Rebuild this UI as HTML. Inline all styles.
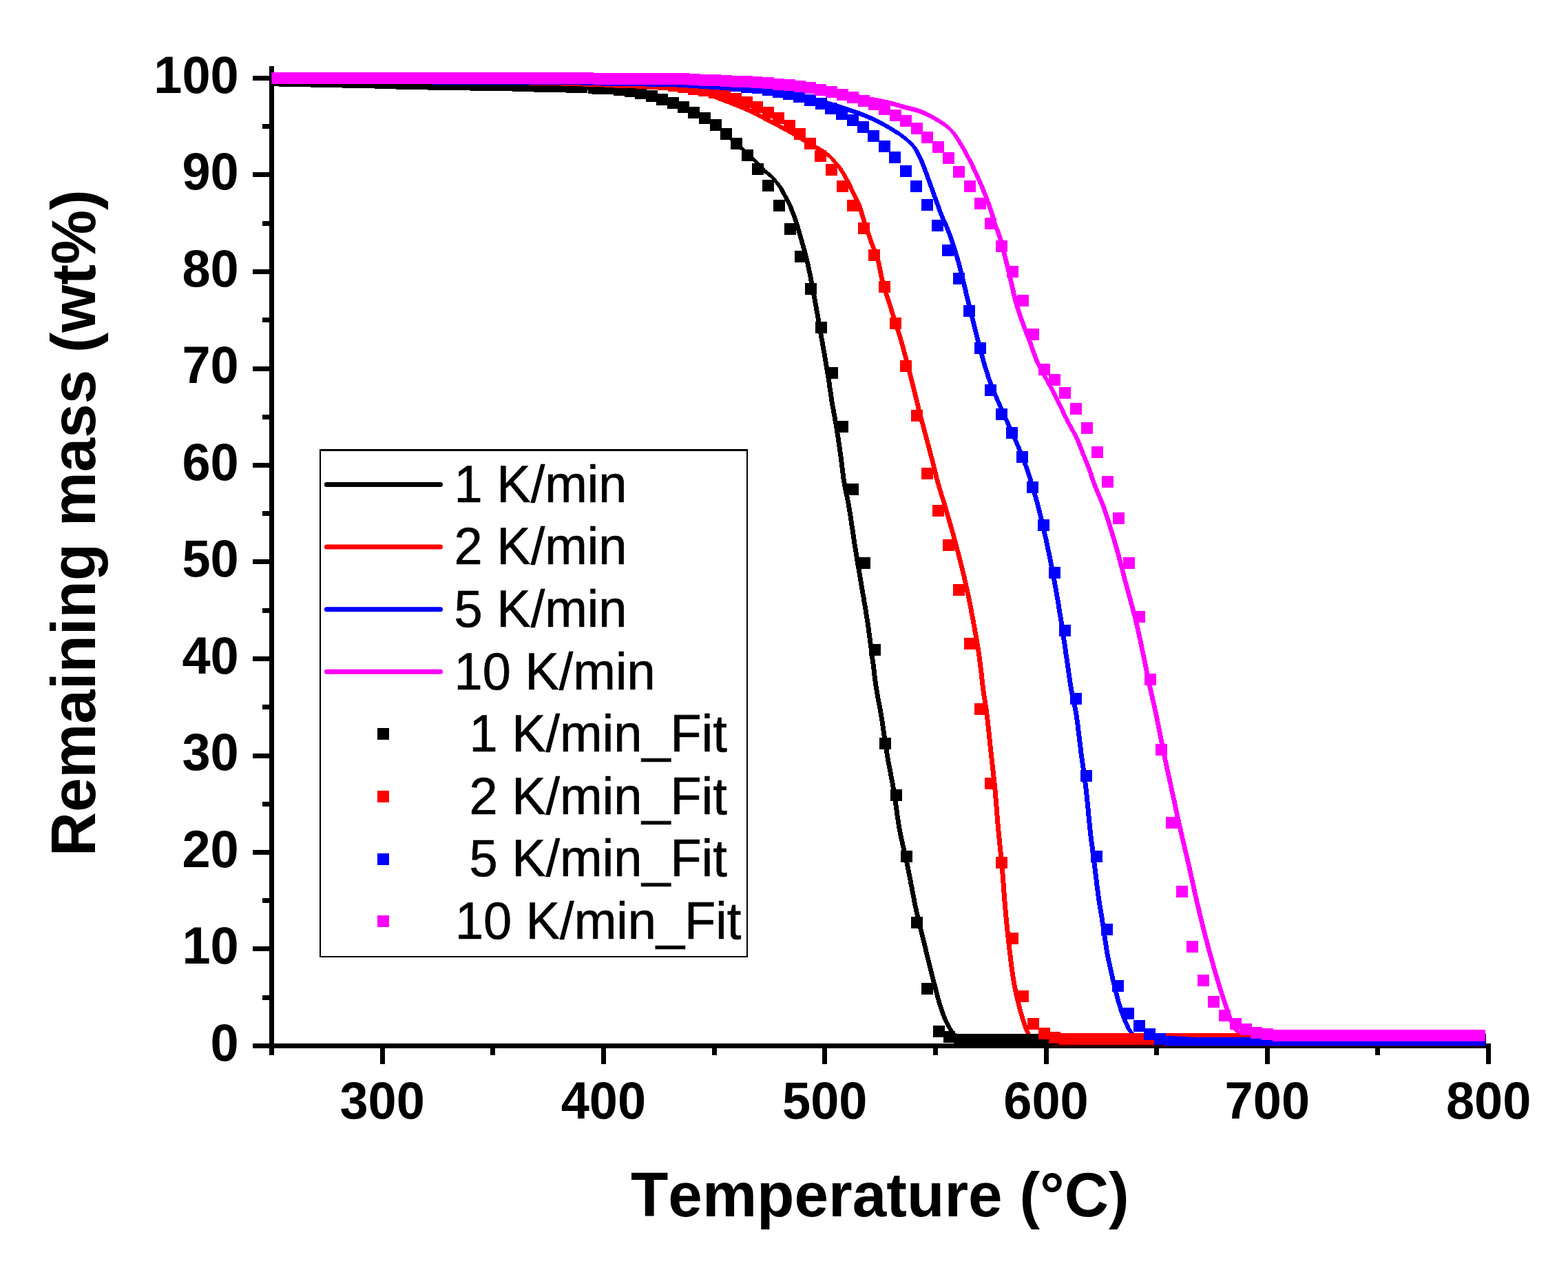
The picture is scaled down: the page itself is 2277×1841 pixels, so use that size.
<!DOCTYPE html>
<html lang="en"><head><meta charset="utf-8"><title>Remaining mass vs. temperature</title>
<style>html,body{margin:0;padding:0;background:#fff}body{width:2277px;height:1841px;overflow:hidden}svg{display:block}text{font-family:"Liberation Sans",sans-serif;fill:#000;font-kerning:none;stroke:#000;stroke-width:.7px;stroke-linejoin:round}.b{font-weight:bold;stroke-width:0}</style></head><body>
<svg width="2277" height="1841" viewBox="0 0 2277 1841" role="img" aria-label="Remaining mass versus temperature for heating rates of 1, 2, 5 and 10 K/min with model fits">
<rect width="2277" height="1841" fill="#fff"/>
<g fill="#000" shape-rendering="crispEdges">
<rect x="391" y="96" width="7" height="1426"/>
<rect x="391" y="1515" width="1774" height="7"/>
<rect x="367" y="1515" width="25" height="7"/>
<rect x="381" y="1445" width="11" height="7"/>
<rect x="367" y="1374" width="25" height="7"/>
<rect x="381" y="1304" width="11" height="7"/>
<rect x="367" y="1234" width="25" height="7"/>
<rect x="381" y="1164" width="11" height="7"/>
<rect x="367" y="1094" width="25" height="7"/>
<rect x="381" y="1023" width="11" height="7"/>
<rect x="367" y="953" width="25" height="7"/>
<rect x="381" y="883" width="11" height="7"/>
<rect x="367" y="812" width="25" height="7"/>
<rect x="381" y="742" width="11" height="7"/>
<rect x="367" y="672" width="25" height="7"/>
<rect x="381" y="602" width="11" height="7"/>
<rect x="367" y="532" width="25" height="7"/>
<rect x="381" y="461" width="11" height="7"/>
<rect x="367" y="391" width="25" height="7"/>
<rect x="381" y="321" width="11" height="7"/>
<rect x="367" y="250" width="25" height="7"/>
<rect x="381" y="180" width="11" height="7"/>
<rect x="367" y="110" width="25" height="7"/>
<rect x="391" y="1521" width="7" height="11"/>
<rect x="552" y="1521" width="7" height="24"/>
<rect x="712" y="1521" width="7" height="11"/>
<rect x="873" y="1521" width="7" height="24"/>
<rect x="1034" y="1521" width="7" height="11"/>
<rect x="1194" y="1521" width="7" height="24"/>
<rect x="1355" y="1521" width="7" height="11"/>
<rect x="1516" y="1521" width="7" height="24"/>
<rect x="1676" y="1521" width="7" height="11"/>
<rect x="1837" y="1521" width="7" height="24"/>
<rect x="1997" y="1521" width="7" height="11"/>
<rect x="2158" y="1521" width="7" height="24"/>
</g>
<text transform="translate(346.7 1539.5) scale(1 1.027)" font-size="74" text-anchor="end" class="b">0</text>
<text transform="translate(346.7 1399.0) scale(1 1.027)" font-size="74" text-anchor="end" class="b">10</text>
<text transform="translate(346.7 1258.5) scale(1 1.027)" font-size="74" text-anchor="end" class="b">20</text>
<text transform="translate(346.7 1118.0) scale(1 1.027)" font-size="74" text-anchor="end" class="b">30</text>
<text transform="translate(346.7 977.5) scale(1 1.027)" font-size="74" text-anchor="end" class="b">40</text>
<text transform="translate(346.7 837.0) scale(1 1.027)" font-size="74" text-anchor="end" class="b">50</text>
<text transform="translate(346.7 696.5) scale(1 1.027)" font-size="74" text-anchor="end" class="b">60</text>
<text transform="translate(346.7 556.0) scale(1 1.027)" font-size="74" text-anchor="end" class="b">70</text>
<text transform="translate(346.7 415.5) scale(1 1.027)" font-size="74" text-anchor="end" class="b">80</text>
<text transform="translate(346.7 275.0) scale(1 1.027)" font-size="74" text-anchor="end" class="b">90</text>
<text transform="translate(346.7 134.5) scale(1 1.027)" font-size="74" text-anchor="end" class="b">100</text>
<text transform="translate(555.1 1624.0) scale(1 1.027)" font-size="74" text-anchor="middle" class="b">300</text>
<text transform="translate(876.4 1624.0) scale(1 1.027)" font-size="74" text-anchor="middle" class="b">400</text>
<text transform="translate(1197.7 1624.0) scale(1 1.027)" font-size="74" text-anchor="middle" class="b">500</text>
<text transform="translate(1519.0 1624.0) scale(1 1.027)" font-size="74" text-anchor="middle" class="b">600</text>
<text transform="translate(1840.3 1624.0) scale(1 1.027)" font-size="74" text-anchor="middle" class="b">700</text>
<text transform="translate(2161.6 1624.0) scale(1 1.027)" font-size="74" text-anchor="middle" class="b">800</text>
<text transform="translate(1277.8 1765.9) scale(1 1.025)" font-size="89.1" text-anchor="middle" class="b">Temperature (°C)</text>
<text class="b" font-size="88.9" text-anchor="middle" transform="translate(137.6 759.3) rotate(-90) scale(1 1.025)">Remaining mass (wt%)</text>
<defs><clipPath id="plot"><rect x="394.5" y="90" width="1780" height="1428.5"/></clipPath></defs>
<g clip-path="url(#plot)">
<g shape-rendering="crispEdges">
<path fill="#000000" d="M394.5,113.5 397.0,113.6 399.5,113.6 402.0,113.7 404.5,113.7 407.0,113.8 409.5,113.8 412.0,113.9 414.5,113.9 417.0,114.0 419.5,114.1 422.0,114.1 424.5,114.2 427.0,114.2 429.5,114.3 432.0,114.3 434.5,114.4 437.0,114.4 439.5,114.5 442.0,114.5 444.5,114.6 447.0,114.7 449.5,114.7 452.0,114.8 454.5,114.8 457.0,114.9 459.5,114.9 462.0,115.0 464.5,115.0 467.0,115.1 469.5,115.1 472.0,115.2 474.5,115.2 477.0,115.3 479.5,115.3 482.0,115.4 484.5,115.4 487.0,115.5 489.5,115.6 492.0,115.6 494.5,115.7 497.0,115.7 499.5,115.8 502.0,115.8 504.5,115.9 507.0,115.9 509.5,116.0 512.0,116.0 514.5,116.1 517.0,116.1 519.5,116.2 522.0,116.2 524.5,116.3 527.0,116.3 529.5,116.4 532.0,116.4 534.5,116.5 537.0,116.5 539.5,116.6 542.0,116.6 544.5,116.7 547.0,116.7 549.5,116.8 552.0,116.8 554.5,116.9 557.0,116.9 559.5,117.0 562.0,117.0 564.5,117.1 567.0,117.1 569.5,117.2 572.0,117.2 574.5,117.3 577.0,117.3 579.5,117.4 582.0,117.4 584.5,117.5 587.0,117.5 589.5,117.6 592.0,117.6 594.5,117.7 597.0,117.7 599.5,117.7 602.0,117.8 604.5,117.8 607.0,117.9 609.5,117.9 612.0,118.0 614.5,118.0 617.0,118.1 619.5,118.1 622.0,118.1 624.5,118.2 627.0,118.2 629.5,118.3 632.0,118.3 634.5,118.4 637.0,118.4 639.5,118.5 641.9,118.5 644.4,118.5 646.9,118.6 649.4,118.6 651.9,118.7 654.4,118.7 656.9,118.8 659.4,118.8 661.9,118.9 664.4,118.9 666.9,119.0 669.4,119.0 671.9,119.1 674.4,119.1 676.9,119.2 679.4,119.2 681.9,119.2 684.4,119.3 686.9,119.3 689.4,119.4 691.9,119.4 694.4,119.5 696.9,119.5 699.4,119.6 701.9,119.7 704.4,119.7 706.9,119.8 709.4,119.8 711.9,119.9 714.4,119.9 716.9,120.0 719.4,120.0 721.9,120.1 724.4,120.1 726.9,120.2 729.4,120.3 731.9,120.3 734.4,120.4 736.9,120.4 739.4,120.5 741.9,120.5 744.4,120.6 746.9,120.6 749.4,120.7 751.9,120.8 754.4,120.8 756.9,120.9 759.4,120.9 761.9,121.0 764.4,121.1 766.9,121.1 769.4,121.2 771.9,121.2 774.4,121.3 776.9,121.4 779.4,121.4 781.9,121.5 784.4,121.6 786.9,121.6 789.4,121.7 791.9,121.8 794.4,121.8 796.9,121.9 799.4,122.0 801.9,122.1 804.4,122.1 806.9,122.2 809.4,122.3 811.9,122.4 814.4,122.5 816.9,122.5 819.4,122.6 821.9,122.7 824.4,122.8 826.9,122.9 829.4,123.0 831.9,123.1 834.4,123.2 836.9,123.3 839.4,123.4 841.9,123.5 844.4,123.6 846.9,123.7 849.4,123.8 851.9,123.9 854.4,124.0 856.9,124.1 859.4,124.2 861.9,124.4 864.4,124.5 866.9,124.6 869.4,124.8 871.9,124.9 874.4,125.1 876.9,125.2 879.4,125.4 881.9,125.6 884.4,125.7 886.9,125.9 889.4,126.1 891.9,126.3 894.3,126.5 896.8,126.7 899.3,126.9 901.8,127.2 904.2,127.4 906.7,127.8 909.2,128.1 911.7,128.5 914.1,128.9 916.6,129.3 919.1,129.8 921.5,130.3 924.0,130.8 926.4,131.3 928.9,131.8 931.3,132.4 933.8,132.9 936.2,133.5 938.7,134.1 941.1,134.7 943.5,135.3 945.9,135.9 948.3,136.5 950.8,137.1 953.2,137.8 955.6,138.5 958.0,139.2 960.4,139.9 962.8,140.6 965.2,141.4 967.6,142.2 969.9,143.0 972.3,143.8 974.7,144.7 977.1,145.5 979.4,146.4 981.7,147.3 984.1,148.2 986.4,149.2 988.7,150.1 991.0,151.1 993.2,152.0 995.5,153.0 997.8,154.0 1000.0,155.1 1002.3,156.2 1004.6,157.3 1006.8,158.4 1009.1,159.5 1011.3,160.7 1013.5,161.9 1015.7,163.1 1017.9,164.4 1020.1,165.6 1022.3,166.9 1024.4,168.2 1026.6,169.5 1028.7,170.9 1030.8,172.2 1032.9,173.6 1034.9,175.0 1037.0,176.4 1039.0,177.8 1041.0,179.3 1042.9,180.8 1044.8,182.4 1046.7,184.0 1048.6,185.7 1050.4,187.4 1052.2,189.1 1054.0,190.9 1055.8,192.6 1057.7,194.4 1059.5,196.1 1061.3,197.9 1063.2,199.5 1065.0,201.2 1066.9,202.9 1068.7,204.5 1070.6,206.2 1072.5,207.9 1074.3,209.5 1076.2,211.2 1078.0,212.9 1079.9,214.6 1081.7,216.3 1083.5,218.0 1085.3,219.8 1087.1,221.5 1088.9,223.2 1090.8,224.9 1092.6,226.6 1094.4,228.4 1096.2,230.1 1098.1,231.8 1099.9,233.5 1101.7,235.2 1106.9,240.5 1108.6,242.3 1110.3,244.2 1111.9,246.1 1110.2,244.4 1112.0,246.0 1114.0,247.6 1116.0,249.2 1117.9,250.8 1119.7,252.5 1124.9,257.8 1126.7,259.6 1128.4,261.4 1130.0,263.3 1131.6,265.2 1133.2,267.2 1134.7,269.2 1136.2,271.2 1137.6,273.3 1138.8,275.4 1140.0,277.6 1141.1,279.9 1142.2,282.1 1143.4,284.3 1144.6,286.5 1145.7,288.7 1146.9,291.0 1148.1,293.2 1149.2,295.4 1150.3,297.6 1151.3,299.9 1152.3,302.2 1153.1,304.6 1154.0,306.9 1154.9,309.3 1155.8,311.6 1156.7,313.9 1157.6,316.2 1158.5,318.6 1159.3,321.0 1160.0,323.3 1160.7,325.7 1161.4,328.1 1162.1,330.6 1162.8,333.0 1163.5,335.4 1164.2,337.8 1164.9,340.2 1165.6,342.6 1166.3,345.0 1167.0,347.4 1167.7,349.8 1168.4,352.2 1169.1,354.6 1169.7,357.0 1170.4,359.4 1171.1,361.8 1171.8,364.2 1172.4,366.6 1173.1,369.0 1173.7,371.5 1174.3,373.9 1174.9,376.3 1175.5,378.7 1176.1,381.2 1176.6,383.6 1177.2,386.0 1177.7,388.5 1178.2,390.9 1178.7,393.4 1179.2,395.8 1179.7,398.3 1180.2,400.7 1180.7,403.2 1181.2,405.6 1181.6,408.1 1182.1,410.5 1182.6,413.0 1183.0,415.5 1183.5,417.9 1183.9,420.4 1184.4,422.8 1184.8,425.3 1185.3,427.8 1185.7,430.2 1186.2,432.7 1186.7,435.1 1187.1,437.6 1187.6,440.0 1188.0,442.5 1188.5,445.0 1188.9,447.4 1189.4,449.9 1189.8,452.3 1190.2,454.8 1190.7,457.3 1191.1,459.7 1191.5,462.2 1192.0,464.7 1192.4,467.1 1192.8,469.6 1193.3,472.0 1193.7,474.5 1194.1,477.0 1194.6,479.4 1195.0,481.9 1195.4,484.4 1195.8,486.8 1196.3,489.3 1196.7,491.8 1197.1,494.2 1197.6,496.7 1198.0,499.1 1198.4,501.6 1198.9,504.1 1199.3,506.5 1199.7,509.0 1200.2,511.5 1200.6,513.9 1201.0,516.4 1201.4,518.8 1201.9,521.3 1202.3,523.8 1202.7,526.2 1203.1,528.7 1203.6,531.2 1204.0,533.6 1204.4,536.1 1204.8,538.6 1205.2,541.0 1205.6,543.5 1206.0,546.0 1206.4,548.4 1206.8,550.9 1207.2,553.4 1207.6,555.8 1207.9,558.3 1208.3,560.8 1208.6,563.3 1209.0,565.7 1209.4,568.2 1209.7,570.7 1210.1,573.2 1210.4,575.6 1210.8,578.1 1211.2,580.6 1211.6,583.0 1212.0,585.5 1212.4,588.0 1212.8,590.4 1213.3,592.9 1213.7,595.4 1214.1,597.8 1214.6,600.3 1215.0,602.7 1215.5,605.2 1216.0,607.7 1216.4,610.1 1216.9,612.6 1217.3,615.0 1217.7,617.5 1218.1,620.0 1218.5,622.4 1218.9,624.9 1219.3,627.4 1219.7,629.8 1220.1,632.3 1220.5,634.8 1220.8,637.3 1221.2,639.7 1221.6,642.2 1221.9,644.7 1222.3,647.2 1222.6,649.6 1223.0,652.1 1223.3,654.6 1223.7,657.1 1224.0,659.5 1224.3,662.0 1224.7,664.5 1225.0,667.0 1225.3,669.4 1225.6,671.9 1225.9,674.4 1226.2,676.9 1226.5,679.4 1226.8,681.9 1227.1,684.3 1227.4,686.8 1227.8,689.3 1228.1,691.8 1228.4,694.3 1228.8,696.7 1229.2,699.2 1229.6,701.7 1230.0,704.1 1230.5,706.6 1230.9,709.0 1231.4,711.5 1231.9,713.9 1232.4,716.4 1233.0,718.8 1233.5,721.3 1234.0,723.7 1234.5,726.2 1235.0,728.6 1235.5,731.1 1236.0,733.5 1236.4,736.0 1236.8,738.5 1237.2,740.9 1237.6,743.4 1238.0,745.8 1238.4,748.3 1238.8,750.8 1239.2,753.3 1239.5,755.7 1239.9,758.2 1240.2,760.7 1240.6,763.2 1241.0,765.6 1241.3,768.1 1241.7,770.6 1242.0,773.1 1242.4,775.5 1242.7,778.0 1243.1,780.5 1243.5,783.0 1243.8,785.4 1244.2,787.9 1244.6,790.4 1245.0,792.8 1245.4,795.3 1245.8,797.8 1246.2,800.3 1246.6,802.7 1247.0,805.2 1247.4,807.7 1247.8,810.1 1248.2,812.6 1248.6,815.1 1249.0,817.5 1249.4,820.0 1249.8,822.4 1250.3,824.9 1250.7,827.4 1251.1,829.8 1251.5,832.3 1251.9,834.8 1252.3,837.2 1252.8,839.7 1253.2,842.2 1253.6,844.6 1254.0,847.1 1254.4,849.6 1254.8,852.0 1255.2,854.5 1255.7,857.0 1256.1,859.4 1256.5,861.9 1256.9,864.4 1257.4,866.8 1257.8,869.3 1258.2,871.7 1258.6,874.2 1259.1,876.7 1259.5,879.1 1259.9,881.6 1260.3,884.1 1260.7,886.5 1261.1,889.0 1261.5,891.5 1261.9,893.9 1262.3,896.4 1262.7,898.9 1263.1,901.4 1263.4,903.8 1263.8,906.3 1264.2,908.8 1264.5,911.2 1264.9,913.7 1265.2,916.2 1265.5,918.7 1265.9,921.1 1266.2,923.6 1266.6,926.1 1266.9,928.6 1267.2,931.1 1267.5,933.5 1267.9,936.0 1268.2,938.5 1268.5,941.0 1268.8,943.5 1269.1,945.9 1269.5,948.4 1269.8,950.9 1270.1,953.4 1270.4,955.9 1270.7,958.3 1271.1,960.8 1271.4,963.3 1271.7,965.8 1272.0,968.3 1272.3,970.7 1272.6,973.2 1272.9,975.7 1273.2,978.2 1273.5,980.7 1273.8,983.2 1274.1,985.6 1274.4,988.1 1274.8,990.6 1275.1,993.1 1275.4,995.5 1275.8,998.0 1276.2,1000.5 1276.6,1003.0 1277.0,1005.4 1277.4,1007.9 1277.9,1010.3 1278.3,1012.8 1278.8,1015.2 1279.3,1017.7 1279.8,1020.2 1280.2,1022.6 1280.7,1025.1 1281.2,1027.5 1281.7,1030.0 1282.1,1032.4 1282.5,1034.9 1282.9,1037.4 1283.3,1039.8 1283.7,1042.3 1284.1,1044.8 1284.5,1047.2 1284.9,1049.7 1285.2,1052.2 1285.6,1054.7 1286.0,1057.1 1286.3,1059.6 1286.7,1062.1 1287.0,1064.6 1287.4,1067.0 1287.7,1069.5 1288.1,1072.0 1288.4,1074.5 1288.8,1076.9 1289.2,1079.4 1289.5,1081.9 1289.9,1084.4 1290.3,1086.8 1290.7,1089.3 1291.1,1091.8 1291.5,1094.2 1291.9,1096.7 1292.4,1099.2 1292.8,1101.6 1293.2,1104.1 1293.7,1106.5 1294.2,1109.0 1294.6,1111.4 1295.1,1113.9 1295.6,1116.4 1296.0,1118.8 1296.5,1121.3 1297.0,1123.7 1297.4,1126.2 1297.9,1128.6 1298.4,1131.1 1298.8,1133.6 1299.3,1136.0 1299.7,1138.5 1300.1,1140.9 1300.6,1143.4 1301.0,1145.9 1301.4,1148.3 1301.8,1150.8 1302.2,1153.3 1302.6,1155.7 1302.9,1158.2 1303.3,1160.7 1303.7,1163.2 1304.0,1165.6 1304.4,1168.1 1304.7,1170.6 1305.1,1173.1 1305.4,1175.5 1305.7,1178.0 1306.1,1180.5 1306.4,1183.0 1306.8,1185.5 1307.2,1187.9 1307.5,1190.4 1307.9,1192.9 1308.3,1195.3 1308.7,1197.8 1309.1,1200.3 1309.5,1202.7 1310.0,1205.2 1310.4,1207.6 1310.9,1210.1 1311.4,1212.5 1311.9,1215.0 1312.4,1217.4 1312.9,1219.9 1313.5,1222.3 1314.0,1224.8 1314.6,1227.2 1315.1,1229.6 1315.7,1232.1 1316.2,1234.5 1316.8,1237.0 1317.4,1239.4 1317.9,1241.8 1318.5,1244.3 1319.0,1246.7 1319.6,1249.2 1320.1,1251.6 1320.7,1254.0 1321.2,1256.5 1321.7,1258.9 1322.2,1261.4 1322.7,1263.8 1323.2,1266.3 1323.7,1268.7 1324.1,1271.2 1324.6,1273.6 1325.1,1276.1 1325.6,1278.5 1326.0,1281.0 1326.5,1283.5 1327.0,1285.9 1327.5,1288.4 1327.9,1290.8 1328.4,1293.3 1328.9,1295.7 1329.3,1298.2 1329.8,1300.6 1330.3,1303.1 1330.8,1305.6 1331.2,1308.0 1331.7,1310.5 1332.2,1312.9 1332.7,1315.4 1333.2,1317.8 1333.7,1320.3 1334.3,1322.7 1334.8,1325.1 1335.4,1327.6 1335.9,1330.0 1336.5,1332.4 1337.1,1334.9 1337.6,1337.3 1338.2,1339.7 1338.8,1342.2 1339.4,1344.6 1340.0,1347.0 1340.6,1349.5 1341.2,1351.9 1341.8,1354.3 1342.4,1356.7 1343.0,1359.2 1343.6,1361.6 1344.2,1364.0 1344.8,1366.5 1345.4,1368.9 1346.0,1371.3 1346.6,1373.7 1347.2,1376.2 1347.8,1378.6 1348.4,1381.0 1348.9,1383.5 1349.5,1385.9 1350.1,1388.3 1350.7,1390.7 1351.3,1393.2 1351.9,1395.6 1352.5,1398.0 1353.1,1400.4 1353.7,1402.9 1354.4,1405.3 1355.0,1407.7 1355.6,1410.1 1356.2,1412.6 1356.8,1415.0 1357.4,1417.4 1358.1,1419.8 1358.7,1422.3 1359.3,1424.7 1359.9,1427.1 1360.6,1429.5 1361.2,1431.9 1361.8,1434.4 1362.4,1436.8 1363.1,1439.2 1363.7,1441.6 1364.3,1444.1 1364.9,1446.5 1365.6,1448.9 1366.2,1451.3 1366.9,1453.7 1367.6,1456.1 1368.3,1458.5 1369.0,1460.9 1369.8,1463.3 1370.6,1465.6 1371.4,1468.0 1372.2,1470.4 1373.1,1472.7 1374.0,1475.1 1375.0,1477.4 1376.0,1479.7 1377.0,1481.9 1378.1,1484.2 1379.2,1486.5 1380.3,1488.8 1381.5,1491.1 1382.8,1493.3 1384.2,1495.5 1385.6,1497.5 1387.1,1499.4 1385.2,1497.5 1387.1,1499.2 1389.1,1500.8 1391.3,1502.4 1393.6,1503.7 1395.9,1504.8 1398.2,1505.4 1400.6,1505.6 1403.0,1505.8 1405.4,1506.0 1407.9,1506.2 1410.5,1506.3 1413.0,1506.4 1415.6,1506.5 1418.1,1506.5 1420.6,1506.5 1423.1,1506.5 1425.6,1506.5 1428.1,1506.5 1430.6,1506.5 1433.1,1506.5 1435.6,1506.5 1438.1,1506.5 1440.6,1506.5 1443.1,1506.5 1445.6,1506.5 1448.1,1506.5 1450.6,1506.5 1453.1,1506.5 1455.6,1506.5 1458.1,1506.5 1460.6,1506.5 1463.1,1506.5 1465.6,1506.5 1468.1,1506.5 1470.6,1506.5 1473.1,1506.5 1475.6,1506.5 1478.1,1506.5 1480.6,1506.5 1483.1,1506.5 1485.6,1506.5 1488.1,1506.5 1490.6,1506.5 1493.1,1506.5 1495.6,1506.5 1498.1,1506.5 1500.6,1506.5 1503.1,1506.5 1505.6,1506.5 1508.1,1506.5 1510.6,1506.5 1513.1,1506.5 1515.6,1506.5 1518.1,1506.5 1520.6,1506.5 1523.1,1506.5 1525.6,1506.5 1528.1,1506.5 1530.6,1506.5 1533.1,1506.5 1535.6,1506.5 1538.1,1506.5 1540.6,1506.5 1543.1,1506.5 1545.6,1506.5 1548.1,1506.5 1550.6,1506.5 1553.1,1506.5 1555.6,1506.5 1558.1,1506.5 1560.6,1506.5 1563.1,1506.5 1565.5,1506.5 1568.0,1506.5 1570.5,1506.5 1573.0,1506.5 1575.5,1506.5 1578.0,1506.5 1580.5,1506.5 1583.0,1506.5 1585.5,1506.5 1588.0,1506.5 1590.5,1506.5 1593.0,1506.5 1595.5,1506.5 1598.0,1506.5 1600.5,1506.5 1603.0,1506.5 1605.5,1506.5 1608.0,1506.5 1610.5,1506.5 1613.0,1506.5 1615.5,1506.5 1618.0,1506.5 1620.5,1506.5 1623.0,1506.5 1625.5,1506.5 1628.0,1506.5 1630.5,1506.5 1633.0,1506.5 1635.5,1506.5 1638.0,1506.5 1640.5,1506.5 1643.0,1506.5 1645.5,1506.5 1648.0,1506.5 1650.5,1506.5 1653.0,1506.5 1655.5,1506.5 1658.0,1506.5 1660.5,1506.5 1663.0,1506.5 1665.5,1506.5 1668.0,1506.5 1670.5,1506.5 1673.0,1506.5 1675.5,1506.5 1678.0,1506.5 1680.5,1506.5 1683.0,1506.5 1685.5,1506.5 1688.0,1506.5 1690.5,1506.5 1693.0,1506.5 1695.5,1506.5 1698.0,1506.5 1700.5,1506.5 1703.0,1506.5 1705.5,1506.5 1708.0,1506.5 1710.5,1506.5 1713.0,1506.5 1715.5,1506.5 1718.0,1506.5 1720.5,1506.5 1723.0,1506.5 1725.5,1506.5 1728.0,1506.5 1730.5,1506.5 1733.0,1506.5 1735.5,1506.5 1738.0,1506.5 1740.5,1506.5 1743.0,1506.5 1745.5,1506.5 1748.0,1506.5 1750.5,1506.5 1753.0,1506.5 1755.5,1506.5 1758.0,1506.5 1760.5,1506.5 1763.0,1506.5 1765.5,1506.5 1768.0,1506.5 1770.5,1506.5 1773.0,1506.5 1775.5,1506.5 1778.0,1506.5 1780.5,1506.5 1783.0,1506.5 1785.5,1506.5 1788.0,1506.5 1790.5,1506.5 1793.0,1506.5 1795.5,1506.5 1798.0,1506.5 1800.5,1506.5 1803.0,1506.5 1805.5,1506.5 1808.0,1506.5 1810.5,1506.5 1813.0,1506.5 1815.5,1506.5 1818.0,1506.5 1820.5,1506.5 1823.0,1506.5 1825.5,1506.5 1828.0,1506.5 1830.5,1506.5 1833.0,1506.5 1835.5,1506.5 1838.0,1506.5 1840.5,1506.5 1843.0,1506.5 1845.5,1506.5 1848.0,1506.5 1850.5,1506.5 1853.0,1506.5 1855.5,1506.5 1858.0,1506.5 1860.5,1506.5 1863.0,1506.5 1865.5,1506.5 1868.0,1506.5 1870.5,1506.5 1873.0,1506.5 1875.5,1506.5 1878.0,1506.5 1880.5,1506.5 1883.0,1506.5 1885.5,1506.5 1888.0,1506.5 1890.5,1506.5 1893.0,1506.5 1895.5,1506.5 1898.0,1506.5 1900.5,1506.5 1903.0,1506.5 1905.5,1506.5 1908.0,1506.5 1910.5,1506.5 1913.0,1506.5 1915.5,1506.5 1918.0,1506.5 1920.5,1506.5 1923.0,1506.5 1925.5,1506.5 1928.0,1506.5 1930.5,1506.5 1933.0,1506.5 1935.5,1506.5 1938.0,1506.5 1940.5,1506.5 1943.0,1506.5 1945.5,1506.5 1948.0,1506.5 1950.5,1506.5 1953.0,1506.5 1955.5,1506.5 1958.0,1506.5 1960.5,1506.5 1963.0,1506.5 1965.5,1506.5 1968.0,1506.5 1970.5,1506.5 1973.0,1506.5 1975.5,1506.5 1978.0,1506.5 1980.5,1506.5 1983.0,1506.5 1985.5,1506.5 1988.0,1506.5 1990.5,1506.5 1993.0,1506.5 1995.5,1506.5 1998.0,1506.5 2000.5,1506.5 2003.0,1506.5 2005.5,1506.5 2008.0,1506.5 2010.5,1506.5 2013.0,1506.5 2015.5,1506.5 2018.0,1506.5 2020.5,1506.5 2023.0,1506.5 2025.5,1506.5 2028.0,1506.5 2030.5,1506.5 2033.0,1506.5 2035.5,1506.5 2038.0,1506.5 2040.5,1506.5 2043.0,1506.5 2045.6,1506.5 2048.1,1506.5 2050.6,1506.5 2053.1,1506.5 2055.6,1506.5 2058.1,1506.5 2060.6,1506.5 2063.1,1506.5 2065.6,1506.5 2068.1,1506.5 2070.6,1506.5 2073.1,1506.5 2075.6,1506.5 2078.1,1506.5 2080.6,1506.5 2083.1,1506.5 2085.6,1506.5 2088.1,1506.5 2090.6,1506.5 2093.1,1506.5 2095.6,1506.5 2098.1,1506.5 2100.6,1506.5 2103.1,1506.5 2105.6,1506.5 2108.1,1506.5 2110.6,1506.5 2113.1,1506.5 2115.6,1506.5 2118.1,1506.5 2120.6,1506.5 2123.1,1506.5 2125.6,1506.5 2128.1,1506.5 2130.6,1506.5 2133.1,1506.5 2135.6,1506.5 2138.1,1506.5 2140.6,1506.5 2143.1,1506.5 2145.6,1506.5 2148.1,1506.5 2150.0,1506.5 2150.0,1513.5 2148.1,1513.5 2145.6,1513.5 2143.1,1513.5 2140.6,1513.5 2138.1,1513.5 2135.6,1513.5 2133.1,1513.5 2130.6,1513.5 2128.1,1513.5 2125.6,1513.5 2123.1,1513.5 2120.6,1513.5 2118.1,1513.5 2115.6,1513.5 2113.1,1513.5 2110.6,1513.5 2108.1,1513.5 2105.6,1513.5 2103.1,1513.5 2100.6,1513.5 2098.1,1513.5 2095.6,1513.5 2093.1,1513.5 2090.6,1513.5 2088.1,1513.5 2085.6,1513.5 2083.1,1513.5 2080.6,1513.5 2078.1,1513.5 2075.6,1513.5 2073.1,1513.5 2070.6,1513.5 2068.1,1513.5 2065.6,1513.5 2063.1,1513.5 2060.6,1513.5 2058.1,1513.5 2055.6,1513.5 2053.1,1513.5 2050.6,1513.5 2048.1,1513.5 2045.6,1513.5 2043.0,1513.5 2040.5,1513.5 2038.0,1513.5 2035.5,1513.5 2033.0,1513.5 2030.5,1513.5 2028.0,1513.5 2025.5,1513.5 2023.0,1513.5 2020.5,1513.5 2018.0,1513.5 2015.5,1513.5 2013.0,1513.5 2010.5,1513.5 2008.0,1513.5 2005.5,1513.5 2003.0,1513.5 2000.5,1513.5 1998.0,1513.5 1995.5,1513.5 1993.0,1513.5 1990.5,1513.5 1988.0,1513.5 1985.5,1513.5 1983.0,1513.5 1980.5,1513.5 1978.0,1513.5 1975.5,1513.5 1973.0,1513.5 1970.5,1513.5 1968.0,1513.5 1965.5,1513.5 1963.0,1513.5 1960.5,1513.5 1958.0,1513.5 1955.5,1513.5 1953.0,1513.5 1950.5,1513.5 1948.0,1513.5 1945.5,1513.5 1943.0,1513.5 1940.5,1513.5 1938.0,1513.5 1935.5,1513.5 1933.0,1513.5 1930.5,1513.5 1928.0,1513.5 1925.5,1513.5 1923.0,1513.5 1920.5,1513.5 1918.0,1513.5 1915.5,1513.5 1913.0,1513.5 1910.5,1513.5 1908.0,1513.5 1905.5,1513.5 1903.0,1513.5 1900.5,1513.5 1898.0,1513.5 1895.5,1513.5 1893.0,1513.5 1890.5,1513.5 1888.0,1513.5 1885.5,1513.5 1883.0,1513.5 1880.5,1513.5 1878.0,1513.5 1875.5,1513.5 1873.0,1513.5 1870.5,1513.5 1868.0,1513.5 1865.5,1513.5 1863.0,1513.5 1860.5,1513.5 1858.0,1513.5 1855.5,1513.5 1853.0,1513.5 1850.5,1513.5 1848.0,1513.5 1845.5,1513.5 1843.0,1513.5 1840.5,1513.5 1838.0,1513.5 1835.5,1513.5 1833.0,1513.5 1830.5,1513.5 1828.0,1513.5 1825.5,1513.5 1823.0,1513.5 1820.5,1513.5 1818.0,1513.5 1815.5,1513.5 1813.0,1513.5 1810.5,1513.5 1808.0,1513.5 1805.5,1513.5 1803.0,1513.5 1800.5,1513.5 1798.0,1513.5 1795.5,1513.5 1793.0,1513.5 1790.5,1513.5 1788.0,1513.5 1785.5,1513.5 1783.0,1513.5 1780.5,1513.5 1778.0,1513.5 1775.5,1513.5 1773.0,1513.5 1770.5,1513.5 1768.0,1513.5 1765.5,1513.5 1763.0,1513.5 1760.5,1513.5 1758.0,1513.5 1755.5,1513.5 1753.0,1513.5 1750.5,1513.5 1748.0,1513.5 1745.5,1513.5 1743.0,1513.5 1740.5,1513.5 1738.0,1513.5 1735.5,1513.5 1733.0,1513.5 1730.5,1513.5 1728.0,1513.5 1725.5,1513.5 1723.0,1513.5 1720.5,1513.5 1718.0,1513.5 1715.5,1513.5 1713.0,1513.5 1710.5,1513.5 1708.0,1513.5 1705.5,1513.5 1703.0,1513.5 1700.5,1513.5 1698.0,1513.5 1695.5,1513.5 1693.0,1513.5 1690.5,1513.5 1688.0,1513.5 1685.5,1513.5 1683.0,1513.5 1680.5,1513.5 1678.0,1513.5 1675.5,1513.5 1673.0,1513.5 1670.5,1513.5 1668.0,1513.5 1665.5,1513.5 1663.0,1513.5 1660.5,1513.5 1658.0,1513.5 1655.5,1513.5 1653.0,1513.5 1650.5,1513.5 1648.0,1513.5 1645.5,1513.5 1643.0,1513.5 1640.5,1513.5 1638.0,1513.5 1635.5,1513.5 1633.0,1513.5 1630.5,1513.5 1628.0,1513.5 1625.5,1513.5 1623.0,1513.5 1620.5,1513.5 1618.0,1513.5 1615.5,1513.5 1613.0,1513.5 1610.5,1513.5 1608.0,1513.5 1605.5,1513.5 1603.0,1513.5 1600.5,1513.5 1598.0,1513.5 1595.5,1513.5 1593.0,1513.5 1590.5,1513.5 1588.0,1513.5 1585.5,1513.5 1583.0,1513.5 1580.5,1513.5 1578.0,1513.5 1575.5,1513.5 1573.0,1513.5 1570.5,1513.5 1568.0,1513.5 1565.5,1513.5 1563.1,1513.5 1560.6,1513.5 1558.1,1513.5 1555.6,1513.5 1553.1,1513.5 1550.6,1513.5 1548.1,1513.5 1545.6,1513.5 1543.1,1513.5 1540.6,1513.5 1538.1,1513.5 1535.6,1513.5 1533.1,1513.5 1530.6,1513.5 1528.1,1513.5 1525.6,1513.5 1523.1,1513.5 1520.6,1513.5 1518.1,1513.5 1515.6,1513.5 1513.1,1513.5 1510.6,1513.5 1508.1,1513.5 1505.6,1513.5 1503.1,1513.5 1500.6,1513.5 1498.1,1513.5 1495.6,1513.5 1493.1,1513.5 1490.6,1513.5 1488.1,1513.5 1485.6,1513.5 1483.1,1513.5 1480.6,1513.5 1478.1,1513.5 1475.6,1513.5 1473.1,1513.5 1470.6,1513.5 1468.1,1513.5 1465.6,1513.5 1463.1,1513.5 1460.6,1513.5 1458.1,1513.5 1455.6,1513.5 1453.1,1513.5 1450.6,1513.5 1448.1,1513.5 1445.6,1513.5 1443.1,1513.5 1440.6,1513.5 1438.1,1513.5 1435.6,1513.5 1433.1,1513.5 1430.6,1513.5 1428.1,1513.5 1425.6,1513.5 1423.1,1513.5 1420.6,1513.5 1418.1,1513.5 1415.6,1513.5 1413.0,1513.4 1410.5,1513.3 1407.9,1513.2 1405.4,1513.0 1403.0,1512.8 1400.6,1512.6 1398.2,1512.4 1395.9,1511.8 1393.6,1510.7 1391.3,1509.4 1389.1,1507.8 1387.1,1506.2 1385.2,1504.5 1380.1,1499.4 1378.6,1497.5 1377.2,1495.5 1375.8,1493.3 1374.5,1491.1 1373.3,1488.8 1372.2,1486.5 1371.1,1484.2 1370.0,1481.9 1369.0,1479.7 1368.0,1477.4 1367.0,1475.1 1366.1,1472.7 1365.2,1470.4 1364.4,1468.0 1363.6,1465.6 1362.8,1463.3 1362.0,1460.9 1361.3,1458.5 1360.6,1456.1 1359.9,1453.7 1359.2,1451.3 1358.6,1448.9 1357.9,1446.5 1357.3,1444.1 1356.7,1441.6 1356.1,1439.2 1355.4,1436.8 1354.8,1434.4 1354.2,1431.9 1353.6,1429.5 1352.9,1427.1 1352.3,1424.7 1351.7,1422.3 1351.1,1419.8 1350.4,1417.4 1349.8,1415.0 1349.2,1412.6 1348.6,1410.1 1348.0,1407.7 1347.4,1405.3 1346.7,1402.9 1346.1,1400.4 1345.5,1398.0 1344.9,1395.6 1344.3,1393.2 1343.7,1390.7 1343.1,1388.3 1342.5,1385.9 1341.9,1383.5 1341.4,1381.0 1340.8,1378.6 1340.2,1376.2 1339.6,1373.7 1339.0,1371.3 1338.4,1368.9 1337.8,1366.5 1337.2,1364.0 1336.6,1361.6 1336.0,1359.2 1335.4,1356.7 1334.8,1354.3 1334.2,1351.9 1333.6,1349.5 1333.0,1347.0 1332.4,1344.6 1331.8,1342.2 1331.2,1339.7 1330.6,1337.3 1330.1,1334.9 1329.5,1332.4 1328.9,1330.0 1328.4,1327.6 1327.8,1325.1 1327.3,1322.7 1326.7,1320.3 1326.2,1317.8 1325.7,1315.4 1325.2,1312.9 1324.7,1310.5 1324.2,1308.0 1323.8,1305.6 1323.3,1303.1 1322.8,1300.6 1322.3,1298.2 1321.9,1295.7 1321.4,1293.3 1320.9,1290.8 1320.5,1288.4 1320.0,1285.9 1319.5,1283.5 1319.0,1281.0 1318.6,1278.5 1318.1,1276.1 1317.6,1273.6 1317.1,1271.2 1316.7,1268.7 1316.2,1266.3 1315.7,1263.8 1315.2,1261.4 1314.7,1258.9 1314.2,1256.5 1313.7,1254.0 1313.1,1251.6 1312.6,1249.2 1312.0,1246.7 1311.5,1244.3 1310.9,1241.8 1310.4,1239.4 1309.8,1237.0 1309.2,1234.5 1308.7,1232.1 1308.1,1229.6 1307.6,1227.2 1307.0,1224.8 1306.5,1222.3 1305.9,1219.9 1305.4,1217.4 1304.9,1215.0 1304.4,1212.5 1303.9,1210.1 1303.4,1207.6 1303.0,1205.2 1302.5,1202.7 1302.1,1200.3 1301.7,1197.8 1301.3,1195.3 1300.9,1192.9 1300.5,1190.4 1300.2,1187.9 1299.8,1185.5 1299.4,1183.0 1299.1,1180.5 1298.7,1178.0 1298.4,1175.5 1298.1,1173.1 1297.7,1170.6 1297.4,1168.1 1297.0,1165.6 1296.7,1163.2 1296.3,1160.7 1295.9,1158.2 1295.6,1155.7 1295.2,1153.3 1294.8,1150.8 1294.4,1148.3 1294.0,1145.9 1293.6,1143.4 1293.1,1140.9 1292.7,1138.5 1292.3,1136.0 1291.8,1133.6 1291.4,1131.1 1290.9,1128.6 1290.4,1126.2 1290.0,1123.7 1289.5,1121.3 1289.0,1118.8 1288.6,1116.4 1288.1,1113.9 1287.6,1111.4 1287.2,1109.0 1286.7,1106.5 1286.2,1104.1 1285.8,1101.6 1285.4,1099.2 1284.9,1096.7 1284.5,1094.2 1284.1,1091.8 1283.7,1089.3 1283.3,1086.8 1282.9,1084.4 1282.5,1081.9 1282.2,1079.4 1281.8,1076.9 1281.4,1074.5 1281.1,1072.0 1280.7,1069.5 1280.4,1067.0 1280.0,1064.6 1279.7,1062.1 1279.3,1059.6 1279.0,1057.1 1278.6,1054.7 1278.2,1052.2 1277.9,1049.7 1277.5,1047.2 1277.1,1044.8 1276.7,1042.3 1276.3,1039.8 1275.9,1037.4 1275.5,1034.9 1275.1,1032.4 1274.7,1030.0 1274.2,1027.5 1273.7,1025.1 1273.2,1022.6 1272.8,1020.2 1272.3,1017.7 1271.8,1015.2 1271.3,1012.8 1270.9,1010.3 1270.4,1007.9 1270.0,1005.4 1269.6,1003.0 1269.2,1000.5 1268.8,998.0 1268.4,995.5 1268.1,993.1 1267.8,990.6 1267.4,988.1 1267.1,985.6 1266.8,983.2 1266.5,980.7 1266.2,978.2 1265.9,975.7 1265.6,973.2 1265.3,970.7 1265.0,968.3 1264.7,965.8 1264.4,963.3 1264.1,960.8 1263.7,958.3 1263.4,955.9 1263.1,953.4 1262.8,950.9 1262.5,948.4 1262.1,945.9 1261.8,943.5 1261.5,941.0 1261.2,938.5 1260.9,936.0 1260.5,933.5 1260.2,931.1 1259.9,928.6 1259.6,926.1 1259.2,923.6 1258.9,921.1 1258.5,918.7 1258.2,916.2 1257.9,913.7 1257.5,911.2 1257.2,908.8 1256.8,906.3 1256.4,903.8 1256.1,901.4 1255.7,898.9 1255.3,896.4 1254.9,893.9 1254.5,891.5 1254.1,889.0 1253.7,886.5 1253.3,884.1 1252.9,881.6 1252.5,879.1 1252.1,876.7 1251.6,874.2 1251.2,871.7 1250.8,869.3 1250.4,866.8 1249.9,864.4 1249.5,861.9 1249.1,859.4 1248.7,857.0 1248.2,854.5 1247.8,852.0 1247.4,849.6 1247.0,847.1 1246.6,844.6 1246.2,842.2 1245.8,839.7 1245.3,837.2 1244.9,834.8 1244.5,832.3 1244.1,829.8 1243.7,827.4 1243.3,824.9 1242.8,822.4 1242.4,820.0 1242.0,817.5 1241.6,815.1 1241.2,812.6 1240.8,810.1 1240.4,807.7 1240.0,805.2 1239.6,802.7 1239.2,800.3 1238.8,797.8 1238.4,795.3 1238.0,792.8 1237.6,790.4 1237.2,787.9 1236.8,785.4 1236.5,783.0 1236.1,780.5 1235.7,778.0 1235.4,775.5 1235.0,773.1 1234.7,770.6 1234.3,768.1 1234.0,765.6 1233.6,763.2 1233.2,760.7 1232.9,758.2 1232.5,755.7 1232.2,753.3 1231.8,750.8 1231.4,748.3 1231.0,745.8 1230.6,743.4 1230.2,740.9 1229.8,738.5 1229.4,736.0 1229.0,733.5 1228.5,731.1 1228.0,728.6 1227.5,726.2 1227.0,723.7 1226.5,721.3 1226.0,718.8 1225.4,716.4 1224.9,713.9 1224.4,711.5 1223.9,709.0 1223.5,706.6 1223.0,704.1 1222.6,701.7 1222.2,699.2 1221.8,696.7 1221.4,694.3 1221.1,691.8 1220.8,689.3 1220.4,686.8 1220.1,684.3 1219.8,681.9 1219.5,679.4 1219.2,676.9 1218.9,674.4 1218.6,671.9 1218.3,669.4 1218.0,667.0 1217.7,664.5 1217.3,662.0 1217.0,659.5 1216.7,657.1 1216.3,654.6 1216.0,652.1 1215.6,649.6 1215.3,647.2 1214.9,644.7 1214.6,642.2 1214.2,639.7 1213.8,637.3 1213.5,634.8 1213.1,632.3 1212.7,629.8 1212.3,627.4 1211.9,624.9 1211.5,622.4 1211.1,620.0 1210.7,617.5 1210.3,615.0 1209.9,612.6 1209.4,610.1 1209.0,607.7 1208.5,605.2 1208.0,602.7 1207.6,600.3 1207.1,597.8 1206.7,595.4 1206.3,592.9 1205.8,590.4 1205.4,588.0 1205.0,585.5 1204.6,583.0 1204.2,580.6 1203.8,578.1 1203.4,575.6 1203.1,573.2 1202.7,570.7 1202.4,568.2 1202.0,565.7 1201.6,563.3 1201.3,560.8 1200.9,558.3 1200.6,555.8 1200.2,553.4 1199.8,550.9 1199.4,548.4 1199.0,546.0 1198.6,543.5 1198.2,541.0 1197.8,538.6 1197.4,536.1 1197.0,533.6 1196.6,531.2 1196.1,528.7 1195.7,526.2 1195.3,523.8 1194.9,521.3 1194.4,518.8 1194.0,516.4 1193.6,513.9 1193.2,511.5 1192.7,509.0 1192.3,506.5 1191.9,504.1 1191.4,501.6 1191.0,499.1 1190.6,496.7 1190.1,494.2 1189.7,491.8 1189.3,489.3 1188.8,486.8 1188.4,484.4 1188.0,481.9 1187.6,479.4 1187.1,477.0 1186.7,474.5 1186.3,472.0 1185.8,469.6 1185.4,467.1 1185.0,464.7 1184.5,462.2 1184.1,459.7 1183.7,457.3 1183.2,454.8 1182.8,452.3 1182.4,449.9 1181.9,447.4 1181.5,445.0 1181.0,442.5 1180.6,440.0 1180.1,437.6 1179.7,435.1 1179.2,432.7 1178.7,430.2 1178.3,427.8 1177.8,425.3 1177.4,422.8 1176.9,420.4 1176.5,417.9 1176.0,415.5 1175.6,413.0 1175.1,410.5 1174.6,408.1 1174.2,405.6 1173.7,403.2 1173.2,400.7 1172.7,398.3 1172.2,395.8 1171.7,393.4 1171.2,390.9 1170.7,388.5 1170.2,386.0 1169.6,383.6 1169.1,381.2 1168.5,378.7 1167.9,376.3 1167.3,373.9 1166.7,371.5 1166.1,369.0 1165.4,366.6 1164.8,364.2 1164.1,361.8 1163.4,359.4 1162.7,357.0 1162.1,354.6 1161.4,352.2 1160.7,349.8 1160.0,347.4 1159.3,345.0 1158.6,342.6 1157.9,340.2 1157.2,337.8 1156.5,335.4 1155.8,333.0 1155.1,330.6 1154.4,328.1 1153.7,325.7 1153.0,323.3 1152.3,321.0 1151.5,318.6 1150.6,316.2 1149.7,313.9 1148.8,311.6 1147.9,309.3 1147.0,306.9 1146.1,304.6 1145.3,302.2 1144.3,299.9 1143.3,297.6 1142.2,295.4 1141.1,293.2 1139.9,291.0 1138.7,288.7 1137.6,286.5 1136.4,284.3 1135.2,282.1 1134.1,279.9 1133.0,277.6 1131.8,275.4 1130.6,273.3 1129.2,271.2 1127.7,269.2 1126.2,267.2 1124.6,265.2 1123.0,263.3 1121.4,261.4 1119.7,259.6 1117.9,257.8 1119.7,259.5 1117.9,257.8 1116.0,256.2 1114.0,254.6 1112.0,253.0 1110.2,251.4 1104.9,246.1 1103.3,244.2 1101.6,242.3 1099.9,240.5 1101.7,242.2 1099.9,240.5 1098.1,238.8 1096.2,237.1 1094.4,235.4 1092.6,233.6 1090.8,231.9 1088.9,230.2 1087.1,228.5 1085.3,226.8 1083.5,225.0 1081.7,223.3 1079.9,221.6 1078.0,219.9 1076.2,218.2 1074.3,216.5 1072.5,214.9 1070.6,213.2 1068.7,211.5 1066.9,209.9 1065.0,208.2 1063.2,206.5 1061.3,204.9 1059.5,203.1 1057.7,201.4 1055.8,199.6 1054.0,197.9 1052.2,196.1 1050.4,194.4 1048.6,192.7 1046.7,191.0 1044.8,189.4 1042.9,187.8 1041.0,186.3 1039.0,184.8 1037.0,183.4 1034.9,182.0 1032.9,180.6 1030.8,179.2 1028.7,177.9 1026.6,176.5 1024.4,175.2 1022.3,173.9 1020.1,172.6 1017.9,171.4 1015.7,170.1 1013.5,168.9 1011.3,167.7 1009.1,166.5 1006.8,165.4 1004.6,164.3 1002.3,163.2 1000.0,162.1 997.8,161.0 995.5,160.0 993.2,159.0 991.0,158.1 988.7,157.1 986.4,156.2 984.1,155.2 981.7,154.3 979.4,153.4 977.1,152.5 974.7,151.7 972.3,150.8 969.9,150.0 967.6,149.2 965.2,148.4 962.8,147.6 960.4,146.9 958.0,146.2 955.6,145.5 953.2,144.8 950.8,144.1 948.3,143.5 945.9,142.9 943.5,142.3 941.1,141.7 938.7,141.1 936.2,140.5 933.8,139.9 931.3,139.4 928.9,138.8 926.4,138.3 924.0,137.8 921.5,137.3 919.1,136.8 916.6,136.3 914.1,135.9 911.7,135.5 909.2,135.1 906.7,134.8 904.2,134.4 901.8,134.2 899.3,133.9 896.8,133.7 894.3,133.5 891.9,133.3 889.4,133.1 886.9,132.9 884.4,132.7 881.9,132.6 879.4,132.4 876.9,132.2 874.4,132.1 871.9,131.9 869.4,131.8 866.9,131.6 864.4,131.5 861.9,131.4 859.4,131.2 856.9,131.1 854.4,131.0 851.9,130.9 849.4,130.8 846.9,130.7 844.4,130.6 841.9,130.5 839.4,130.4 836.9,130.3 834.4,130.2 831.9,130.1 829.4,130.0 826.9,129.9 824.4,129.8 821.9,129.7 819.4,129.6 816.9,129.5 814.4,129.5 811.9,129.4 809.4,129.3 806.9,129.2 804.4,129.1 801.9,129.1 799.4,129.0 796.9,128.9 794.4,128.8 791.9,128.8 789.4,128.7 786.9,128.6 784.4,128.6 781.9,128.5 779.4,128.4 776.9,128.4 774.4,128.3 771.9,128.2 769.4,128.2 766.9,128.1 764.4,128.1 761.9,128.0 759.4,127.9 756.9,127.9 754.4,127.8 751.9,127.8 749.4,127.7 746.9,127.6 744.4,127.6 741.9,127.5 739.4,127.5 736.9,127.4 734.4,127.4 731.9,127.3 729.4,127.3 726.9,127.2 724.4,127.1 721.9,127.1 719.4,127.0 716.9,127.0 714.4,126.9 711.9,126.9 709.4,126.8 706.9,126.8 704.4,126.7 701.9,126.7 699.4,126.6 696.9,126.5 694.4,126.5 691.9,126.4 689.4,126.4 686.9,126.3 684.4,126.3 681.9,126.2 679.4,126.2 676.9,126.2 674.4,126.1 671.9,126.1 669.4,126.0 666.9,126.0 664.4,125.9 661.9,125.9 659.4,125.8 656.9,125.8 654.4,125.7 651.9,125.7 649.4,125.6 646.9,125.6 644.4,125.5 641.9,125.5 639.5,125.5 637.0,125.4 634.5,125.4 632.0,125.3 629.5,125.3 627.0,125.2 624.5,125.2 622.0,125.1 619.5,125.1 617.0,125.1 614.5,125.0 612.0,125.0 609.5,124.9 607.0,124.9 604.5,124.8 602.0,124.8 599.5,124.7 597.0,124.7 594.5,124.7 592.0,124.6 589.5,124.6 587.0,124.5 584.5,124.5 582.0,124.4 579.5,124.4 577.0,124.3 574.5,124.3 572.0,124.2 569.5,124.2 567.0,124.1 564.5,124.1 562.0,124.0 559.5,124.0 557.0,123.9 554.5,123.9 552.0,123.8 549.5,123.8 547.0,123.7 544.5,123.7 542.0,123.6 539.5,123.6 537.0,123.5 534.5,123.5 532.0,123.4 529.5,123.4 527.0,123.3 524.5,123.3 522.0,123.2 519.5,123.2 517.0,123.1 514.5,123.1 512.0,123.0 509.5,123.0 507.0,122.9 504.5,122.9 502.0,122.8 499.5,122.8 497.0,122.7 494.5,122.7 492.0,122.6 489.5,122.6 487.0,122.5 484.5,122.4 482.0,122.4 479.5,122.3 477.0,122.3 474.5,122.2 472.0,122.2 469.5,122.1 467.0,122.1 464.5,122.0 462.0,122.0 459.5,121.9 457.0,121.9 454.5,121.8 452.0,121.8 449.5,121.7 447.0,121.7 444.5,121.6 442.0,121.5 439.5,121.5 437.0,121.4 434.5,121.4 432.0,121.3 429.5,121.3 427.0,121.2 424.5,121.2 422.0,121.1 419.5,121.1 417.0,121.0 414.5,120.9 412.0,120.9 409.5,120.8 407.0,120.8 404.5,120.7 402.0,120.7 399.5,120.6 397.0,120.6 394.5,120.5z"/>
<path fill="#ff0000" d="M394.5,110.0 397.0,110.0 399.5,110.0 402.0,110.0 404.5,110.0 407.0,110.0 409.5,110.0 412.0,110.0 414.5,110.0 417.0,110.0 419.5,110.0 422.0,110.0 424.5,110.0 427.0,110.0 429.5,110.0 432.0,110.0 434.5,110.0 437.0,110.0 439.5,110.0 442.0,110.0 444.5,110.0 447.0,110.0 449.5,110.0 452.0,110.0 454.5,110.0 457.0,110.0 459.5,110.0 462.0,110.0 464.5,110.0 467.0,110.0 469.5,110.0 472.0,110.0 474.5,110.0 477.0,110.0 479.5,110.0 482.0,110.0 484.5,110.0 487.0,110.0 489.5,110.0 492.0,110.0 494.5,110.0 497.0,110.0 499.5,110.0 502.0,110.0 504.5,110.0 507.0,110.0 509.5,110.0 512.0,110.0 514.5,110.0 517.0,110.0 519.5,110.0 522.0,110.0 524.5,110.0 527.0,110.0 529.5,110.0 532.0,110.0 534.5,110.0 537.0,110.0 539.5,110.0 542.0,110.0 544.5,110.0 547.0,110.0 549.5,110.0 552.0,110.0 554.5,110.0 557.0,110.0 559.5,110.0 562.0,110.0 564.5,110.0 567.0,110.0 569.5,110.0 572.0,110.0 574.5,110.0 577.0,110.0 579.5,110.0 582.0,110.0 584.5,110.0 587.0,110.0 589.5,110.0 592.0,110.0 594.5,110.0 597.0,110.0 599.5,110.0 602.0,110.0 604.5,110.0 607.0,110.0 609.5,110.0 612.0,110.0 614.5,110.0 617.0,110.0 619.5,110.0 622.0,110.0 624.5,110.0 627.0,110.0 629.5,110.0 632.0,110.0 634.5,110.0 637.0,110.0 639.5,110.0 642.0,110.0 644.5,110.0 647.0,110.0 649.5,110.0 652.0,110.0 654.5,110.0 657.0,110.0 659.5,110.0 662.0,110.0 664.5,110.0 667.0,110.0 669.5,110.0 672.0,110.0 674.5,110.0 677.0,110.0 679.5,110.0 682.0,110.0 684.5,110.0 687.0,110.0 689.5,110.0 692.0,110.0 694.5,110.0 697.0,110.0 699.5,110.0 702.0,110.0 704.5,110.0 707.0,110.0 709.5,110.0 712.0,110.0 714.5,110.0 717.0,110.0 719.5,110.0 722.0,110.0 724.5,110.0 727.0,110.0 729.5,110.0 732.0,110.0 734.5,110.0 737.0,110.0 739.5,110.0 742.0,110.0 744.5,110.0 747.0,110.0 749.5,110.0 752.0,110.0 754.5,110.0 757.0,110.0 759.5,110.0 762.0,110.0 764.5,110.0 767.0,110.0 769.5,110.0 772.0,110.1 774.5,110.1 777.0,110.1 779.5,110.2 782.0,110.2 784.5,110.3 787.0,110.3 789.5,110.4 792.0,110.5 794.5,110.5 797.0,110.6 799.5,110.7 802.0,110.8 804.5,110.9 807.0,110.9 809.5,111.0 812.0,111.1 814.5,111.2 817.0,111.3 819.5,111.4 822.0,111.5 824.5,111.7 827.0,111.8 829.5,111.9 832.0,112.0 834.5,112.1 837.0,112.2 839.5,112.4 842.0,112.5 844.4,112.6 846.9,112.8 849.4,112.9 851.9,113.0 854.4,113.1 856.9,113.3 859.4,113.4 861.9,113.5 864.4,113.7 866.9,113.8 869.4,113.9 871.9,114.1 874.4,114.2 876.9,114.3 879.4,114.5 881.9,114.6 884.4,114.7 886.9,114.9 889.4,115.0 891.9,115.1 894.4,115.2 896.9,115.4 899.4,115.5 901.9,115.6 904.4,115.7 906.9,115.8 909.4,115.9 911.9,116.1 914.4,116.2 916.9,116.3 919.4,116.4 921.9,116.5 924.4,116.7 926.9,116.8 929.4,116.9 931.9,117.0 934.4,117.2 936.9,117.3 939.4,117.4 941.9,117.6 944.4,117.7 946.9,117.9 949.4,118.1 951.8,118.2 954.3,118.4 956.8,118.6 959.3,118.8 961.8,119.0 964.3,119.2 966.8,119.4 969.3,119.7 971.8,119.9 974.3,120.2 976.8,120.5 979.3,120.8 981.7,121.1 984.2,121.5 986.7,121.8 989.2,122.2 991.7,122.6 994.2,123.0 996.6,123.4 999.1,123.9 1001.5,124.3 1004.0,124.8 1006.4,125.3 1008.8,125.8 1011.2,126.4 1013.5,127.1 1015.9,127.8 1018.3,128.6 1020.6,129.5 1023.0,130.4 1025.3,131.3 1027.6,132.3 1029.9,133.3 1032.3,134.3 1034.6,135.3 1036.9,136.3 1039.2,137.2 1041.5,138.2 1043.9,139.2 1046.2,140.1 1048.5,141.0 1050.9,141.9 1053.2,142.8 1055.5,143.6 1057.9,144.5 1060.2,145.4 1062.5,146.4 1064.9,147.3 1067.2,148.2 1069.5,149.1 1071.8,150.1 1074.1,151.0 1076.4,152.0 1078.7,153.0 1081.0,154.0 1083.3,155.0 1085.6,156.0 1087.8,157.1 1090.1,158.2 1092.3,159.3 1094.6,160.4 1096.8,161.5 1099.0,162.6 1101.2,163.8 1103.5,164.9 1105.7,166.1 1107.9,167.2 1110.1,168.4 1112.4,169.5 1114.6,170.7 1116.8,171.9 1119.0,173.0 1121.2,174.2 1123.4,175.3 1125.7,176.5 1127.9,177.6 1130.1,178.8 1132.3,180.0 1134.5,181.1 1136.7,182.3 1138.9,183.5 1141.1,184.7 1143.3,185.9 1145.5,187.1 1147.7,188.4 1149.8,189.6 1152.0,190.9 1154.1,192.2 1156.3,193.5 1158.4,194.8 1160.5,196.1 1162.6,197.4 1164.8,198.7 1166.9,200.0 1169.0,201.3 1171.2,202.6 1173.3,203.9 1175.5,205.2 1177.7,206.4 1179.9,207.6 1182.1,208.8 1184.3,210.0 1186.5,211.2 1188.7,212.4 1190.9,213.6 1193.1,214.9 1195.2,216.2 1197.3,217.5 1199.3,219.0 1201.2,220.5 1203.1,222.1 1205.0,223.8 1210.3,229.1 1212.0,230.9 1213.7,232.7 1215.4,234.5 1217.1,236.4 1218.7,238.3 1220.3,240.2 1221.8,242.2 1223.3,244.2 1224.7,246.3 1226.1,248.4 1227.4,250.5 1228.7,252.6 1229.9,254.8 1231.1,257.0 1232.3,259.2 1233.5,261.4 1234.7,263.6 1235.8,265.9 1236.9,268.1 1238.0,270.4 1239.1,272.6 1240.1,274.9 1241.2,277.2 1242.2,279.4 1243.3,281.7 1244.5,283.9 1245.6,286.1 1246.8,288.4 1248.0,290.6 1249.1,292.8 1250.1,295.1 1251.1,297.4 1251.9,299.7 1252.7,302.1 1253.4,304.5 1254.1,306.9 1254.8,309.3 1255.5,311.7 1256.2,314.1 1256.9,316.5 1257.7,318.9 1258.4,321.3 1259.2,323.6 1260.0,326.0 1260.8,328.4 1261.6,330.7 1262.4,333.1 1263.2,335.5 1264.0,337.9 1264.8,340.2 1265.6,342.6 1266.4,345.0 1267.2,347.3 1268.1,349.7 1268.9,352.0 1269.8,354.4 1270.7,356.7 1271.7,359.0 1272.8,361.3 1273.8,363.6 1274.8,365.8 1275.7,368.2 1276.5,370.5 1277.2,372.9 1277.9,375.3 1278.5,377.7 1279.0,380.1 1279.6,382.6 1280.1,385.0 1280.6,387.5 1281.1,389.9 1281.6,392.4 1282.1,394.9 1282.6,397.3 1283.1,399.8 1283.6,402.2 1284.2,404.7 1284.7,407.1 1285.4,409.5 1286.0,411.9 1286.7,414.3 1287.4,416.7 1288.1,419.1 1288.9,421.5 1289.6,423.9 1290.4,426.3 1291.2,428.7 1292.0,431.0 1292.7,433.4 1293.5,435.8 1294.2,438.2 1295.0,440.6 1295.7,443.0 1296.5,445.3 1297.3,447.7 1298.0,450.1 1298.8,452.5 1299.6,454.9 1300.4,457.2 1301.1,459.6 1301.9,462.0 1302.7,464.4 1303.5,466.7 1304.2,469.1 1305.0,471.5 1305.7,473.9 1306.5,476.3 1307.2,478.7 1308.0,481.0 1308.7,483.4 1309.4,485.8 1310.2,488.2 1310.9,490.6 1311.6,493.0 1312.2,495.4 1312.9,497.8 1313.6,500.2 1314.3,502.6 1314.9,505.0 1315.6,507.5 1316.2,509.9 1316.9,512.3 1317.5,514.7 1318.2,517.1 1318.8,519.5 1319.4,522.0 1320.1,524.4 1320.7,526.8 1321.3,529.2 1322.0,531.6 1322.6,534.1 1323.2,536.5 1323.8,538.9 1324.5,541.3 1325.1,543.7 1325.7,546.2 1326.3,548.6 1327.0,551.0 1327.6,553.4 1328.2,555.9 1328.8,558.3 1329.4,560.7 1330.0,563.1 1330.6,565.6 1331.2,568.0 1331.8,570.4 1332.4,572.8 1333.0,575.3 1333.6,577.7 1334.2,580.1 1334.8,582.5 1335.4,585.0 1336.0,587.4 1336.6,589.8 1337.2,592.3 1337.8,594.7 1338.4,597.1 1339.1,599.5 1339.7,601.9 1340.3,604.4 1340.9,606.8 1341.6,609.2 1342.2,611.6 1342.8,614.0 1343.5,616.5 1344.1,618.9 1344.8,621.3 1345.4,623.7 1346.1,626.1 1346.7,628.5 1347.4,630.9 1348.0,633.4 1348.7,635.8 1349.3,638.2 1350.0,640.6 1350.6,643.0 1351.3,645.4 1351.9,647.8 1352.6,650.3 1353.2,652.7 1353.8,655.1 1354.5,657.5 1355.1,659.9 1355.7,662.3 1356.3,664.8 1357.0,667.2 1357.6,669.6 1358.2,672.0 1358.8,674.5 1359.4,676.9 1360.0,679.3 1360.6,681.8 1361.2,684.2 1361.8,686.6 1362.4,689.0 1363.0,691.5 1363.6,693.9 1364.3,696.3 1364.9,698.7 1365.6,701.1 1366.3,703.5 1367.0,705.9 1367.7,708.3 1368.4,710.7 1369.1,713.1 1369.9,715.5 1370.6,717.9 1371.3,720.3 1372.1,722.7 1372.8,725.0 1373.6,727.4 1374.3,729.8 1375.0,732.2 1375.7,734.6 1376.4,737.0 1377.1,739.4 1377.8,741.8 1378.5,744.2 1379.2,746.6 1379.9,749.0 1380.6,751.4 1381.3,753.8 1382.0,756.2 1382.7,758.6 1383.4,761.0 1384.1,763.4 1384.8,765.8 1385.5,768.2 1386.2,770.6 1386.9,773.0 1387.5,775.4 1388.2,777.9 1388.9,780.3 1389.5,782.7 1390.2,785.1 1390.8,787.5 1391.5,789.9 1392.1,792.3 1392.8,794.7 1393.4,797.2 1394.1,799.6 1394.7,802.0 1395.3,804.4 1396.0,806.8 1396.6,809.3 1397.2,811.7 1397.8,814.1 1398.4,816.5 1399.1,818.9 1399.7,821.4 1400.3,823.8 1400.9,826.2 1401.5,828.7 1402.0,831.1 1402.6,833.5 1403.2,836.0 1403.8,838.4 1404.3,840.8 1404.9,843.3 1405.5,845.7 1406.0,848.1 1406.5,850.6 1407.1,853.0 1407.6,855.5 1408.1,857.9 1408.6,860.3 1409.2,862.8 1409.7,865.2 1410.2,867.7 1410.7,870.1 1411.2,872.6 1411.7,875.0 1412.1,877.5 1412.6,879.9 1413.1,882.4 1413.6,884.9 1414.1,887.3 1414.5,889.8 1415.0,892.2 1415.5,894.7 1415.9,897.1 1416.4,899.6 1416.8,902.1 1417.3,904.5 1417.7,907.0 1418.2,909.4 1418.6,911.9 1419.0,914.4 1419.5,916.8 1419.9,919.3 1420.4,921.7 1420.8,924.2 1421.2,926.7 1421.7,929.1 1422.1,931.6 1422.5,934.1 1422.9,936.5 1423.3,939.0 1423.7,941.5 1424.1,943.9 1424.5,946.4 1424.9,948.9 1425.2,951.3 1425.6,953.8 1426.0,956.3 1426.3,958.8 1426.6,961.2 1427.0,963.7 1427.3,966.2 1427.5,968.7 1427.8,971.2 1428.1,973.7 1428.4,976.1 1428.7,978.6 1428.9,981.1 1429.2,983.6 1429.5,986.1 1429.7,988.6 1430.0,991.1 1430.3,993.5 1430.6,996.0 1430.9,998.5 1431.2,1001.0 1431.6,1003.5 1431.9,1005.9 1432.3,1008.4 1432.7,1010.9 1433.0,1013.3 1433.4,1015.8 1433.8,1018.3 1434.2,1020.8 1434.6,1023.2 1435.0,1025.7 1435.3,1028.2 1435.7,1030.7 1436.0,1033.1 1436.4,1035.6 1436.7,1038.1 1437.0,1040.6 1437.3,1043.0 1437.6,1045.5 1437.9,1048.0 1438.1,1050.5 1438.4,1053.0 1438.7,1055.5 1439.0,1057.9 1439.2,1060.4 1439.5,1062.9 1439.7,1065.4 1440.0,1067.9 1440.3,1070.4 1440.5,1072.9 1440.8,1075.4 1441.0,1077.8 1441.3,1080.3 1441.5,1082.8 1441.8,1085.3 1442.1,1087.8 1442.3,1090.3 1442.6,1092.8 1442.9,1095.2 1443.1,1097.7 1443.4,1100.2 1443.7,1102.7 1444.0,1105.2 1444.3,1107.7 1444.5,1110.2 1444.8,1112.6 1445.1,1115.1 1445.4,1117.6 1445.6,1120.1 1445.9,1122.6 1446.2,1125.1 1446.4,1127.6 1446.7,1130.0 1447.0,1132.5 1447.2,1135.0 1447.5,1137.5 1447.7,1140.0 1448.0,1142.5 1448.2,1145.0 1448.5,1147.4 1448.7,1149.9 1448.9,1152.4 1449.2,1154.9 1449.4,1157.4 1449.6,1159.9 1449.8,1162.4 1450.0,1164.9 1450.2,1167.4 1450.4,1169.9 1450.6,1172.4 1450.8,1174.8 1451.0,1177.3 1451.2,1179.8 1451.4,1182.3 1451.6,1184.8 1451.8,1187.3 1452.0,1189.8 1452.2,1192.3 1452.4,1194.8 1452.6,1197.3 1452.9,1199.8 1453.1,1202.3 1453.3,1204.7 1453.5,1207.2 1453.8,1209.7 1454.0,1212.2 1454.3,1214.7 1454.5,1217.2 1454.8,1219.7 1455.0,1222.2 1455.3,1224.7 1455.5,1227.1 1455.8,1229.6 1456.0,1232.1 1456.3,1234.6 1456.5,1237.1 1456.8,1239.6 1457.0,1242.1 1457.3,1244.5 1457.5,1247.0 1457.8,1249.5 1458.0,1252.0 1458.3,1254.5 1458.5,1257.0 1458.7,1259.5 1458.9,1262.0 1459.1,1264.5 1459.3,1267.0 1459.5,1269.4 1459.7,1271.9 1459.9,1274.4 1460.1,1276.9 1460.3,1279.4 1460.5,1281.9 1460.7,1284.4 1460.8,1286.9 1461.0,1289.4 1461.2,1291.9 1461.4,1294.4 1461.6,1296.9 1461.8,1299.4 1462.0,1301.9 1462.1,1304.4 1462.3,1306.8 1462.5,1309.3 1462.8,1311.8 1463.0,1314.3 1463.2,1316.8 1463.4,1319.3 1463.6,1321.8 1463.8,1324.3 1464.1,1326.8 1464.3,1329.3 1464.5,1331.7 1464.8,1334.2 1465.0,1336.7 1465.3,1339.2 1465.5,1341.7 1465.7,1344.2 1466.0,1346.7 1466.3,1349.2 1466.5,1351.7 1466.8,1354.1 1467.0,1356.6 1467.3,1359.1 1467.6,1361.6 1467.8,1364.1 1468.1,1366.6 1468.4,1369.0 1468.7,1371.5 1469.0,1374.0 1469.2,1376.5 1469.5,1379.0 1469.8,1381.5 1470.1,1384.0 1470.4,1386.4 1470.7,1388.9 1471.0,1391.4 1471.3,1393.9 1471.6,1396.4 1471.9,1398.9 1472.2,1401.3 1472.5,1403.8 1472.9,1406.3 1473.2,1408.8 1473.6,1411.3 1473.9,1413.7 1474.3,1416.2 1474.6,1418.7 1475.0,1421.1 1475.4,1423.6 1475.8,1426.1 1476.2,1428.5 1476.7,1431.0 1477.1,1433.4 1477.6,1435.9 1478.1,1438.3 1478.6,1440.8 1479.2,1443.2 1479.7,1445.7 1480.3,1448.1 1480.9,1450.5 1481.5,1453.0 1482.1,1455.4 1482.7,1457.8 1483.3,1460.3 1483.9,1462.7 1484.6,1465.1 1485.2,1467.5 1485.9,1469.9 1486.6,1472.3 1487.3,1474.7 1488.0,1477.1 1488.7,1479.5 1489.5,1481.9 1490.3,1484.3 1491.1,1486.7 1491.9,1489.1 1492.7,1491.5 1493.6,1493.9 1494.5,1496.2 1495.6,1498.4 1496.7,1500.5 1498.1,1502.6 1499.7,1504.8 1501.4,1506.9 1499.8,1505.3 1501.8,1506.9 1503.8,1508.1 1505.9,1508.7 1508.1,1509.2 1510.4,1509.7 1512.9,1510.1 1515.4,1510.5 1518.0,1510.8 1520.6,1511.1 1523.2,1511.3 1525.8,1511.4 1528.4,1511.5 1530.9,1511.5 1533.4,1511.5 1535.9,1511.5 1538.4,1511.5 1540.8,1511.5 1543.3,1511.5 1545.8,1511.5 1548.3,1511.5 1550.8,1511.5 1553.3,1511.5 1555.8,1511.5 1558.3,1511.5 1560.8,1511.5 1563.2,1511.5 1565.7,1511.5 1568.2,1511.5 1570.7,1511.5 1573.2,1511.5 1575.7,1511.5 1578.2,1511.5 1580.7,1511.5 1583.2,1511.5 1585.6,1511.5 1588.1,1511.5 1590.6,1511.5 1593.1,1511.5 1595.6,1511.5 1598.1,1511.5 1600.6,1511.5 1603.1,1511.5 1605.6,1511.5 1608.1,1511.5 1610.5,1511.5 1613.0,1511.5 1615.5,1511.5 1618.0,1511.5 1620.5,1511.5 1623.0,1511.5 1625.5,1511.5 1628.0,1511.5 1630.5,1511.5 1633.0,1511.5 1635.5,1511.5 1637.9,1511.5 1640.4,1511.5 1642.9,1511.5 1645.4,1511.5 1647.9,1511.5 1650.4,1511.5 1652.9,1511.5 1655.4,1511.5 1657.9,1511.5 1660.4,1511.5 1662.9,1511.5 1665.4,1511.5 1667.8,1511.5 1670.3,1511.5 1672.8,1511.5 1675.3,1511.5 1677.8,1511.5 1680.3,1511.5 1682.8,1511.5 1685.3,1511.5 1687.8,1511.5 1690.3,1511.5 1692.8,1511.5 1695.3,1511.5 1697.8,1511.5 1700.2,1511.5 1702.7,1511.5 1705.2,1511.5 1707.7,1511.5 1710.2,1511.5 1712.7,1511.5 1715.2,1511.5 1717.7,1511.5 1720.2,1511.5 1722.7,1511.5 1725.2,1511.5 1727.7,1511.5 1730.2,1511.5 1732.7,1511.5 1735.2,1511.5 1737.7,1511.5 1740.1,1511.5 1742.6,1511.5 1745.1,1511.5 1747.6,1511.5 1750.1,1511.5 1752.6,1511.5 1755.1,1511.5 1757.6,1511.5 1760.1,1511.5 1762.6,1511.5 1765.1,1511.5 1767.6,1511.5 1770.1,1511.5 1772.6,1511.5 1775.1,1511.5 1777.6,1511.5 1780.1,1511.5 1782.6,1511.5 1785.1,1511.5 1787.6,1511.5 1790.1,1511.5 1792.6,1511.5 1795.0,1511.5 1797.5,1511.5 1800.0,1511.5 1802.5,1511.5 1805.0,1511.5 1807.5,1511.5 1810.0,1511.5 1812.5,1511.5 1815.0,1511.5 1817.5,1511.5 1820.0,1511.5 1822.5,1511.5 1825.0,1511.5 1827.5,1511.5 1830.0,1511.5 1832.5,1511.5 1835.0,1511.5 1837.5,1511.5 1840.0,1511.5 1842.5,1511.5 1845.0,1511.5 1847.5,1511.5 1850.0,1511.5 1852.5,1511.5 1855.0,1511.5 1857.5,1511.5 1860.0,1511.5 1862.5,1511.5 1865.0,1511.5 1867.5,1511.5 1870.0,1511.5 1872.5,1511.5 1875.0,1511.5 1877.5,1511.5 1880.0,1511.5 1882.5,1511.5 1885.0,1511.5 1887.5,1511.5 1890.0,1511.5 1892.5,1511.5 1895.0,1511.5 1897.5,1511.5 1900.0,1511.5 1902.5,1511.5 1905.0,1511.5 1907.5,1511.5 1910.0,1511.5 1912.5,1511.5 1915.0,1511.5 1917.5,1511.5 1920.0,1511.5 1922.5,1511.5 1925.0,1511.5 1927.5,1511.5 1930.0,1511.5 1932.5,1511.5 1935.0,1511.5 1937.5,1511.5 1940.1,1511.5 1942.6,1511.5 1945.1,1511.5 1947.6,1511.5 1950.1,1511.5 1952.6,1511.5 1955.1,1511.5 1957.6,1511.5 1960.1,1511.5 1962.6,1511.5 1965.1,1511.5 1967.6,1511.5 1970.1,1511.5 1972.6,1511.5 1975.1,1511.5 1977.6,1511.5 1980.1,1511.5 1982.6,1511.5 1985.1,1511.5 1987.6,1511.5 1990.2,1511.5 1992.7,1511.5 1995.2,1511.5 1997.7,1511.5 2000.2,1511.5 2002.7,1511.5 2005.2,1511.5 2007.7,1511.5 2010.2,1511.5 2012.7,1511.5 2015.2,1511.5 2017.7,1511.5 2020.2,1511.5 2022.8,1511.5 2025.3,1511.5 2027.8,1511.5 2030.3,1511.5 2032.8,1511.5 2035.3,1511.5 2037.8,1511.5 2040.3,1511.5 2042.8,1511.5 2045.3,1511.5 2047.8,1511.5 2050.4,1511.5 2052.9,1511.5 2055.4,1511.5 2057.9,1511.5 2060.4,1511.5 2062.9,1511.5 2065.4,1511.5 2067.9,1511.5 2070.4,1511.5 2073.0,1511.5 2075.5,1511.5 2078.0,1511.5 2080.5,1511.5 2083.0,1511.5 2085.5,1511.5 2088.0,1511.5 2090.5,1511.5 2093.1,1511.5 2095.6,1511.5 2098.1,1511.5 2100.6,1511.5 2103.1,1511.5 2105.6,1511.5 2108.1,1511.5 2110.7,1511.5 2113.2,1511.5 2115.7,1511.5 2118.2,1511.5 2120.7,1511.5 2123.2,1511.5 2125.7,1511.5 2128.3,1511.5 2130.8,1511.5 2133.3,1511.5 2135.8,1511.5 2138.3,1511.5 2140.8,1511.5 2143.4,1511.5 2145.9,1511.5 2148.4,1511.5 2150.0,1511.5 2150.0,1518.5 2148.4,1518.5 2145.9,1518.5 2143.4,1518.5 2140.8,1518.5 2138.3,1518.5 2135.8,1518.5 2133.3,1518.5 2130.8,1518.5 2128.3,1518.5 2125.7,1518.5 2123.2,1518.5 2120.7,1518.5 2118.2,1518.5 2115.7,1518.5 2113.2,1518.5 2110.7,1518.5 2108.1,1518.5 2105.6,1518.5 2103.1,1518.5 2100.6,1518.5 2098.1,1518.5 2095.6,1518.5 2093.1,1518.5 2090.5,1518.5 2088.0,1518.5 2085.5,1518.5 2083.0,1518.5 2080.5,1518.5 2078.0,1518.5 2075.5,1518.5 2073.0,1518.5 2070.4,1518.5 2067.9,1518.5 2065.4,1518.5 2062.9,1518.5 2060.4,1518.5 2057.9,1518.5 2055.4,1518.5 2052.9,1518.5 2050.4,1518.5 2047.8,1518.5 2045.3,1518.5 2042.8,1518.5 2040.3,1518.5 2037.8,1518.5 2035.3,1518.5 2032.8,1518.5 2030.3,1518.5 2027.8,1518.5 2025.3,1518.5 2022.8,1518.5 2020.2,1518.5 2017.7,1518.5 2015.2,1518.5 2012.7,1518.5 2010.2,1518.5 2007.7,1518.5 2005.2,1518.5 2002.7,1518.5 2000.2,1518.5 1997.7,1518.5 1995.2,1518.5 1992.7,1518.5 1990.2,1518.5 1987.6,1518.5 1985.1,1518.5 1982.6,1518.5 1980.1,1518.5 1977.6,1518.5 1975.1,1518.5 1972.6,1518.5 1970.1,1518.5 1967.6,1518.5 1965.1,1518.5 1962.6,1518.5 1960.1,1518.5 1957.6,1518.5 1955.1,1518.5 1952.6,1518.5 1950.1,1518.5 1947.6,1518.5 1945.1,1518.5 1942.6,1518.5 1940.1,1518.5 1937.5,1518.5 1935.0,1518.5 1932.5,1518.5 1930.0,1518.5 1927.5,1518.5 1925.0,1518.5 1922.5,1518.5 1920.0,1518.5 1917.5,1518.5 1915.0,1518.5 1912.5,1518.5 1910.0,1518.5 1907.5,1518.5 1905.0,1518.5 1902.5,1518.5 1900.0,1518.5 1897.5,1518.5 1895.0,1518.5 1892.5,1518.5 1890.0,1518.5 1887.5,1518.5 1885.0,1518.5 1882.5,1518.5 1880.0,1518.5 1877.5,1518.5 1875.0,1518.5 1872.5,1518.5 1870.0,1518.5 1867.5,1518.5 1865.0,1518.5 1862.5,1518.5 1860.0,1518.5 1857.5,1518.5 1855.0,1518.5 1852.5,1518.5 1850.0,1518.5 1847.5,1518.5 1845.0,1518.5 1842.5,1518.5 1840.0,1518.5 1837.5,1518.5 1835.0,1518.5 1832.5,1518.5 1830.0,1518.5 1827.5,1518.5 1825.0,1518.5 1822.5,1518.5 1820.0,1518.5 1817.5,1518.5 1815.0,1518.5 1812.5,1518.5 1810.0,1518.5 1807.5,1518.5 1805.0,1518.5 1802.5,1518.5 1800.0,1518.5 1797.5,1518.5 1795.0,1518.5 1792.6,1518.5 1790.1,1518.5 1787.6,1518.5 1785.1,1518.5 1782.6,1518.5 1780.1,1518.5 1777.6,1518.5 1775.1,1518.5 1772.6,1518.5 1770.1,1518.5 1767.6,1518.5 1765.1,1518.5 1762.6,1518.5 1760.1,1518.5 1757.6,1518.5 1755.1,1518.5 1752.6,1518.5 1750.1,1518.5 1747.6,1518.5 1745.1,1518.5 1742.6,1518.5 1740.1,1518.5 1737.7,1518.5 1735.2,1518.5 1732.7,1518.5 1730.2,1518.5 1727.7,1518.5 1725.2,1518.5 1722.7,1518.5 1720.2,1518.5 1717.7,1518.5 1715.2,1518.5 1712.7,1518.5 1710.2,1518.5 1707.7,1518.5 1705.2,1518.5 1702.7,1518.5 1700.2,1518.5 1697.8,1518.5 1695.3,1518.5 1692.8,1518.5 1690.3,1518.5 1687.8,1518.5 1685.3,1518.5 1682.8,1518.5 1680.3,1518.5 1677.8,1518.5 1675.3,1518.5 1672.8,1518.5 1670.3,1518.5 1667.8,1518.5 1665.4,1518.5 1662.9,1518.5 1660.4,1518.5 1657.9,1518.5 1655.4,1518.5 1652.9,1518.5 1650.4,1518.5 1647.9,1518.5 1645.4,1518.5 1642.9,1518.5 1640.4,1518.5 1637.9,1518.5 1635.5,1518.5 1633.0,1518.5 1630.5,1518.5 1628.0,1518.5 1625.5,1518.5 1623.0,1518.5 1620.5,1518.5 1618.0,1518.5 1615.5,1518.5 1613.0,1518.5 1610.5,1518.5 1608.1,1518.5 1605.6,1518.5 1603.1,1518.5 1600.6,1518.5 1598.1,1518.5 1595.6,1518.5 1593.1,1518.5 1590.6,1518.5 1588.1,1518.5 1585.6,1518.5 1583.2,1518.5 1580.7,1518.5 1578.2,1518.5 1575.7,1518.5 1573.2,1518.5 1570.7,1518.5 1568.2,1518.5 1565.7,1518.5 1563.2,1518.5 1560.8,1518.5 1558.3,1518.5 1555.8,1518.5 1553.3,1518.5 1550.8,1518.5 1548.3,1518.5 1545.8,1518.5 1543.3,1518.5 1540.8,1518.5 1538.4,1518.5 1535.9,1518.5 1533.4,1518.5 1530.9,1518.5 1528.4,1518.5 1525.8,1518.4 1523.2,1518.3 1520.6,1518.1 1518.0,1517.8 1515.4,1517.5 1512.9,1517.1 1510.4,1516.7 1508.1,1516.2 1505.9,1515.7 1503.8,1515.1 1501.8,1513.9 1499.8,1512.3 1494.4,1506.9 1492.7,1504.8 1491.1,1502.6 1489.7,1500.5 1488.6,1498.4 1487.5,1496.2 1486.6,1493.9 1485.7,1491.5 1484.9,1489.1 1484.1,1486.7 1483.3,1484.3 1482.5,1481.9 1481.7,1479.5 1481.0,1477.1 1480.3,1474.7 1479.6,1472.3 1478.9,1469.9 1478.2,1467.5 1477.6,1465.1 1476.9,1462.7 1476.3,1460.3 1475.7,1457.8 1475.1,1455.4 1474.5,1453.0 1473.9,1450.5 1473.3,1448.1 1472.7,1445.7 1472.2,1443.2 1471.6,1440.8 1471.1,1438.3 1470.6,1435.9 1470.1,1433.4 1469.7,1431.0 1469.2,1428.5 1468.8,1426.1 1468.4,1423.6 1468.0,1421.1 1467.6,1418.7 1467.3,1416.2 1466.9,1413.7 1466.6,1411.3 1466.2,1408.8 1465.9,1406.3 1465.5,1403.8 1465.2,1401.3 1464.9,1398.9 1464.6,1396.4 1464.3,1393.9 1464.0,1391.4 1463.7,1388.9 1463.4,1386.4 1463.1,1384.0 1462.8,1381.5 1462.5,1379.0 1462.2,1376.5 1462.0,1374.0 1461.7,1371.5 1461.4,1369.0 1461.1,1366.6 1460.8,1364.1 1460.6,1361.6 1460.3,1359.1 1460.0,1356.6 1459.8,1354.1 1459.5,1351.7 1459.3,1349.2 1459.0,1346.7 1458.7,1344.2 1458.5,1341.7 1458.3,1339.2 1458.0,1336.7 1457.8,1334.2 1457.5,1331.7 1457.3,1329.3 1457.1,1326.8 1456.8,1324.3 1456.6,1321.8 1456.4,1319.3 1456.2,1316.8 1456.0,1314.3 1455.8,1311.8 1455.5,1309.3 1455.3,1306.8 1455.1,1304.4 1455.0,1301.9 1454.8,1299.4 1454.6,1296.9 1454.4,1294.4 1454.2,1291.9 1454.0,1289.4 1453.8,1286.9 1453.7,1284.4 1453.5,1281.9 1453.3,1279.4 1453.1,1276.9 1452.9,1274.4 1452.7,1271.9 1452.5,1269.4 1452.3,1267.0 1452.1,1264.5 1451.9,1262.0 1451.7,1259.5 1451.5,1257.0 1451.3,1254.5 1451.0,1252.0 1450.8,1249.5 1450.5,1247.0 1450.3,1244.5 1450.0,1242.1 1449.8,1239.6 1449.5,1237.1 1449.3,1234.6 1449.0,1232.1 1448.8,1229.6 1448.5,1227.1 1448.3,1224.7 1448.0,1222.2 1447.8,1219.7 1447.5,1217.2 1447.3,1214.7 1447.0,1212.2 1446.8,1209.7 1446.5,1207.2 1446.3,1204.7 1446.1,1202.3 1445.9,1199.8 1445.6,1197.3 1445.4,1194.8 1445.2,1192.3 1445.0,1189.8 1444.8,1187.3 1444.6,1184.8 1444.4,1182.3 1444.2,1179.8 1444.0,1177.3 1443.8,1174.8 1443.6,1172.4 1443.4,1169.9 1443.2,1167.4 1443.0,1164.9 1442.8,1162.4 1442.6,1159.9 1442.4,1157.4 1442.2,1154.9 1441.9,1152.4 1441.7,1149.9 1441.5,1147.4 1441.2,1145.0 1441.0,1142.5 1440.7,1140.0 1440.5,1137.5 1440.2,1135.0 1440.0,1132.5 1439.7,1130.0 1439.4,1127.6 1439.2,1125.1 1438.9,1122.6 1438.6,1120.1 1438.4,1117.6 1438.1,1115.1 1437.8,1112.6 1437.5,1110.2 1437.3,1107.7 1437.0,1105.2 1436.7,1102.7 1436.4,1100.2 1436.1,1097.7 1435.9,1095.2 1435.6,1092.8 1435.3,1090.3 1435.1,1087.8 1434.8,1085.3 1434.5,1082.8 1434.3,1080.3 1434.0,1077.8 1433.8,1075.4 1433.5,1072.9 1433.3,1070.4 1433.0,1067.9 1432.7,1065.4 1432.5,1062.9 1432.2,1060.4 1432.0,1057.9 1431.7,1055.5 1431.4,1053.0 1431.1,1050.5 1430.9,1048.0 1430.6,1045.5 1430.3,1043.0 1430.0,1040.6 1429.7,1038.1 1429.4,1035.6 1429.0,1033.1 1428.7,1030.7 1428.3,1028.2 1428.0,1025.7 1427.6,1023.2 1427.2,1020.8 1426.8,1018.3 1426.4,1015.8 1426.0,1013.3 1425.7,1010.9 1425.3,1008.4 1424.9,1005.9 1424.6,1003.5 1424.2,1001.0 1423.9,998.5 1423.6,996.0 1423.3,993.5 1423.0,991.1 1422.7,988.6 1422.5,986.1 1422.2,983.6 1421.9,981.1 1421.7,978.6 1421.4,976.1 1421.1,973.7 1420.8,971.2 1420.5,968.7 1420.3,966.2 1420.0,963.7 1419.6,961.2 1419.3,958.8 1419.0,956.3 1418.6,953.8 1418.2,951.3 1417.9,948.9 1417.5,946.4 1417.1,943.9 1416.7,941.5 1416.3,939.0 1415.9,936.5 1415.5,934.1 1415.1,931.6 1414.7,929.1 1414.2,926.7 1413.8,924.2 1413.4,921.7 1412.9,919.3 1412.5,916.8 1412.0,914.4 1411.6,911.9 1411.2,909.4 1410.7,907.0 1410.3,904.5 1409.8,902.1 1409.4,899.6 1408.9,897.1 1408.5,894.7 1408.0,892.2 1407.5,889.8 1407.1,887.3 1406.6,884.9 1406.1,882.4 1405.6,879.9 1405.1,877.5 1404.7,875.0 1404.2,872.6 1403.7,870.1 1403.2,867.7 1402.7,865.2 1402.2,862.8 1401.6,860.3 1401.1,857.9 1400.6,855.5 1400.1,853.0 1399.5,850.6 1399.0,848.1 1398.5,845.7 1397.9,843.3 1397.3,840.8 1396.8,838.4 1396.2,836.0 1395.6,833.5 1395.0,831.1 1394.5,828.7 1393.9,826.2 1393.3,823.8 1392.7,821.4 1392.1,818.9 1391.4,816.5 1390.8,814.1 1390.2,811.7 1389.6,809.3 1389.0,806.8 1388.3,804.4 1387.7,802.0 1387.1,799.6 1386.4,797.2 1385.8,794.7 1385.1,792.3 1384.5,789.9 1383.8,787.5 1383.2,785.1 1382.5,782.7 1381.9,780.3 1381.2,777.9 1380.5,775.4 1379.9,773.0 1379.2,770.6 1378.5,768.2 1377.8,765.8 1377.1,763.4 1376.4,761.0 1375.7,758.6 1375.0,756.2 1374.3,753.8 1373.6,751.4 1372.9,749.0 1372.2,746.6 1371.5,744.2 1370.8,741.8 1370.1,739.4 1369.4,737.0 1368.7,734.6 1368.0,732.2 1367.3,729.8 1366.6,727.4 1365.8,725.0 1365.1,722.7 1364.3,720.3 1363.6,717.9 1362.9,715.5 1362.1,713.1 1361.4,710.7 1360.7,708.3 1360.0,705.9 1359.3,703.5 1358.6,701.1 1357.9,698.7 1357.3,696.3 1356.6,693.9 1356.0,691.5 1355.4,689.0 1354.8,686.6 1354.2,684.2 1353.6,681.8 1353.0,679.3 1352.4,676.9 1351.8,674.5 1351.2,672.0 1350.6,669.6 1350.0,667.2 1349.3,664.8 1348.7,662.3 1348.1,659.9 1347.5,657.5 1346.8,655.1 1346.2,652.7 1345.6,650.3 1344.9,647.8 1344.3,645.4 1343.6,643.0 1343.0,640.6 1342.3,638.2 1341.7,635.8 1341.0,633.4 1340.4,630.9 1339.7,628.5 1339.1,626.1 1338.4,623.7 1337.8,621.3 1337.1,618.9 1336.5,616.5 1335.8,614.0 1335.2,611.6 1334.6,609.2 1333.9,606.8 1333.3,604.4 1332.7,601.9 1332.1,599.5 1331.4,597.1 1330.8,594.7 1330.2,592.3 1329.6,589.8 1329.0,587.4 1328.4,585.0 1327.8,582.5 1327.2,580.1 1326.6,577.7 1326.0,575.3 1325.4,572.8 1324.8,570.4 1324.2,568.0 1323.6,565.6 1323.0,563.1 1322.4,560.7 1321.8,558.3 1321.2,555.9 1320.6,553.4 1320.0,551.0 1319.3,548.6 1318.7,546.2 1318.1,543.7 1317.5,541.3 1316.8,538.9 1316.2,536.5 1315.6,534.1 1315.0,531.6 1314.3,529.2 1313.7,526.8 1313.1,524.4 1312.4,522.0 1311.8,519.5 1311.2,517.1 1310.5,514.7 1309.9,512.3 1309.2,509.9 1308.6,507.5 1307.9,505.0 1307.3,502.6 1306.6,500.2 1305.9,497.8 1305.2,495.4 1304.6,493.0 1303.9,490.6 1303.2,488.2 1302.4,485.8 1301.7,483.4 1301.0,481.0 1300.2,478.7 1299.5,476.3 1298.7,473.9 1298.0,471.5 1297.2,469.1 1296.5,466.7 1295.7,464.4 1294.9,462.0 1294.1,459.6 1293.4,457.2 1292.6,454.9 1291.8,452.5 1291.0,450.1 1290.3,447.7 1289.5,445.3 1288.7,443.0 1288.0,440.6 1287.2,438.2 1286.5,435.8 1285.7,433.4 1285.0,431.0 1284.2,428.7 1283.4,426.3 1282.6,423.9 1281.9,421.5 1281.1,419.1 1280.4,416.7 1279.7,414.3 1279.0,411.9 1278.4,409.5 1277.7,407.1 1277.2,404.7 1276.6,402.2 1276.1,399.8 1275.6,397.3 1275.1,394.9 1274.6,392.4 1274.1,389.9 1273.6,387.5 1273.1,385.0 1272.6,382.6 1272.0,380.1 1271.5,377.7 1270.9,375.3 1270.2,372.9 1269.5,370.5 1268.7,368.2 1267.8,365.8 1266.8,363.6 1265.8,361.3 1264.7,359.0 1263.7,356.7 1262.8,354.4 1261.9,352.0 1261.1,349.7 1260.2,347.3 1259.4,345.0 1258.6,342.6 1257.8,340.2 1257.0,337.9 1256.2,335.5 1255.4,333.1 1254.6,330.7 1253.8,328.4 1253.0,326.0 1252.2,323.6 1251.4,321.3 1250.7,318.9 1249.9,316.5 1249.2,314.1 1248.5,311.7 1247.8,309.3 1247.1,306.9 1246.4,304.5 1245.7,302.1 1244.9,299.7 1244.1,297.4 1243.1,295.1 1242.1,292.8 1241.0,290.6 1239.8,288.4 1238.6,286.1 1237.5,283.9 1236.3,281.7 1235.2,279.4 1234.2,277.2 1233.1,274.9 1232.1,272.6 1231.0,270.4 1229.9,268.1 1228.8,265.9 1227.7,263.6 1226.5,261.4 1225.3,259.2 1224.1,257.0 1222.9,254.8 1221.7,252.6 1220.4,250.5 1219.1,248.4 1217.7,246.3 1216.3,244.2 1214.8,242.2 1213.3,240.2 1211.7,238.3 1210.1,236.4 1208.4,234.5 1206.7,232.7 1205.0,230.9 1203.3,229.1 1205.0,230.8 1203.1,229.1 1201.2,227.5 1199.3,226.0 1197.3,224.5 1195.2,223.2 1193.1,221.9 1190.9,220.6 1188.7,219.4 1186.5,218.2 1184.3,217.0 1182.1,215.8 1179.9,214.6 1177.7,213.4 1175.5,212.2 1173.3,210.9 1171.2,209.6 1169.0,208.3 1166.9,207.0 1164.8,205.7 1162.6,204.4 1160.5,203.1 1158.4,201.8 1156.3,200.5 1154.1,199.2 1152.0,197.9 1149.8,196.6 1147.7,195.4 1145.5,194.1 1143.3,192.9 1141.1,191.7 1138.9,190.5 1136.7,189.3 1134.5,188.1 1132.3,187.0 1130.1,185.8 1127.9,184.6 1125.7,183.5 1123.4,182.3 1121.2,181.2 1119.0,180.0 1116.8,178.9 1114.6,177.7 1112.4,176.5 1110.1,175.4 1107.9,174.2 1105.7,173.1 1103.5,171.9 1101.2,170.8 1099.0,169.6 1096.8,168.5 1094.6,167.4 1092.3,166.3 1090.1,165.2 1087.8,164.1 1085.6,163.0 1083.3,162.0 1081.0,161.0 1078.7,160.0 1076.4,159.0 1074.1,158.0 1071.8,157.1 1069.5,156.1 1067.2,155.2 1064.9,154.3 1062.5,153.4 1060.2,152.4 1057.9,151.5 1055.5,150.6 1053.2,149.8 1050.9,148.9 1048.5,148.0 1046.2,147.1 1043.9,146.2 1041.5,145.2 1039.2,144.2 1036.9,143.3 1034.6,142.3 1032.3,141.3 1029.9,140.3 1027.6,139.3 1025.3,138.3 1023.0,137.4 1020.6,136.5 1018.3,135.6 1015.9,134.8 1013.5,134.1 1011.2,133.4 1008.8,132.8 1006.4,132.3 1004.0,131.8 1001.5,131.3 999.1,130.9 996.6,130.4 994.2,130.0 991.7,129.6 989.2,129.2 986.7,128.8 984.2,128.5 981.7,128.1 979.3,127.8 976.8,127.5 974.3,127.2 971.8,126.9 969.3,126.7 966.8,126.4 964.3,126.2 961.8,126.0 959.3,125.8 956.8,125.6 954.3,125.4 951.8,125.2 949.4,125.1 946.9,124.9 944.4,124.7 941.9,124.6 939.4,124.4 936.9,124.3 934.4,124.2 931.9,124.0 929.4,123.9 926.9,123.8 924.4,123.7 921.9,123.5 919.4,123.4 916.9,123.3 914.4,123.2 911.9,123.1 909.4,122.9 906.9,122.8 904.4,122.7 901.9,122.6 899.4,122.5 896.9,122.4 894.4,122.2 891.9,122.1 889.4,122.0 886.9,121.9 884.4,121.7 881.9,121.6 879.4,121.5 876.9,121.3 874.4,121.2 871.9,121.1 869.4,120.9 866.9,120.8 864.4,120.7 861.9,120.5 859.4,120.4 856.9,120.3 854.4,120.1 851.9,120.0 849.4,119.9 846.9,119.8 844.4,119.6 842.0,119.5 839.5,119.4 837.0,119.2 834.5,119.1 832.0,119.0 829.5,118.9 827.0,118.8 824.5,118.7 822.0,118.5 819.5,118.4 817.0,118.3 814.5,118.2 812.0,118.1 809.5,118.0 807.0,117.9 804.5,117.9 802.0,117.8 799.5,117.7 797.0,117.6 794.5,117.5 792.0,117.5 789.5,117.4 787.0,117.3 784.5,117.3 782.0,117.2 779.5,117.2 777.0,117.1 774.5,117.1 772.0,117.1 769.5,117.0 767.0,117.0 764.5,117.0 762.0,117.0 759.5,117.0 757.0,117.0 754.5,117.0 752.0,117.0 749.5,117.0 747.0,117.0 744.5,117.0 742.0,117.0 739.5,117.0 737.0,117.0 734.5,117.0 732.0,117.0 729.5,117.0 727.0,117.0 724.5,117.0 722.0,117.0 719.5,117.0 717.0,117.0 714.5,117.0 712.0,117.0 709.5,117.0 707.0,117.0 704.5,117.0 702.0,117.0 699.5,117.0 697.0,117.0 694.5,117.0 692.0,117.0 689.5,117.0 687.0,117.0 684.5,117.0 682.0,117.0 679.5,117.0 677.0,117.0 674.5,117.0 672.0,117.0 669.5,117.0 667.0,117.0 664.5,117.0 662.0,117.0 659.5,117.0 657.0,117.0 654.5,117.0 652.0,117.0 649.5,117.0 647.0,117.0 644.5,117.0 642.0,117.0 639.5,117.0 637.0,117.0 634.5,117.0 632.0,117.0 629.5,117.0 627.0,117.0 624.5,117.0 622.0,117.0 619.5,117.0 617.0,117.0 614.5,117.0 612.0,117.0 609.5,117.0 607.0,117.0 604.5,117.0 602.0,117.0 599.5,117.0 597.0,117.0 594.5,117.0 592.0,117.0 589.5,117.0 587.0,117.0 584.5,117.0 582.0,117.0 579.5,117.0 577.0,117.0 574.5,117.0 572.0,117.0 569.5,117.0 567.0,117.0 564.5,117.0 562.0,117.0 559.5,117.0 557.0,117.0 554.5,117.0 552.0,117.0 549.5,117.0 547.0,117.0 544.5,117.0 542.0,117.0 539.5,117.0 537.0,117.0 534.5,117.0 532.0,117.0 529.5,117.0 527.0,117.0 524.5,117.0 522.0,117.0 519.5,117.0 517.0,117.0 514.5,117.0 512.0,117.0 509.5,117.0 507.0,117.0 504.5,117.0 502.0,117.0 499.5,117.0 497.0,117.0 494.5,117.0 492.0,117.0 489.5,117.0 487.0,117.0 484.5,117.0 482.0,117.0 479.5,117.0 477.0,117.0 474.5,117.0 472.0,117.0 469.5,117.0 467.0,117.0 464.5,117.0 462.0,117.0 459.5,117.0 457.0,117.0 454.5,117.0 452.0,117.0 449.5,117.0 447.0,117.0 444.5,117.0 442.0,117.0 439.5,117.0 437.0,117.0 434.5,117.0 432.0,117.0 429.5,117.0 427.0,117.0 424.5,117.0 422.0,117.0 419.5,117.0 417.0,117.0 414.5,117.0 412.0,117.0 409.5,117.0 407.0,117.0 404.5,117.0 402.0,117.0 399.5,117.0 397.0,117.0 394.5,117.0z"/>
<path fill="#0000ff" d="M394.5,110.0 397.0,110.0 399.5,110.0 402.0,110.0 404.5,110.0 407.0,110.0 409.5,110.0 412.0,110.0 414.5,110.0 417.0,110.0 419.5,110.0 422.0,110.0 424.5,110.0 427.0,110.0 429.5,110.0 432.0,110.0 434.5,110.0 437.0,110.0 439.5,110.0 442.0,110.0 444.5,110.0 447.0,110.0 449.5,110.0 452.0,110.0 454.5,110.0 457.0,110.0 459.5,110.0 462.0,110.0 464.5,110.0 467.0,110.0 469.5,110.0 472.0,110.0 474.5,110.0 477.0,110.0 479.5,110.0 482.0,110.0 484.5,110.0 487.0,110.0 489.5,110.0 492.0,110.0 494.5,110.0 497.0,110.0 499.5,110.0 502.0,110.0 504.5,110.0 507.0,110.0 509.5,110.0 512.0,110.0 514.5,110.0 517.0,110.0 519.5,110.0 522.0,110.0 524.5,110.0 527.0,110.0 529.5,110.0 532.0,110.0 534.5,110.0 537.0,110.0 539.5,110.0 542.0,110.0 544.5,110.0 547.0,110.0 549.5,110.0 552.0,110.0 554.5,110.0 557.0,110.0 559.5,110.0 562.0,110.0 564.5,110.0 567.0,110.0 569.5,110.0 572.0,110.0 574.5,110.0 577.0,110.0 579.5,110.0 582.0,110.0 584.5,110.0 587.0,110.0 589.5,110.0 592.0,110.0 594.5,110.0 597.0,110.0 599.5,110.0 602.0,110.0 604.5,110.0 607.0,110.0 609.5,110.0 612.0,110.0 614.5,110.0 617.0,110.0 619.5,110.0 622.0,110.0 624.5,110.0 627.0,110.0 629.5,110.0 632.0,110.0 634.5,110.0 637.0,110.0 639.5,110.0 642.0,110.0 644.5,110.0 647.0,110.0 649.5,110.0 652.0,110.0 654.5,110.0 657.0,110.0 659.5,110.0 662.0,110.0 664.5,110.0 667.0,110.1 669.5,110.1 672.0,110.1 674.5,110.1 677.0,110.1 679.5,110.1 682.0,110.1 684.5,110.1 687.0,110.1 689.5,110.1 692.0,110.1 694.5,110.1 697.0,110.1 699.5,110.1 702.0,110.2 704.5,110.2 707.0,110.2 709.5,110.2 712.0,110.2 714.5,110.2 717.0,110.2 719.5,110.2 722.0,110.2 724.5,110.3 727.0,110.3 729.6,110.3 732.1,110.3 734.6,110.3 737.1,110.3 739.6,110.3 742.1,110.3 744.6,110.4 747.1,110.4 749.6,110.4 752.1,110.4 754.6,110.4 757.1,110.4 759.6,110.5 762.1,110.5 764.6,110.5 767.1,110.5 769.6,110.5 772.1,110.5 774.6,110.6 777.1,110.6 779.6,110.6 782.1,110.6 784.6,110.6 787.1,110.7 789.6,110.7 792.1,110.7 794.6,110.7 797.1,110.7 799.6,110.8 802.1,110.8 804.6,110.8 807.1,110.8 809.6,110.9 812.1,110.9 814.6,110.9 817.1,110.9 819.6,111.0 822.1,111.0 824.6,111.0 827.1,111.0 829.6,111.1 832.1,111.1 834.6,111.1 837.1,111.1 839.6,111.2 842.1,111.2 844.6,111.2 847.1,111.3 849.6,111.3 852.1,111.3 854.6,111.3 857.1,111.4 859.6,111.4 862.1,111.4 864.6,111.5 867.1,111.5 869.6,111.5 872.1,111.6 874.6,111.6 877.1,111.6 879.6,111.7 882.1,111.7 884.6,111.7 887.1,111.8 889.6,111.8 892.1,111.8 894.6,111.9 897.1,111.9 899.6,111.9 902.1,112.0 904.6,112.0 907.1,112.0 909.6,112.1 912.1,112.1 914.6,112.2 917.1,112.2 919.6,112.2 922.1,112.3 924.6,112.3 927.1,112.3 929.6,112.4 932.1,112.4 934.6,112.5 937.1,112.5 939.6,112.6 942.1,112.6 944.6,112.6 947.1,112.7 949.6,112.7 952.1,112.8 954.5,112.8 957.0,112.9 959.5,112.9 962.0,112.9 964.5,113.0 967.0,113.0 969.5,113.1 972.0,113.1 974.5,113.2 977.0,113.2 979.5,113.3 982.0,113.3 984.5,113.4 987.0,113.4 989.5,113.5 992.0,113.5 994.5,113.6 997.0,113.7 999.5,113.8 1002.0,113.9 1004.5,114.0 1007.0,114.2 1009.5,114.3 1012.0,114.5 1014.5,114.6 1016.9,114.8 1019.4,115.0 1021.9,115.1 1024.4,115.3 1026.9,115.5 1029.4,115.7 1031.9,115.9 1034.4,116.2 1036.9,116.4 1039.4,116.6 1041.9,116.9 1044.4,117.1 1046.9,117.4 1049.4,117.6 1051.9,117.9 1054.4,118.1 1056.9,118.4 1059.4,118.7 1061.9,119.0 1064.4,119.3 1066.8,119.6 1069.3,119.9 1071.8,120.2 1074.3,120.5 1076.8,120.8 1079.3,121.1 1081.7,121.4 1084.2,121.7 1086.7,122.0 1089.2,122.4 1091.6,122.7 1094.1,123.0 1096.6,123.3 1099.0,123.7 1101.5,124.0 1103.9,124.4 1106.4,124.8 1108.9,125.2 1111.3,125.6 1113.8,126.1 1116.2,126.6 1118.6,127.1 1121.1,127.7 1123.5,128.2 1126.0,128.8 1128.4,129.4 1130.8,129.9 1133.3,130.5 1135.7,131.1 1138.1,131.7 1140.6,132.3 1143.0,132.9 1145.5,133.5 1147.9,134.1 1150.3,134.7 1152.8,135.3 1155.2,135.9 1157.6,136.5 1160.1,137.0 1162.5,137.6 1165.0,138.1 1167.4,138.6 1169.9,139.1 1172.3,139.7 1174.7,140.2 1177.2,140.7 1179.6,141.2 1182.1,141.8 1184.5,142.3 1187.0,142.9 1189.4,143.4 1191.8,144.0 1194.3,144.6 1196.7,145.2 1199.1,145.8 1201.5,146.4 1203.9,147.1 1206.3,147.7 1208.7,148.4 1211.1,149.1 1213.5,149.8 1215.9,150.5 1218.3,151.3 1220.7,152.0 1223.1,152.8 1225.5,153.6 1227.9,154.3 1230.2,155.1 1232.6,155.9 1235.0,156.7 1237.3,157.5 1239.7,158.3 1242.1,159.1 1244.4,160.0 1246.8,160.8 1249.1,161.7 1251.5,162.6 1253.8,163.5 1256.1,164.4 1258.4,165.4 1260.7,166.4 1263.0,167.4 1265.3,168.4 1267.6,169.4 1269.8,170.5 1272.1,171.6 1274.3,172.7 1276.6,173.8 1278.8,175.0 1281.0,176.1 1283.2,177.3 1285.4,178.5 1287.6,179.7 1289.7,181.0 1291.9,182.2 1294.1,183.5 1296.2,184.8 1298.3,186.1 1300.4,187.5 1302.5,188.8 1304.6,190.2 1306.7,191.6 1308.7,193.0 1310.8,194.5 1312.8,196.0 1314.7,197.6 1316.6,199.2 1318.6,200.8 1320.5,202.5 1322.3,204.2 1327.6,209.5 1329.2,211.3 1330.7,213.2 1332.2,215.3 1333.5,217.4 1334.8,219.6 1336.0,221.8 1337.2,224.0 1338.3,226.2 1339.4,228.5 1340.4,230.8 1341.4,233.0 1342.4,235.3 1343.3,237.6 1344.3,240.0 1345.2,242.3 1346.1,244.6 1346.9,247.0 1347.8,249.3 1348.6,251.7 1349.5,254.0 1350.3,256.4 1351.2,258.7 1352.0,261.1 1352.9,263.5 1353.7,265.8 1354.6,268.2 1355.5,270.5 1356.3,272.9 1357.2,275.2 1358.0,277.6 1358.9,279.9 1359.7,282.3 1360.5,284.6 1361.4,287.0 1362.2,289.3 1363.1,291.7 1363.9,294.0 1364.8,296.4 1365.6,298.7 1366.5,301.1 1367.4,303.4 1368.2,305.8 1369.1,308.1 1370.0,310.4 1371.0,312.7 1371.9,315.1 1372.9,317.4 1373.9,319.6 1375.0,321.9 1376.0,324.2 1377.0,326.5 1378.0,328.8 1378.9,331.1 1379.8,333.4 1380.7,335.7 1381.6,338.1 1382.5,340.4 1383.3,342.8 1384.2,345.1 1385.0,347.5 1385.8,349.9 1386.6,352.2 1387.4,354.6 1388.1,357.0 1388.9,359.4 1389.7,361.8 1390.4,364.1 1391.2,366.5 1391.9,368.9 1392.6,371.3 1393.3,373.7 1394.0,376.1 1394.7,378.5 1395.4,380.9 1396.0,383.3 1396.7,385.8 1397.3,388.2 1397.9,390.6 1398.6,393.0 1399.2,395.4 1399.8,397.9 1400.4,400.3 1401.0,402.7 1401.6,405.1 1402.2,407.6 1402.7,410.0 1403.3,412.4 1403.9,414.9 1404.5,417.3 1405.1,419.7 1405.7,422.2 1406.2,424.6 1406.8,427.0 1407.4,429.5 1408.0,431.9 1408.6,434.3 1409.2,436.7 1409.8,439.2 1410.4,441.6 1411.0,444.0 1411.6,446.4 1412.2,448.9 1412.8,451.3 1413.4,453.7 1414.0,456.2 1414.6,458.6 1415.2,461.0 1415.8,463.4 1416.4,465.9 1417.0,468.3 1417.6,470.7 1418.2,473.2 1418.8,475.6 1419.4,478.0 1420.0,480.4 1420.7,482.8 1421.3,485.3 1421.9,487.7 1422.5,490.1 1423.2,492.5 1423.8,494.9 1424.5,497.4 1425.1,499.8 1425.7,502.2 1426.4,504.6 1427.0,507.0 1427.7,509.5 1428.3,511.9 1429.0,514.3 1429.6,516.7 1430.3,519.1 1431.0,521.5 1431.6,524.0 1432.3,526.4 1433.0,528.8 1433.7,531.2 1434.4,533.6 1435.1,536.0 1435.9,538.3 1436.6,540.7 1437.4,543.1 1438.1,545.5 1438.9,547.8 1439.7,550.2 1440.6,552.5 1441.4,554.9 1442.3,557.2 1443.2,559.5 1444.1,561.8 1445.0,564.2 1446.0,566.5 1446.9,568.8 1447.9,571.1 1448.9,573.4 1449.8,575.7 1450.8,578.0 1451.8,580.3 1452.8,582.6 1453.9,584.9 1454.9,587.2 1455.9,589.5 1456.9,591.8 1457.9,594.1 1458.9,596.4 1459.9,598.7 1460.9,600.9 1461.9,603.2 1462.9,605.5 1464.0,607.8 1465.0,610.1 1466.0,612.4 1467.1,614.6 1468.1,616.9 1469.2,619.2 1470.2,621.4 1471.3,623.7 1472.3,626.0 1473.4,628.3 1474.4,630.5 1475.4,632.8 1476.4,635.1 1477.4,637.4 1478.4,639.7 1479.4,642.0 1480.4,644.3 1481.3,646.6 1482.3,648.9 1483.3,651.2 1484.2,653.5 1485.2,655.8 1486.1,658.2 1487.1,660.5 1488.0,662.8 1488.9,665.1 1489.8,667.5 1490.7,669.8 1491.6,672.1 1492.4,674.5 1493.3,676.8 1494.1,679.2 1494.9,681.5 1495.7,683.9 1496.5,686.3 1497.3,688.6 1498.1,691.0 1498.9,693.4 1499.6,695.8 1500.4,698.2 1501.1,700.5 1501.8,702.9 1502.6,705.3 1503.3,707.7 1504.0,710.1 1504.7,712.5 1505.4,714.9 1506.1,717.3 1506.8,719.7 1507.5,722.2 1508.1,724.6 1508.8,727.0 1509.5,729.4 1510.1,731.8 1510.8,734.2 1511.4,736.6 1512.0,739.0 1512.6,741.5 1513.3,743.9 1513.9,746.3 1514.5,748.7 1515.1,751.2 1515.7,753.6 1516.2,756.0 1516.8,758.5 1517.4,760.9 1518.0,763.3 1518.5,765.8 1519.1,768.2 1519.6,770.6 1520.2,773.1 1520.7,775.5 1521.3,778.0 1521.8,780.4 1522.4,782.9 1522.9,785.3 1523.4,787.7 1524.0,790.2 1524.5,792.6 1525.0,795.1 1525.5,797.5 1526.0,800.0 1526.5,802.4 1527.1,804.9 1527.6,807.3 1528.1,809.8 1528.6,812.2 1529.1,814.7 1529.6,817.1 1530.0,819.6 1530.5,822.0 1531.0,824.5 1531.5,826.9 1532.0,829.4 1532.4,831.8 1532.9,834.3 1533.4,836.7 1533.8,839.2 1534.3,841.7 1534.7,844.1 1535.2,846.6 1535.6,849.0 1536.1,851.5 1536.5,854.0 1537.0,856.4 1537.4,858.9 1537.8,861.3 1538.2,863.8 1538.6,866.3 1539.1,868.7 1539.5,871.2 1539.9,873.7 1540.3,876.1 1540.7,878.6 1541.1,881.1 1541.5,883.5 1541.9,886.0 1542.3,888.5 1542.7,890.9 1543.1,893.4 1543.5,895.9 1543.9,898.4 1544.3,900.8 1544.7,903.3 1545.0,905.8 1545.4,908.2 1545.8,910.7 1546.2,913.2 1546.6,915.6 1546.9,918.1 1547.3,920.6 1547.7,923.1 1548.0,925.5 1548.4,928.0 1548.8,930.5 1549.1,933.0 1549.5,935.4 1549.8,937.9 1550.2,940.4 1550.6,942.8 1550.9,945.3 1551.3,947.8 1551.6,950.3 1552.0,952.7 1552.4,955.2 1552.7,957.7 1553.1,960.2 1553.5,962.6 1553.8,965.1 1554.2,967.6 1554.5,970.1 1554.9,972.5 1555.2,975.0 1555.6,977.5 1555.9,980.0 1556.3,982.4 1556.6,984.9 1557.0,987.4 1557.4,989.9 1557.8,992.3 1558.1,994.8 1558.5,997.3 1559.0,999.7 1559.4,1002.2 1559.9,1004.7 1560.3,1007.1 1560.8,1009.6 1561.4,1012.0 1561.9,1014.4 1562.4,1016.9 1563.0,1019.3 1563.5,1021.8 1564.0,1024.2 1564.5,1026.7 1565.0,1029.1 1565.5,1031.6 1565.9,1034.0 1566.3,1036.5 1566.7,1039.0 1567.0,1041.4 1567.4,1043.9 1567.7,1046.4 1568.1,1048.9 1568.4,1051.3 1568.7,1053.8 1569.0,1056.3 1569.3,1058.8 1569.6,1061.3 1569.9,1063.8 1570.2,1066.2 1570.5,1068.7 1570.8,1071.2 1571.1,1073.7 1571.4,1076.2 1571.7,1078.7 1572.0,1081.1 1572.3,1083.6 1572.6,1086.1 1572.9,1088.6 1573.2,1091.1 1573.5,1093.6 1573.9,1096.0 1574.2,1098.5 1574.5,1101.0 1574.9,1103.5 1575.2,1105.9 1575.6,1108.4 1575.9,1110.9 1576.3,1113.4 1576.6,1115.8 1577.0,1118.3 1577.3,1120.8 1577.7,1123.3 1578.0,1125.7 1578.3,1128.2 1578.7,1130.7 1579.0,1133.2 1579.3,1135.7 1579.6,1138.1 1580.0,1140.6 1580.3,1143.1 1580.6,1145.6 1580.8,1148.1 1581.1,1150.5 1581.4,1153.0 1581.7,1155.5 1581.9,1158.0 1582.2,1160.5 1582.4,1163.0 1582.7,1165.5 1582.9,1168.0 1583.1,1170.4 1583.4,1172.9 1583.6,1175.4 1583.8,1177.9 1584.1,1180.4 1584.3,1182.9 1584.5,1185.4 1584.8,1187.9 1585.0,1190.4 1585.3,1192.8 1585.5,1195.3 1585.8,1197.8 1586.0,1200.3 1586.3,1202.8 1586.6,1205.3 1586.9,1207.8 1587.2,1210.2 1587.4,1212.7 1587.7,1215.2 1588.0,1217.7 1588.3,1220.2 1588.6,1222.7 1588.9,1225.1 1589.3,1227.6 1589.6,1230.1 1589.9,1232.6 1590.2,1235.1 1590.5,1237.5 1590.8,1240.0 1591.1,1242.5 1591.5,1245.0 1591.8,1247.5 1592.1,1249.9 1592.4,1252.4 1592.7,1254.9 1593.0,1257.4 1593.3,1259.9 1593.7,1262.3 1594.0,1264.8 1594.3,1267.3 1594.6,1269.8 1594.9,1272.3 1595.2,1274.8 1595.5,1277.2 1595.8,1279.7 1596.1,1282.2 1596.4,1284.7 1596.7,1287.2 1597.0,1289.6 1597.3,1292.1 1597.7,1294.6 1598.0,1297.1 1598.3,1299.5 1598.7,1302.0 1599.1,1304.5 1599.4,1307.0 1599.8,1309.4 1600.2,1311.9 1600.6,1314.4 1601.0,1316.8 1601.4,1319.3 1601.8,1321.8 1602.2,1324.2 1602.6,1326.7 1603.0,1329.2 1603.4,1331.6 1603.8,1334.1 1604.2,1336.6 1604.6,1339.0 1605.0,1341.5 1605.4,1344.0 1605.7,1346.5 1606.1,1348.9 1606.5,1351.4 1606.8,1353.9 1607.2,1356.4 1607.5,1358.8 1607.9,1361.3 1608.2,1363.8 1608.6,1366.3 1608.9,1368.8 1609.3,1371.2 1609.7,1373.7 1610.1,1376.2 1610.5,1378.6 1610.9,1381.1 1611.3,1383.6 1611.7,1386.0 1612.2,1388.5 1612.7,1390.9 1613.2,1393.4 1613.7,1395.8 1614.3,1398.3 1614.8,1400.7 1615.3,1403.1 1615.9,1405.6 1616.4,1408.0 1617.0,1410.5 1617.5,1412.9 1618.1,1415.3 1618.6,1417.8 1619.2,1420.2 1619.7,1422.7 1620.3,1425.1 1620.9,1427.5 1621.4,1430.0 1622.0,1432.4 1622.6,1434.8 1623.2,1437.2 1623.8,1439.7 1624.5,1442.1 1625.1,1444.5 1625.7,1446.9 1626.4,1449.3 1627.0,1451.8 1627.7,1454.2 1628.4,1456.6 1629.1,1459.0 1629.8,1461.4 1630.6,1463.7 1631.3,1466.1 1632.1,1468.5 1633.0,1470.8 1633.8,1473.2 1634.7,1475.6 1635.6,1477.9 1636.5,1480.2 1637.5,1482.5 1638.5,1484.8 1639.5,1487.1 1640.5,1489.4 1641.6,1491.8 1642.7,1494.0 1644.0,1496.2 1645.3,1498.1 1647.0,1500.0 1645.3,1498.3 1647.3,1500.1 1649.4,1501.8 1651.5,1503.1 1653.7,1504.1 1655.9,1504.7 1658.2,1505.2 1660.5,1505.7 1662.9,1506.1 1665.4,1506.5 1667.9,1506.9 1670.4,1507.2 1672.9,1507.5 1675.5,1507.8 1678.1,1508.0 1680.7,1508.2 1683.3,1508.3 1685.8,1508.4 1688.3,1508.5 1690.8,1508.5 1693.3,1508.5 1695.8,1508.5 1698.3,1508.5 1700.8,1508.6 1703.3,1508.6 1705.8,1508.6 1708.3,1508.6 1710.8,1508.6 1713.2,1508.6 1715.7,1508.6 1718.2,1508.7 1720.7,1508.7 1723.2,1508.7 1725.7,1508.7 1728.2,1508.7 1730.7,1508.7 1733.2,1508.7 1735.7,1508.7 1738.2,1508.8 1740.6,1508.8 1743.1,1508.8 1745.6,1508.8 1748.1,1508.8 1750.6,1508.8 1753.1,1508.8 1755.6,1508.8 1758.1,1508.9 1760.6,1508.9 1763.1,1508.9 1765.6,1508.9 1768.1,1508.9 1770.5,1508.9 1773.0,1508.9 1775.5,1508.9 1778.0,1508.9 1780.5,1508.9 1783.0,1509.0 1785.5,1509.0 1788.0,1509.0 1790.5,1509.0 1793.0,1509.0 1795.5,1509.0 1798.0,1509.0 1800.5,1509.0 1802.9,1509.0 1805.4,1509.0 1807.9,1509.0 1810.4,1509.1 1812.9,1509.1 1815.4,1509.1 1817.9,1509.1 1820.4,1509.1 1822.9,1509.1 1825.4,1509.1 1827.9,1509.1 1830.4,1509.1 1832.9,1509.1 1835.4,1509.1 1837.9,1509.1 1840.4,1509.2 1842.9,1509.2 1845.3,1509.2 1847.8,1509.2 1850.3,1509.2 1852.8,1509.2 1855.3,1509.2 1857.8,1509.2 1860.3,1509.2 1862.8,1509.2 1865.3,1509.2 1867.8,1509.2 1870.3,1509.2 1872.8,1509.2 1875.3,1509.2 1877.8,1509.3 1880.3,1509.3 1882.8,1509.3 1885.3,1509.3 1887.8,1509.3 1890.3,1509.3 1892.8,1509.3 1895.3,1509.3 1897.8,1509.3 1900.3,1509.3 1902.8,1509.3 1905.3,1509.3 1907.8,1509.3 1910.3,1509.3 1912.8,1509.3 1915.3,1509.3 1917.8,1509.3 1920.3,1509.3 1922.8,1509.3 1925.3,1509.3 1927.8,1509.4 1930.3,1509.4 1932.8,1509.4 1935.3,1509.4 1937.8,1509.4 1940.3,1509.4 1942.8,1509.4 1945.3,1509.4 1947.8,1509.4 1950.3,1509.4 1952.8,1509.4 1955.3,1509.4 1957.8,1509.4 1960.3,1509.4 1962.8,1509.4 1965.3,1509.4 1967.8,1509.4 1970.3,1509.4 1972.8,1509.4 1975.3,1509.4 1977.8,1509.4 1980.3,1509.4 1982.8,1509.4 1985.3,1509.4 1987.8,1509.4 1990.3,1509.4 1992.8,1509.4 1995.3,1509.4 1997.8,1509.4 2000.3,1509.4 2002.8,1509.4 2005.3,1509.4 2007.8,1509.5 2010.3,1509.5 2012.8,1509.5 2015.3,1509.5 2017.8,1509.5 2020.3,1509.5 2022.8,1509.5 2025.3,1509.5 2027.8,1509.5 2030.4,1509.5 2032.9,1509.5 2035.4,1509.5 2037.9,1509.5 2040.4,1509.5 2042.9,1509.5 2045.4,1509.5 2047.9,1509.5 2050.4,1509.5 2052.9,1509.5 2055.4,1509.5 2057.9,1509.5 2060.4,1509.5 2062.9,1509.5 2065.5,1509.5 2068.0,1509.5 2070.5,1509.5 2073.0,1509.5 2075.5,1509.5 2078.0,1509.5 2080.5,1509.5 2083.0,1509.5 2085.5,1509.5 2088.0,1509.5 2090.5,1509.5 2093.1,1509.5 2095.6,1509.5 2098.1,1509.5 2100.6,1509.5 2103.1,1509.5 2105.6,1509.5 2108.1,1509.5 2110.6,1509.5 2113.1,1509.5 2115.7,1509.5 2118.2,1509.5 2120.7,1509.5 2123.2,1509.5 2125.7,1509.5 2128.2,1509.5 2130.7,1509.5 2133.2,1509.5 2135.8,1509.5 2138.3,1509.5 2140.8,1509.5 2143.3,1509.5 2145.8,1509.5 2148.3,1509.5 2150.0,1509.5 2150.0,1516.5 2148.3,1516.5 2145.8,1516.5 2143.3,1516.5 2140.8,1516.5 2138.3,1516.5 2135.8,1516.5 2133.2,1516.5 2130.7,1516.5 2128.2,1516.5 2125.7,1516.5 2123.2,1516.5 2120.7,1516.5 2118.2,1516.5 2115.7,1516.5 2113.1,1516.5 2110.6,1516.5 2108.1,1516.5 2105.6,1516.5 2103.1,1516.5 2100.6,1516.5 2098.1,1516.5 2095.6,1516.5 2093.1,1516.5 2090.5,1516.5 2088.0,1516.5 2085.5,1516.5 2083.0,1516.5 2080.5,1516.5 2078.0,1516.5 2075.5,1516.5 2073.0,1516.5 2070.5,1516.5 2068.0,1516.5 2065.5,1516.5 2062.9,1516.5 2060.4,1516.5 2057.9,1516.5 2055.4,1516.5 2052.9,1516.5 2050.4,1516.5 2047.9,1516.5 2045.4,1516.5 2042.9,1516.5 2040.4,1516.5 2037.9,1516.5 2035.4,1516.5 2032.9,1516.5 2030.4,1516.5 2027.8,1516.5 2025.3,1516.5 2022.8,1516.5 2020.3,1516.5 2017.8,1516.5 2015.3,1516.5 2012.8,1516.5 2010.3,1516.5 2007.8,1516.5 2005.3,1516.4 2002.8,1516.4 2000.3,1516.4 1997.8,1516.4 1995.3,1516.4 1992.8,1516.4 1990.3,1516.4 1987.8,1516.4 1985.3,1516.4 1982.8,1516.4 1980.3,1516.4 1977.8,1516.4 1975.3,1516.4 1972.8,1516.4 1970.3,1516.4 1967.8,1516.4 1965.3,1516.4 1962.8,1516.4 1960.3,1516.4 1957.8,1516.4 1955.3,1516.4 1952.8,1516.4 1950.3,1516.4 1947.8,1516.4 1945.3,1516.4 1942.8,1516.4 1940.3,1516.4 1937.8,1516.4 1935.3,1516.4 1932.8,1516.4 1930.3,1516.4 1927.8,1516.4 1925.3,1516.3 1922.8,1516.3 1920.3,1516.3 1917.8,1516.3 1915.3,1516.3 1912.8,1516.3 1910.3,1516.3 1907.8,1516.3 1905.3,1516.3 1902.8,1516.3 1900.3,1516.3 1897.8,1516.3 1895.3,1516.3 1892.8,1516.3 1890.3,1516.3 1887.8,1516.3 1885.3,1516.3 1882.8,1516.3 1880.3,1516.3 1877.8,1516.3 1875.3,1516.2 1872.8,1516.2 1870.3,1516.2 1867.8,1516.2 1865.3,1516.2 1862.8,1516.2 1860.3,1516.2 1857.8,1516.2 1855.3,1516.2 1852.8,1516.2 1850.3,1516.2 1847.8,1516.2 1845.3,1516.2 1842.9,1516.2 1840.4,1516.2 1837.9,1516.1 1835.4,1516.1 1832.9,1516.1 1830.4,1516.1 1827.9,1516.1 1825.4,1516.1 1822.9,1516.1 1820.4,1516.1 1817.9,1516.1 1815.4,1516.1 1812.9,1516.1 1810.4,1516.1 1807.9,1516.0 1805.4,1516.0 1802.9,1516.0 1800.5,1516.0 1798.0,1516.0 1795.5,1516.0 1793.0,1516.0 1790.5,1516.0 1788.0,1516.0 1785.5,1516.0 1783.0,1516.0 1780.5,1515.9 1778.0,1515.9 1775.5,1515.9 1773.0,1515.9 1770.5,1515.9 1768.1,1515.9 1765.6,1515.9 1763.1,1515.9 1760.6,1515.9 1758.1,1515.9 1755.6,1515.8 1753.1,1515.8 1750.6,1515.8 1748.1,1515.8 1745.6,1515.8 1743.1,1515.8 1740.6,1515.8 1738.2,1515.8 1735.7,1515.7 1733.2,1515.7 1730.7,1515.7 1728.2,1515.7 1725.7,1515.7 1723.2,1515.7 1720.7,1515.7 1718.2,1515.7 1715.7,1515.6 1713.2,1515.6 1710.8,1515.6 1708.3,1515.6 1705.8,1515.6 1703.3,1515.6 1700.8,1515.6 1698.3,1515.5 1695.8,1515.5 1693.3,1515.5 1690.8,1515.5 1688.3,1515.5 1685.8,1515.4 1683.3,1515.3 1680.7,1515.2 1678.1,1515.0 1675.5,1514.8 1672.9,1514.5 1670.4,1514.2 1667.9,1513.9 1665.4,1513.5 1662.9,1513.1 1660.5,1512.7 1658.2,1512.2 1655.9,1511.7 1653.7,1511.1 1651.5,1510.1 1649.4,1508.8 1647.3,1507.1 1645.3,1505.3 1640.0,1500.0 1638.3,1498.1 1637.0,1496.2 1635.7,1494.0 1634.6,1491.8 1633.5,1489.4 1632.5,1487.1 1631.5,1484.8 1630.5,1482.5 1629.5,1480.2 1628.6,1477.9 1627.7,1475.6 1626.8,1473.2 1626.0,1470.8 1625.1,1468.5 1624.3,1466.1 1623.6,1463.7 1622.8,1461.4 1622.1,1459.0 1621.4,1456.6 1620.7,1454.2 1620.0,1451.8 1619.4,1449.3 1618.7,1446.9 1618.1,1444.5 1617.5,1442.1 1616.8,1439.7 1616.2,1437.2 1615.6,1434.8 1615.0,1432.4 1614.4,1430.0 1613.9,1427.5 1613.3,1425.1 1612.7,1422.7 1612.2,1420.2 1611.6,1417.8 1611.1,1415.3 1610.5,1412.9 1610.0,1410.5 1609.4,1408.0 1608.9,1405.6 1608.3,1403.1 1607.8,1400.7 1607.3,1398.3 1606.7,1395.8 1606.2,1393.4 1605.7,1390.9 1605.2,1388.5 1604.7,1386.0 1604.3,1383.6 1603.9,1381.1 1603.5,1378.6 1603.1,1376.2 1602.7,1373.7 1602.3,1371.2 1601.9,1368.8 1601.6,1366.3 1601.2,1363.8 1600.9,1361.3 1600.5,1358.8 1600.2,1356.4 1599.8,1353.9 1599.5,1351.4 1599.1,1348.9 1598.7,1346.5 1598.4,1344.0 1598.0,1341.5 1597.6,1339.0 1597.2,1336.6 1596.8,1334.1 1596.4,1331.6 1596.0,1329.2 1595.6,1326.7 1595.2,1324.2 1594.8,1321.8 1594.4,1319.3 1594.0,1316.8 1593.6,1314.4 1593.2,1311.9 1592.8,1309.4 1592.4,1307.0 1592.1,1304.5 1591.7,1302.0 1591.3,1299.5 1591.0,1297.1 1590.7,1294.6 1590.3,1292.1 1590.0,1289.6 1589.7,1287.2 1589.4,1284.7 1589.1,1282.2 1588.8,1279.7 1588.5,1277.2 1588.2,1274.8 1587.9,1272.3 1587.6,1269.8 1587.3,1267.3 1587.0,1264.8 1586.7,1262.3 1586.3,1259.9 1586.0,1257.4 1585.7,1254.9 1585.4,1252.4 1585.1,1249.9 1584.8,1247.5 1584.5,1245.0 1584.1,1242.5 1583.8,1240.0 1583.5,1237.5 1583.2,1235.1 1582.9,1232.6 1582.6,1230.1 1582.3,1227.6 1581.9,1225.1 1581.6,1222.7 1581.3,1220.2 1581.0,1217.7 1580.7,1215.2 1580.4,1212.7 1580.2,1210.2 1579.9,1207.8 1579.6,1205.3 1579.3,1202.8 1579.0,1200.3 1578.8,1197.8 1578.5,1195.3 1578.3,1192.8 1578.0,1190.4 1577.8,1187.9 1577.5,1185.4 1577.3,1182.9 1577.1,1180.4 1576.8,1177.9 1576.6,1175.4 1576.4,1172.9 1576.1,1170.4 1575.9,1168.0 1575.7,1165.5 1575.4,1163.0 1575.2,1160.5 1574.9,1158.0 1574.7,1155.5 1574.4,1153.0 1574.1,1150.5 1573.8,1148.1 1573.6,1145.6 1573.3,1143.1 1573.0,1140.6 1572.6,1138.1 1572.3,1135.7 1572.0,1133.2 1571.7,1130.7 1571.3,1128.2 1571.0,1125.7 1570.7,1123.3 1570.3,1120.8 1570.0,1118.3 1569.6,1115.8 1569.3,1113.4 1568.9,1110.9 1568.6,1108.4 1568.2,1105.9 1567.9,1103.5 1567.5,1101.0 1567.2,1098.5 1566.9,1096.0 1566.5,1093.6 1566.2,1091.1 1565.9,1088.6 1565.6,1086.1 1565.3,1083.6 1565.0,1081.1 1564.7,1078.7 1564.4,1076.2 1564.1,1073.7 1563.8,1071.2 1563.5,1068.7 1563.2,1066.2 1562.9,1063.8 1562.6,1061.3 1562.3,1058.8 1562.0,1056.3 1561.7,1053.8 1561.4,1051.3 1561.1,1048.9 1560.7,1046.4 1560.4,1043.9 1560.0,1041.4 1559.7,1039.0 1559.3,1036.5 1558.9,1034.0 1558.5,1031.6 1558.0,1029.1 1557.5,1026.7 1557.0,1024.2 1556.5,1021.8 1556.0,1019.3 1555.4,1016.9 1554.9,1014.4 1554.4,1012.0 1553.8,1009.6 1553.3,1007.1 1552.9,1004.7 1552.4,1002.2 1552.0,999.7 1551.5,997.3 1551.1,994.8 1550.8,992.3 1550.4,989.9 1550.0,987.4 1549.6,984.9 1549.3,982.4 1548.9,980.0 1548.6,977.5 1548.2,975.0 1547.9,972.5 1547.5,970.1 1547.2,967.6 1546.8,965.1 1546.5,962.6 1546.1,960.2 1545.7,957.7 1545.4,955.2 1545.0,952.7 1544.6,950.3 1544.3,947.8 1543.9,945.3 1543.6,942.8 1543.2,940.4 1542.8,937.9 1542.5,935.4 1542.1,933.0 1541.8,930.5 1541.4,928.0 1541.0,925.5 1540.7,923.1 1540.3,920.6 1539.9,918.1 1539.6,915.6 1539.2,913.2 1538.8,910.7 1538.4,908.2 1538.0,905.8 1537.7,903.3 1537.3,900.8 1536.9,898.4 1536.5,895.9 1536.1,893.4 1535.7,890.9 1535.3,888.5 1534.9,886.0 1534.5,883.5 1534.1,881.1 1533.7,878.6 1533.3,876.1 1532.9,873.7 1532.5,871.2 1532.1,868.7 1531.6,866.3 1531.2,863.8 1530.8,861.3 1530.4,858.9 1530.0,856.4 1529.5,854.0 1529.1,851.5 1528.6,849.0 1528.2,846.6 1527.7,844.1 1527.3,841.7 1526.8,839.2 1526.4,836.7 1525.9,834.3 1525.4,831.8 1525.0,829.4 1524.5,826.9 1524.0,824.5 1523.5,822.0 1523.0,819.6 1522.6,817.1 1522.1,814.7 1521.6,812.2 1521.1,809.8 1520.6,807.3 1520.1,804.9 1519.5,802.4 1519.0,800.0 1518.5,797.5 1518.0,795.1 1517.5,792.6 1517.0,790.2 1516.4,787.7 1515.9,785.3 1515.4,782.9 1514.8,780.4 1514.3,778.0 1513.7,775.5 1513.2,773.1 1512.6,770.6 1512.1,768.2 1511.5,765.8 1511.0,763.3 1510.4,760.9 1509.8,758.5 1509.2,756.0 1508.7,753.6 1508.1,751.2 1507.5,748.7 1506.9,746.3 1506.3,743.9 1505.6,741.5 1505.0,739.0 1504.4,736.6 1503.8,734.2 1503.1,731.8 1502.5,729.4 1501.8,727.0 1501.1,724.6 1500.5,722.2 1499.8,719.7 1499.1,717.3 1498.4,714.9 1497.7,712.5 1497.0,710.1 1496.3,707.7 1495.6,705.3 1494.8,702.9 1494.1,700.5 1493.4,698.2 1492.6,695.8 1491.9,693.4 1491.1,691.0 1490.3,688.6 1489.5,686.3 1488.7,683.9 1487.9,681.5 1487.1,679.2 1486.3,676.8 1485.4,674.5 1484.6,672.1 1483.7,669.8 1482.8,667.5 1481.9,665.1 1481.0,662.8 1480.1,660.5 1479.1,658.2 1478.2,655.8 1477.2,653.5 1476.3,651.2 1475.3,648.9 1474.3,646.6 1473.4,644.3 1472.4,642.0 1471.4,639.7 1470.4,637.4 1469.4,635.1 1468.4,632.8 1467.4,630.5 1466.4,628.3 1465.3,626.0 1464.3,623.7 1463.2,621.4 1462.2,619.2 1461.1,616.9 1460.1,614.6 1459.0,612.4 1458.0,610.1 1457.0,607.8 1455.9,605.5 1454.9,603.2 1453.9,600.9 1452.9,598.7 1451.9,596.4 1450.9,594.1 1449.9,591.8 1448.9,589.5 1447.9,587.2 1446.9,584.9 1445.8,582.6 1444.8,580.3 1443.8,578.0 1442.8,575.7 1441.9,573.4 1440.9,571.1 1439.9,568.8 1439.0,566.5 1438.0,564.2 1437.1,561.8 1436.2,559.5 1435.3,557.2 1434.4,554.9 1433.6,552.5 1432.7,550.2 1431.9,547.8 1431.1,545.5 1430.4,543.1 1429.6,540.7 1428.9,538.3 1428.1,536.0 1427.4,533.6 1426.7,531.2 1426.0,528.8 1425.3,526.4 1424.6,524.0 1424.0,521.5 1423.3,519.1 1422.6,516.7 1422.0,514.3 1421.3,511.9 1420.7,509.5 1420.0,507.0 1419.4,504.6 1418.7,502.2 1418.1,499.8 1417.5,497.4 1416.8,494.9 1416.2,492.5 1415.5,490.1 1414.9,487.7 1414.3,485.3 1413.7,482.8 1413.0,480.4 1412.4,478.0 1411.8,475.6 1411.2,473.2 1410.6,470.7 1410.0,468.3 1409.4,465.9 1408.8,463.4 1408.2,461.0 1407.6,458.6 1407.0,456.2 1406.4,453.7 1405.8,451.3 1405.2,448.9 1404.6,446.4 1404.0,444.0 1403.4,441.6 1402.8,439.2 1402.2,436.7 1401.6,434.3 1401.0,431.9 1400.4,429.5 1399.8,427.0 1399.2,424.6 1398.7,422.2 1398.1,419.7 1397.5,417.3 1396.9,414.9 1396.3,412.4 1395.7,410.0 1395.2,407.6 1394.6,405.1 1394.0,402.7 1393.4,400.3 1392.8,397.9 1392.2,395.4 1391.6,393.0 1390.9,390.6 1390.3,388.2 1389.7,385.8 1389.0,383.3 1388.4,380.9 1387.7,378.5 1387.0,376.1 1386.3,373.7 1385.6,371.3 1384.9,368.9 1384.2,366.5 1383.4,364.1 1382.7,361.8 1381.9,359.4 1381.1,357.0 1380.4,354.6 1379.6,352.2 1378.8,349.9 1378.0,347.5 1377.2,345.1 1376.3,342.8 1375.5,340.4 1374.6,338.1 1373.7,335.7 1372.8,333.4 1371.9,331.1 1371.0,328.8 1370.0,326.5 1369.0,324.2 1368.0,321.9 1366.9,319.6 1365.9,317.4 1364.9,315.1 1364.0,312.7 1363.0,310.4 1362.1,308.1 1361.2,305.8 1360.4,303.4 1359.5,301.1 1358.6,298.7 1357.8,296.4 1356.9,294.0 1356.1,291.7 1355.2,289.3 1354.4,287.0 1353.5,284.6 1352.7,282.3 1351.9,279.9 1351.0,277.6 1350.2,275.2 1349.3,272.9 1348.5,270.5 1347.6,268.2 1346.7,265.8 1345.9,263.5 1345.0,261.1 1344.2,258.7 1343.3,256.4 1342.5,254.0 1341.6,251.7 1340.8,249.3 1339.9,247.0 1339.1,244.6 1338.2,242.3 1337.3,240.0 1336.3,237.6 1335.4,235.3 1334.4,233.0 1333.4,230.8 1332.4,228.5 1331.3,226.2 1330.2,224.0 1329.0,221.8 1327.8,219.6 1326.5,217.4 1325.2,215.3 1323.7,213.2 1322.2,211.3 1320.6,209.5 1322.3,211.2 1320.5,209.5 1318.6,207.8 1316.6,206.2 1314.7,204.6 1312.8,203.0 1310.8,201.5 1308.7,200.0 1306.7,198.6 1304.6,197.2 1302.5,195.8 1300.4,194.5 1298.3,193.1 1296.2,191.8 1294.1,190.5 1291.9,189.2 1289.7,188.0 1287.6,186.7 1285.4,185.5 1283.2,184.3 1281.0,183.1 1278.8,182.0 1276.6,180.8 1274.3,179.7 1272.1,178.6 1269.8,177.5 1267.6,176.4 1265.3,175.4 1263.0,174.4 1260.7,173.4 1258.4,172.4 1256.1,171.4 1253.8,170.5 1251.5,169.6 1249.1,168.7 1246.8,167.8 1244.4,167.0 1242.1,166.1 1239.7,165.3 1237.3,164.5 1235.0,163.7 1232.6,162.9 1230.2,162.1 1227.9,161.3 1225.5,160.6 1223.1,159.8 1220.7,159.0 1218.3,158.3 1215.9,157.5 1213.5,156.8 1211.1,156.1 1208.7,155.4 1206.3,154.7 1203.9,154.1 1201.5,153.4 1199.1,152.8 1196.7,152.2 1194.3,151.6 1191.8,151.0 1189.4,150.4 1187.0,149.9 1184.5,149.3 1182.1,148.8 1179.6,148.2 1177.2,147.7 1174.7,147.2 1172.3,146.7 1169.9,146.1 1167.4,145.6 1165.0,145.1 1162.5,144.6 1160.1,144.0 1157.6,143.5 1155.2,142.9 1152.8,142.3 1150.3,141.7 1147.9,141.1 1145.5,140.5 1143.0,139.9 1140.6,139.3 1138.1,138.7 1135.7,138.1 1133.3,137.5 1130.8,136.9 1128.4,136.4 1126.0,135.8 1123.5,135.2 1121.1,134.7 1118.6,134.1 1116.2,133.6 1113.8,133.1 1111.3,132.6 1108.9,132.2 1106.4,131.8 1103.9,131.4 1101.5,131.0 1099.0,130.7 1096.6,130.3 1094.1,130.0 1091.6,129.7 1089.2,129.4 1086.7,129.0 1084.2,128.7 1081.7,128.4 1079.3,128.1 1076.8,127.8 1074.3,127.5 1071.8,127.2 1069.3,126.9 1066.8,126.6 1064.4,126.3 1061.9,126.0 1059.4,125.7 1056.9,125.4 1054.4,125.1 1051.9,124.9 1049.4,124.6 1046.9,124.4 1044.4,124.1 1041.9,123.9 1039.4,123.6 1036.9,123.4 1034.4,123.2 1031.9,122.9 1029.4,122.7 1026.9,122.5 1024.4,122.3 1021.9,122.1 1019.4,122.0 1016.9,121.8 1014.5,121.6 1012.0,121.5 1009.5,121.3 1007.0,121.2 1004.5,121.0 1002.0,120.9 999.5,120.8 997.0,120.7 994.5,120.6 992.0,120.5 989.5,120.5 987.0,120.4 984.5,120.4 982.0,120.3 979.5,120.3 977.0,120.2 974.5,120.2 972.0,120.1 969.5,120.1 967.0,120.0 964.5,120.0 962.0,119.9 959.5,119.9 957.0,119.9 954.5,119.8 952.1,119.8 949.6,119.7 947.1,119.7 944.6,119.6 942.1,119.6 939.6,119.6 937.1,119.5 934.6,119.5 932.1,119.4 929.6,119.4 927.1,119.3 924.6,119.3 922.1,119.3 919.6,119.2 917.1,119.2 914.6,119.2 912.1,119.1 909.6,119.1 907.1,119.0 904.6,119.0 902.1,119.0 899.6,118.9 897.1,118.9 894.6,118.9 892.1,118.8 889.6,118.8 887.1,118.8 884.6,118.7 882.1,118.7 879.6,118.7 877.1,118.6 874.6,118.6 872.1,118.6 869.6,118.5 867.1,118.5 864.6,118.5 862.1,118.4 859.6,118.4 857.1,118.4 854.6,118.3 852.1,118.3 849.6,118.3 847.1,118.3 844.6,118.2 842.1,118.2 839.6,118.2 837.1,118.1 834.6,118.1 832.1,118.1 829.6,118.1 827.1,118.0 824.6,118.0 822.1,118.0 819.6,118.0 817.1,117.9 814.6,117.9 812.1,117.9 809.6,117.9 807.1,117.8 804.6,117.8 802.1,117.8 799.6,117.8 797.1,117.7 794.6,117.7 792.1,117.7 789.6,117.7 787.1,117.7 784.6,117.6 782.1,117.6 779.6,117.6 777.1,117.6 774.6,117.6 772.1,117.5 769.6,117.5 767.1,117.5 764.6,117.5 762.1,117.5 759.6,117.5 757.1,117.4 754.6,117.4 752.1,117.4 749.6,117.4 747.1,117.4 744.6,117.4 742.1,117.3 739.6,117.3 737.1,117.3 734.6,117.3 732.1,117.3 729.6,117.3 727.0,117.3 724.5,117.3 722.0,117.2 719.5,117.2 717.0,117.2 714.5,117.2 712.0,117.2 709.5,117.2 707.0,117.2 704.5,117.2 702.0,117.2 699.5,117.1 697.0,117.1 694.5,117.1 692.0,117.1 689.5,117.1 687.0,117.1 684.5,117.1 682.0,117.1 679.5,117.1 677.0,117.1 674.5,117.1 672.0,117.1 669.5,117.1 667.0,117.1 664.5,117.0 662.0,117.0 659.5,117.0 657.0,117.0 654.5,117.0 652.0,117.0 649.5,117.0 647.0,117.0 644.5,117.0 642.0,117.0 639.5,117.0 637.0,117.0 634.5,117.0 632.0,117.0 629.5,117.0 627.0,117.0 624.5,117.0 622.0,117.0 619.5,117.0 617.0,117.0 614.5,117.0 612.0,117.0 609.5,117.0 607.0,117.0 604.5,117.0 602.0,117.0 599.5,117.0 597.0,117.0 594.5,117.0 592.0,117.0 589.5,117.0 587.0,117.0 584.5,117.0 582.0,117.0 579.5,117.0 577.0,117.0 574.5,117.0 572.0,117.0 569.5,117.0 567.0,117.0 564.5,117.0 562.0,117.0 559.5,117.0 557.0,117.0 554.5,117.0 552.0,117.0 549.5,117.0 547.0,117.0 544.5,117.0 542.0,117.0 539.5,117.0 537.0,117.0 534.5,117.0 532.0,117.0 529.5,117.0 527.0,117.0 524.5,117.0 522.0,117.0 519.5,117.0 517.0,117.0 514.5,117.0 512.0,117.0 509.5,117.0 507.0,117.0 504.5,117.0 502.0,117.0 499.5,117.0 497.0,117.0 494.5,117.0 492.0,117.0 489.5,117.0 487.0,117.0 484.5,117.0 482.0,117.0 479.5,117.0 477.0,117.0 474.5,117.0 472.0,117.0 469.5,117.0 467.0,117.0 464.5,117.0 462.0,117.0 459.5,117.0 457.0,117.0 454.5,117.0 452.0,117.0 449.5,117.0 447.0,117.0 444.5,117.0 442.0,117.0 439.5,117.0 437.0,117.0 434.5,117.0 432.0,117.0 429.5,117.0 427.0,117.0 424.5,117.0 422.0,117.0 419.5,117.0 417.0,117.0 414.5,117.0 412.0,117.0 409.5,117.0 407.0,117.0 404.5,117.0 402.0,117.0 399.5,117.0 397.0,117.0 394.5,117.0z"/>
<path fill="#ff00ff" d="M394.5,110.0 397.0,110.0 399.5,110.0 402.0,110.0 404.5,110.0 407.0,110.0 409.5,110.0 412.0,110.0 414.5,110.0 417.0,110.0 419.5,110.0 422.0,110.0 424.5,110.0 427.0,110.0 429.5,110.0 432.0,110.0 434.5,110.0 437.0,110.0 439.5,110.0 442.0,110.0 444.5,110.0 447.0,110.0 449.5,110.0 452.0,110.0 454.5,110.0 457.0,110.0 459.5,110.0 462.0,110.0 464.5,110.0 467.0,110.0 469.5,110.0 472.0,110.0 474.5,110.0 477.0,110.0 479.5,110.0 482.0,110.0 484.5,110.0 487.0,110.0 489.5,110.0 492.0,110.0 494.5,110.0 497.0,110.0 499.5,110.0 502.0,110.0 504.5,110.0 507.0,110.0 509.5,110.0 512.0,110.0 514.5,110.0 517.0,110.0 519.5,110.0 522.0,110.0 524.5,110.0 527.0,110.0 529.5,110.0 532.0,110.0 534.5,110.0 537.0,110.0 539.5,110.0 542.0,110.0 544.5,110.0 547.0,110.0 549.5,110.0 552.0,110.0 554.5,110.0 557.0,110.0 559.5,110.0 562.0,110.0 564.5,110.0 567.0,110.0 569.5,110.0 572.0,110.0 574.5,110.0 577.0,110.0 579.5,110.0 582.0,110.0 584.5,110.0 587.0,110.0 589.5,110.0 592.0,110.0 594.5,110.0 597.0,110.0 599.5,110.0 602.0,110.0 604.5,110.0 607.0,110.0 609.5,110.0 612.0,110.0 614.5,110.0 617.0,110.0 619.5,110.0 622.0,110.0 624.5,110.0 627.0,110.0 629.5,110.0 632.0,110.0 634.5,110.0 637.0,110.0 639.5,110.0 642.0,110.0 644.5,110.0 647.0,110.0 649.5,110.0 652.0,110.0 654.5,110.0 657.0,110.0 659.5,110.0 662.0,110.0 664.5,110.0 667.0,110.0 669.5,110.0 672.0,110.0 674.5,110.0 677.0,110.0 679.5,110.0 682.0,110.0 684.5,110.0 687.0,110.0 689.5,110.0 692.0,110.0 694.5,110.0 697.0,110.0 699.5,110.0 702.0,110.0 704.5,110.0 707.0,110.0 709.5,110.0 712.0,110.0 714.5,110.0 717.0,110.0 719.5,110.0 722.0,110.0 724.5,110.0 727.0,110.0 729.5,110.0 732.0,110.0 734.5,110.0 737.0,110.0 739.5,110.0 742.0,110.0 744.5,110.0 747.0,110.0 749.5,110.0 752.0,110.0 754.5,110.0 757.0,110.0 759.5,110.0 762.0,110.0 764.5,110.0 767.0,110.0 769.5,110.0 772.0,110.0 774.5,110.0 777.0,110.0 779.5,110.0 782.0,110.0 784.5,110.0 787.0,110.0 789.5,110.0 792.0,110.0 794.5,110.0 797.0,110.0 799.5,110.0 802.0,110.0 804.5,110.0 807.0,110.0 809.5,110.0 812.0,110.0 814.5,110.0 817.0,110.0 819.5,110.0 822.0,110.0 824.5,110.0 827.0,110.0 829.5,110.0 832.0,110.0 834.5,110.0 837.0,110.0 839.5,110.0 842.0,110.0 844.5,110.0 847.0,110.0 849.5,110.0 852.0,110.0 854.5,110.0 857.0,110.0 859.5,110.0 862.0,110.0 864.5,110.0 867.0,110.0 869.5,110.0 872.0,110.0 874.5,110.0 877.0,110.0 879.5,110.0 882.0,110.1 884.5,110.1 887.0,110.1 889.5,110.1 892.0,110.1 894.5,110.1 897.0,110.1 899.5,110.1 902.0,110.1 904.5,110.1 907.0,110.2 909.5,110.2 912.0,110.2 914.5,110.2 917.0,110.2 919.5,110.2 922.0,110.3 924.5,110.3 927.0,110.3 929.5,110.3 932.0,110.3 934.5,110.3 937.0,110.4 939.5,110.4 942.0,110.4 944.5,110.4 947.0,110.4 949.5,110.5 952.0,110.5 954.5,110.5 957.0,110.5 959.5,110.6 962.0,110.6 964.5,110.6 967.0,110.6 969.5,110.7 972.0,110.7 974.5,110.7 977.0,110.7 979.5,110.8 982.0,110.8 984.5,110.8 987.0,110.8 989.5,110.9 992.0,110.9 994.5,110.9 997.0,111.0 999.5,111.0 1002.0,111.0 1004.5,111.1 1007.0,111.1 1009.5,111.1 1012.0,111.2 1014.5,111.2 1017.0,111.3 1019.5,111.4 1022.0,111.4 1024.5,111.5 1027.0,111.6 1029.5,111.7 1032.0,111.7 1034.5,111.8 1037.0,111.9 1039.5,112.0 1042.0,112.1 1044.5,112.2 1047.0,112.3 1049.5,112.4 1052.0,112.5 1054.5,112.6 1057.0,112.7 1059.5,112.8 1062.0,112.9 1064.5,113.1 1067.0,113.2 1069.5,113.3 1072.0,113.4 1074.5,113.6 1077.0,113.7 1079.5,113.8 1082.0,114.0 1084.5,114.1 1087.0,114.2 1089.4,114.4 1091.9,114.5 1094.4,114.7 1096.9,114.8 1099.4,115.0 1101.9,115.1 1104.4,115.3 1106.9,115.4 1109.4,115.6 1111.9,115.8 1114.4,116.0 1116.8,116.2 1119.3,116.4 1121.8,116.7 1124.3,116.9 1126.8,117.1 1129.3,117.4 1131.8,117.6 1134.3,117.9 1136.8,118.2 1139.2,118.5 1141.7,118.7 1144.2,119.0 1146.7,119.3 1149.2,119.6 1151.7,119.9 1154.2,120.2 1156.6,120.6 1159.1,120.9 1161.6,121.2 1164.1,121.5 1166.6,121.8 1169.0,122.2 1171.5,122.5 1174.0,122.9 1176.5,123.2 1179.0,123.5 1181.4,123.9 1183.9,124.2 1186.4,124.6 1188.9,124.9 1191.3,125.3 1193.8,125.6 1196.3,126.0 1198.8,126.3 1201.2,126.7 1203.7,127.0 1206.2,127.4 1208.7,127.8 1211.1,128.2 1213.6,128.6 1216.1,129.0 1218.5,129.4 1221.0,129.9 1223.4,130.4 1225.9,130.9 1228.3,131.5 1230.7,132.2 1233.1,132.8 1235.5,133.5 1237.9,134.2 1240.4,134.9 1242.8,135.6 1245.2,136.3 1247.5,137.0 1250.0,137.7 1252.4,138.4 1254.8,139.0 1257.2,139.5 1259.7,139.9 1262.1,140.3 1264.6,140.8 1267.1,141.1 1269.6,141.5 1272.0,142.0 1274.5,142.4 1276.9,142.9 1279.4,143.3 1281.9,143.8 1284.3,144.3 1286.8,144.8 1289.2,145.4 1291.6,145.9 1294.1,146.5 1296.5,147.1 1298.9,147.8 1301.3,148.5 1303.7,149.2 1306.1,149.9 1308.5,150.6 1310.9,151.3 1313.3,151.9 1315.8,152.6 1318.2,153.2 1320.6,153.8 1323.1,154.4 1325.5,155.1 1327.9,155.7 1330.3,156.4 1332.7,157.1 1335.0,157.9 1337.4,158.7 1339.7,159.6 1342.0,160.5 1344.3,161.6 1346.6,162.6 1348.8,163.7 1351.0,164.9 1353.3,166.1 1355.5,167.3 1357.6,168.6 1359.8,169.8 1361.9,171.1 1364.1,172.4 1366.2,173.7 1368.3,175.1 1370.5,176.6 1372.5,178.0 1374.5,179.6 1376.5,181.1 1378.3,182.7 1383.5,187.9 1385.2,189.7 1386.8,191.6 1388.3,193.5 1389.8,195.5 1391.3,197.6 1392.7,199.7 1394.1,201.8 1395.4,204.0 1396.8,206.1 1398.1,208.3 1399.4,210.4 1400.7,212.5 1402.0,214.7 1403.2,216.9 1404.4,219.0 1405.7,221.2 1406.9,223.4 1408.0,225.6 1409.2,227.9 1410.3,230.1 1411.5,232.3 1412.6,234.5 1413.7,236.8 1414.8,239.0 1415.9,241.2 1417.0,243.5 1418.1,245.8 1419.2,248.0 1420.2,250.3 1421.2,252.6 1422.3,254.9 1423.3,257.1 1424.3,259.4 1425.3,261.7 1426.3,264.0 1427.3,266.3 1428.3,268.6 1429.3,270.9 1430.2,273.2 1431.2,275.5 1432.1,277.8 1433.0,280.2 1434.0,282.5 1434.9,284.8 1435.8,287.1 1436.7,289.5 1437.6,291.8 1438.5,294.1 1439.4,296.5 1440.2,298.8 1441.1,301.2 1441.8,303.6 1442.6,305.9 1443.3,308.3 1444.0,310.7 1444.7,313.1 1445.4,315.6 1446.0,318.0 1446.7,320.4 1447.5,322.8 1448.2,325.1 1449.1,327.5 1450.0,329.8 1451.0,332.1 1451.9,334.4 1452.8,336.8 1453.6,339.1 1454.4,341.5 1455.1,343.9 1455.9,346.3 1456.6,348.7 1457.3,351.1 1457.9,353.5 1458.6,355.9 1459.2,358.3 1459.8,360.7 1460.5,363.2 1461.1,365.6 1461.7,368.0 1462.3,370.4 1462.9,372.9 1463.6,375.3 1464.2,377.7 1464.8,380.1 1465.4,382.6 1466.0,385.0 1466.6,387.4 1467.2,389.8 1467.8,392.3 1468.4,394.7 1469.0,397.1 1469.5,399.6 1470.1,402.0 1470.7,404.4 1471.3,406.9 1471.8,409.3 1472.4,411.7 1473.0,414.2 1473.5,416.6 1474.0,419.1 1474.6,421.5 1475.1,423.9 1475.7,426.4 1476.2,428.8 1476.8,431.2 1477.4,433.7 1478.0,436.1 1478.7,438.5 1479.4,440.9 1480.1,443.3 1480.9,445.7 1481.6,448.1 1482.4,450.4 1483.2,452.8 1484.0,455.2 1484.8,457.6 1485.6,459.9 1486.4,462.3 1487.2,464.7 1488.0,467.0 1488.9,469.4 1489.7,471.7 1490.6,474.1 1491.4,476.4 1492.3,478.8 1493.2,481.1 1494.0,483.4 1494.9,485.8 1495.8,488.1 1496.8,490.4 1497.7,492.8 1498.6,495.1 1499.5,497.4 1500.4,499.7 1501.3,502.1 1502.1,504.5 1502.9,506.8 1503.7,509.2 1504.5,511.6 1505.4,513.9 1506.2,516.3 1507.1,518.6 1508.0,521.0 1508.9,523.3 1509.9,525.5 1511.0,527.8 1512.0,530.0 1513.2,532.3 1514.3,534.5 1515.5,536.7 1516.7,538.9 1517.9,541.1 1519.1,543.3 1520.3,545.5 1521.5,547.7 1522.7,549.9 1523.9,552.1 1525.1,554.3 1526.3,556.5 1527.5,558.7 1528.7,560.9 1529.9,563.1 1531.1,565.3 1532.3,567.5 1533.4,569.7 1534.5,571.9 1535.7,574.2 1536.8,576.4 1537.8,578.6 1538.9,580.9 1540.0,583.2 1541.1,585.4 1542.2,587.7 1543.3,589.9 1544.4,592.2 1545.5,594.4 1546.6,596.6 1547.7,598.9 1548.8,601.1 1549.9,603.4 1551.0,605.6 1552.2,607.8 1553.3,610.1 1554.4,612.3 1555.5,614.5 1556.7,616.7 1557.9,618.9 1559.1,621.1 1560.3,623.3 1561.5,625.5 1562.7,627.7 1563.9,629.9 1565.0,632.1 1566.2,634.4 1567.3,636.6 1568.3,638.9 1569.3,641.2 1570.3,643.5 1571.2,645.8 1572.1,648.1 1573.0,650.4 1573.9,652.8 1574.8,655.1 1575.7,657.5 1576.6,659.8 1577.5,662.1 1578.5,664.4 1579.4,666.7 1580.4,669.1 1581.3,671.4 1582.3,673.7 1583.2,676.0 1584.1,678.3 1585.0,680.7 1585.9,683.0 1586.8,685.3 1587.6,687.7 1588.3,690.1 1589.1,692.5 1589.9,694.9 1590.6,697.2 1591.5,699.6 1592.3,701.9 1593.2,704.3 1594.1,706.6 1595.0,708.9 1596.0,711.2 1596.9,713.5 1597.9,715.9 1598.9,718.2 1599.9,720.5 1600.8,722.8 1601.8,725.1 1602.7,727.4 1603.7,729.7 1604.6,732.0 1605.5,734.4 1606.3,736.7 1607.1,739.1 1608.0,741.4 1608.8,743.8 1609.6,746.2 1610.4,748.5 1611.2,750.9 1611.9,753.3 1612.7,755.7 1613.5,758.0 1614.2,760.4 1615.0,762.8 1615.7,765.2 1616.5,767.6 1617.2,770.0 1618.0,772.4 1618.7,774.8 1619.4,777.2 1620.1,779.6 1620.8,782.0 1621.5,784.4 1622.2,786.8 1622.9,789.2 1623.6,791.6 1624.3,794.0 1625.0,796.4 1625.7,798.8 1626.3,801.2 1627.0,803.6 1627.7,806.0 1628.3,808.4 1629.0,810.8 1629.6,813.2 1630.2,815.7 1630.9,818.1 1631.5,820.5 1632.1,822.9 1632.8,825.3 1633.4,827.8 1634.0,830.2 1634.6,832.6 1635.3,835.0 1635.9,837.4 1636.5,839.9 1637.2,842.3 1637.8,844.7 1638.4,847.1 1639.1,849.5 1639.7,852.0 1640.4,854.4 1641.1,856.8 1641.7,859.2 1642.4,861.6 1643.0,864.0 1643.7,866.4 1644.4,868.8 1645.0,871.2 1645.7,873.7 1646.4,876.1 1647.0,878.5 1647.7,880.9 1648.3,883.3 1649.0,885.7 1649.6,888.1 1650.2,890.6 1650.9,893.0 1651.5,895.4 1652.1,897.8 1652.7,900.2 1653.3,902.7 1653.9,905.1 1654.4,907.5 1655.0,910.0 1655.6,912.4 1656.1,914.8 1656.6,917.3 1657.2,919.7 1657.7,922.2 1658.3,924.6 1658.8,927.1 1659.3,929.5 1659.8,931.9 1660.3,934.4 1660.9,936.8 1661.4,939.3 1661.9,941.7 1662.4,944.2 1662.9,946.6 1663.4,949.1 1663.9,951.5 1664.4,954.0 1665.0,956.4 1665.5,958.9 1666.0,961.3 1666.5,963.8 1667.0,966.2 1667.5,968.7 1668.0,971.1 1668.5,973.6 1669.0,976.0 1669.5,978.5 1670.0,980.9 1670.5,983.4 1671.0,985.8 1671.5,988.3 1672.0,990.7 1672.5,993.1 1673.1,995.6 1673.6,998.0 1674.1,1000.5 1674.6,1002.9 1675.2,1005.4 1675.7,1007.8 1676.3,1010.2 1676.8,1012.7 1677.4,1015.1 1678.0,1017.5 1678.5,1020.0 1679.1,1022.4 1679.7,1024.9 1680.2,1027.3 1680.8,1029.7 1681.3,1032.2 1681.8,1034.6 1682.3,1037.1 1682.9,1039.5 1683.4,1042.0 1683.9,1044.4 1684.4,1046.9 1684.8,1049.3 1685.3,1051.8 1685.8,1054.2 1686.3,1056.7 1686.8,1059.1 1687.2,1061.6 1687.7,1064.0 1688.2,1066.5 1688.7,1068.9 1689.1,1071.4 1689.6,1073.9 1690.1,1076.3 1690.6,1078.8 1691.1,1081.2 1691.5,1083.7 1692.0,1086.1 1692.5,1088.6 1693.0,1091.0 1693.5,1093.5 1694.1,1095.9 1694.6,1098.4 1695.1,1100.8 1695.6,1103.2 1696.1,1105.7 1696.7,1108.1 1697.2,1110.6 1697.7,1113.0 1698.2,1115.5 1698.8,1117.9 1699.3,1120.4 1699.8,1122.8 1700.4,1125.2 1700.9,1127.7 1701.5,1130.1 1702.0,1132.6 1702.5,1135.0 1703.1,1137.4 1703.6,1139.9 1704.1,1142.3 1704.7,1144.8 1705.2,1147.2 1705.7,1149.7 1706.3,1152.1 1706.8,1154.5 1707.3,1157.0 1707.8,1159.4 1708.4,1161.9 1708.9,1164.3 1709.4,1166.8 1710.0,1169.2 1710.5,1171.7 1711.0,1174.1 1711.5,1176.5 1712.1,1179.0 1712.6,1181.4 1713.1,1183.9 1713.7,1186.3 1714.2,1188.8 1714.7,1191.2 1715.3,1193.6 1715.8,1196.1 1716.4,1198.5 1716.9,1201.0 1717.5,1203.4 1718.0,1205.8 1718.6,1208.3 1719.1,1210.7 1719.7,1213.1 1720.2,1215.6 1720.8,1218.0 1721.4,1220.4 1721.9,1222.9 1722.5,1225.3 1723.1,1227.8 1723.7,1230.2 1724.2,1232.6 1724.8,1235.1 1725.4,1237.5 1725.9,1239.9 1726.5,1242.4 1727.1,1244.8 1727.7,1247.2 1728.2,1249.7 1728.8,1252.1 1729.4,1254.5 1729.9,1257.0 1730.5,1259.4 1731.0,1261.8 1731.6,1264.3 1732.1,1266.7 1732.7,1269.2 1733.2,1271.6 1733.8,1274.0 1734.3,1276.5 1734.9,1278.9 1735.4,1281.4 1735.9,1283.8 1736.5,1286.2 1737.0,1288.7 1737.5,1291.1 1738.1,1293.6 1738.6,1296.0 1739.2,1298.4 1739.7,1300.9 1740.3,1303.3 1740.8,1305.8 1741.4,1308.2 1742.0,1310.6 1742.5,1313.1 1743.1,1315.5 1743.7,1317.9 1744.3,1320.4 1744.8,1322.8 1745.4,1325.2 1746.0,1327.7 1746.6,1330.1 1747.2,1332.5 1747.8,1334.9 1748.4,1337.4 1749.0,1339.8 1749.6,1342.2 1750.2,1344.6 1750.8,1347.1 1751.4,1349.5 1752.0,1351.9 1752.7,1354.3 1753.3,1356.8 1753.9,1359.2 1754.5,1361.6 1755.2,1364.0 1755.8,1366.4 1756.4,1368.9 1757.1,1371.3 1757.7,1373.7 1758.3,1376.1 1759.0,1378.5 1759.6,1380.9 1760.3,1383.3 1761.0,1385.8 1761.6,1388.2 1762.3,1390.6 1762.9,1393.0 1763.6,1395.4 1764.3,1397.8 1765.0,1400.2 1765.6,1402.6 1766.3,1405.0 1767.0,1407.4 1767.7,1409.8 1768.4,1412.2 1769.1,1414.6 1769.8,1417.0 1770.5,1419.4 1771.2,1421.8 1771.9,1424.2 1772.7,1426.6 1773.4,1429.0 1774.1,1431.4 1774.9,1433.8 1775.6,1436.2 1776.4,1438.6 1777.1,1440.9 1777.9,1443.3 1778.7,1445.7 1779.5,1448.1 1780.2,1450.4 1781.0,1452.8 1781.8,1455.2 1782.6,1457.6 1783.4,1459.9 1784.2,1462.3 1785.0,1464.7 1785.8,1467.0 1786.6,1469.4 1787.4,1471.8 1788.1,1474.2 1788.9,1476.6 1789.8,1479.0 1790.7,1481.3 1791.7,1483.5 1792.7,1485.9 1793.8,1488.3 1795.1,1490.8 1796.4,1493.2 1797.8,1495.4 1795.8,1493.7 1797.4,1494.9 1799.3,1495.9 1801.4,1496.8 1803.9,1497.6 1806.4,1498.2 1809.1,1498.8 1811.7,1499.2 1814.3,1499.5 1816.8,1499.6 1819.2,1499.7 1821.7,1499.7 1824.2,1499.8 1826.7,1499.9 1829.2,1499.9 1831.8,1499.9 1834.3,1500.0 1836.8,1500.0 1839.3,1500.0 1841.8,1500.0 1844.3,1500.0 1846.8,1500.0 1849.3,1500.0 1851.8,1500.0 1854.3,1500.0 1856.8,1500.0 1859.3,1500.0 1861.8,1500.0 1864.3,1500.0 1866.8,1500.0 1869.3,1500.0 1871.8,1500.0 1874.3,1500.0 1876.8,1500.0 1879.3,1500.0 1881.8,1500.0 1884.3,1500.0 1886.8,1500.0 1889.3,1500.0 1891.8,1500.0 1894.3,1500.0 1896.8,1500.0 1899.3,1500.0 1901.8,1500.0 1904.3,1500.0 1906.8,1500.0 1909.3,1500.0 1911.8,1500.0 1914.3,1500.0 1916.8,1500.0 1919.3,1500.0 1921.8,1500.0 1924.3,1500.0 1926.8,1500.0 1929.3,1500.0 1931.8,1500.0 1934.3,1500.0 1936.8,1500.0 1939.3,1500.0 1941.8,1500.0 1944.3,1500.0 1946.8,1500.0 1949.3,1500.0 1951.8,1500.0 1954.3,1500.0 1956.8,1500.0 1959.3,1500.0 1961.8,1500.0 1964.3,1500.0 1966.8,1500.0 1969.3,1500.0 1971.8,1500.0 1974.3,1500.0 1976.8,1500.0 1979.3,1500.0 1981.8,1500.0 1984.3,1500.0 1986.8,1500.0 1989.3,1500.0 1991.8,1500.0 1994.3,1500.0 1996.8,1500.0 1999.3,1500.0 2001.8,1500.0 2004.3,1500.0 2006.8,1500.0 2009.3,1500.0 2011.8,1500.0 2014.3,1500.0 2016.8,1500.0 2019.3,1500.0 2021.8,1500.0 2024.3,1500.0 2026.8,1500.0 2029.3,1500.0 2031.8,1500.0 2034.3,1500.0 2036.8,1500.0 2039.3,1500.0 2041.8,1500.0 2044.3,1500.0 2046.8,1500.0 2049.3,1500.0 2051.8,1500.0 2054.3,1500.0 2056.8,1500.0 2059.3,1500.0 2061.8,1500.0 2064.3,1500.0 2066.8,1500.0 2069.3,1500.0 2071.8,1500.0 2074.3,1500.0 2076.8,1500.0 2079.3,1500.0 2081.8,1500.0 2084.3,1500.0 2086.8,1500.0 2089.3,1500.0 2091.8,1500.0 2094.3,1500.0 2096.8,1500.0 2099.3,1500.0 2101.8,1500.0 2104.3,1500.0 2106.8,1500.0 2109.3,1500.0 2111.8,1500.0 2114.3,1500.0 2116.8,1500.0 2119.3,1500.0 2121.8,1500.0 2124.3,1500.0 2126.8,1500.0 2129.3,1500.0 2131.8,1500.0 2134.3,1500.0 2136.8,1500.0 2139.3,1500.0 2141.8,1500.0 2144.3,1500.0 2146.8,1500.0 2149.3,1500.0 2150.0,1500.0 2150.0,1507.0 2149.3,1507.0 2146.8,1507.0 2144.3,1507.0 2141.8,1507.0 2139.3,1507.0 2136.8,1507.0 2134.3,1507.0 2131.8,1507.0 2129.3,1507.0 2126.8,1507.0 2124.3,1507.0 2121.8,1507.0 2119.3,1507.0 2116.8,1507.0 2114.3,1507.0 2111.8,1507.0 2109.3,1507.0 2106.8,1507.0 2104.3,1507.0 2101.8,1507.0 2099.3,1507.0 2096.8,1507.0 2094.3,1507.0 2091.8,1507.0 2089.3,1507.0 2086.8,1507.0 2084.3,1507.0 2081.8,1507.0 2079.3,1507.0 2076.8,1507.0 2074.3,1507.0 2071.8,1507.0 2069.3,1507.0 2066.8,1507.0 2064.3,1507.0 2061.8,1507.0 2059.3,1507.0 2056.8,1507.0 2054.3,1507.0 2051.8,1507.0 2049.3,1507.0 2046.8,1507.0 2044.3,1507.0 2041.8,1507.0 2039.3,1507.0 2036.8,1507.0 2034.3,1507.0 2031.8,1507.0 2029.3,1507.0 2026.8,1507.0 2024.3,1507.0 2021.8,1507.0 2019.3,1507.0 2016.8,1507.0 2014.3,1507.0 2011.8,1507.0 2009.3,1507.0 2006.8,1507.0 2004.3,1507.0 2001.8,1507.0 1999.3,1507.0 1996.8,1507.0 1994.3,1507.0 1991.8,1507.0 1989.3,1507.0 1986.8,1507.0 1984.3,1507.0 1981.8,1507.0 1979.3,1507.0 1976.8,1507.0 1974.3,1507.0 1971.8,1507.0 1969.3,1507.0 1966.8,1507.0 1964.3,1507.0 1961.8,1507.0 1959.3,1507.0 1956.8,1507.0 1954.3,1507.0 1951.8,1507.0 1949.3,1507.0 1946.8,1507.0 1944.3,1507.0 1941.8,1507.0 1939.3,1507.0 1936.8,1507.0 1934.3,1507.0 1931.8,1507.0 1929.3,1507.0 1926.8,1507.0 1924.3,1507.0 1921.8,1507.0 1919.3,1507.0 1916.8,1507.0 1914.3,1507.0 1911.8,1507.0 1909.3,1507.0 1906.8,1507.0 1904.3,1507.0 1901.8,1507.0 1899.3,1507.0 1896.8,1507.0 1894.3,1507.0 1891.8,1507.0 1889.3,1507.0 1886.8,1507.0 1884.3,1507.0 1881.8,1507.0 1879.3,1507.0 1876.8,1507.0 1874.3,1507.0 1871.8,1507.0 1869.3,1507.0 1866.8,1507.0 1864.3,1507.0 1861.8,1507.0 1859.3,1507.0 1856.8,1507.0 1854.3,1507.0 1851.8,1507.0 1849.3,1507.0 1846.8,1507.0 1844.3,1507.0 1841.8,1507.0 1839.3,1507.0 1836.8,1507.0 1834.3,1507.0 1831.8,1506.9 1829.2,1506.9 1826.7,1506.9 1824.2,1506.8 1821.7,1506.7 1819.2,1506.7 1816.8,1506.6 1814.3,1506.5 1811.7,1506.2 1809.1,1505.8 1806.4,1505.2 1803.9,1504.6 1801.4,1503.8 1799.3,1502.9 1797.4,1501.9 1795.8,1500.7 1790.8,1495.4 1789.4,1493.2 1788.1,1490.8 1786.8,1488.3 1785.7,1485.9 1784.7,1483.5 1783.7,1481.3 1782.8,1479.0 1781.9,1476.6 1781.1,1474.2 1780.4,1471.8 1779.6,1469.4 1778.8,1467.0 1778.0,1464.7 1777.2,1462.3 1776.4,1459.9 1775.6,1457.6 1774.8,1455.2 1774.0,1452.8 1773.2,1450.4 1772.5,1448.1 1771.7,1445.7 1770.9,1443.3 1770.1,1440.9 1769.4,1438.6 1768.6,1436.2 1767.9,1433.8 1767.1,1431.4 1766.4,1429.0 1765.7,1426.6 1764.9,1424.2 1764.2,1421.8 1763.5,1419.4 1762.8,1417.0 1762.1,1414.6 1761.4,1412.2 1760.7,1409.8 1760.0,1407.4 1759.3,1405.0 1758.6,1402.6 1758.0,1400.2 1757.3,1397.8 1756.6,1395.4 1755.9,1393.0 1755.3,1390.6 1754.6,1388.2 1754.0,1385.8 1753.3,1383.3 1752.6,1380.9 1752.0,1378.5 1751.3,1376.1 1750.7,1373.7 1750.1,1371.3 1749.4,1368.9 1748.8,1366.4 1748.2,1364.0 1747.5,1361.6 1746.9,1359.2 1746.3,1356.8 1745.7,1354.3 1745.0,1351.9 1744.4,1349.5 1743.8,1347.1 1743.2,1344.6 1742.6,1342.2 1742.0,1339.8 1741.4,1337.4 1740.8,1334.9 1740.2,1332.5 1739.6,1330.1 1739.0,1327.7 1738.4,1325.2 1737.8,1322.8 1737.3,1320.4 1736.7,1317.9 1736.1,1315.5 1735.5,1313.1 1735.0,1310.6 1734.4,1308.2 1733.8,1305.8 1733.3,1303.3 1732.7,1300.9 1732.2,1298.4 1731.6,1296.0 1731.1,1293.6 1730.5,1291.1 1730.0,1288.7 1729.5,1286.2 1728.9,1283.8 1728.4,1281.4 1727.9,1278.9 1727.3,1276.5 1726.8,1274.0 1726.2,1271.6 1725.7,1269.2 1725.1,1266.7 1724.6,1264.3 1724.0,1261.8 1723.5,1259.4 1722.9,1257.0 1722.4,1254.5 1721.8,1252.1 1721.2,1249.7 1720.7,1247.2 1720.1,1244.8 1719.5,1242.4 1718.9,1239.9 1718.4,1237.5 1717.8,1235.1 1717.2,1232.6 1716.7,1230.2 1716.1,1227.8 1715.5,1225.3 1714.9,1222.9 1714.4,1220.4 1713.8,1218.0 1713.2,1215.6 1712.7,1213.1 1712.1,1210.7 1711.6,1208.3 1711.0,1205.8 1710.5,1203.4 1709.9,1201.0 1709.4,1198.5 1708.8,1196.1 1708.3,1193.6 1707.7,1191.2 1707.2,1188.8 1706.7,1186.3 1706.1,1183.9 1705.6,1181.4 1705.1,1179.0 1704.5,1176.5 1704.0,1174.1 1703.5,1171.7 1703.0,1169.2 1702.4,1166.8 1701.9,1164.3 1701.4,1161.9 1700.8,1159.4 1700.3,1157.0 1699.8,1154.5 1699.3,1152.1 1698.7,1149.7 1698.2,1147.2 1697.7,1144.8 1697.1,1142.3 1696.6,1139.9 1696.1,1137.4 1695.5,1135.0 1695.0,1132.6 1694.5,1130.1 1693.9,1127.7 1693.4,1125.2 1692.8,1122.8 1692.3,1120.4 1691.8,1117.9 1691.2,1115.5 1690.7,1113.0 1690.2,1110.6 1689.7,1108.1 1689.1,1105.7 1688.6,1103.2 1688.1,1100.8 1687.6,1098.4 1687.1,1095.9 1686.5,1093.5 1686.0,1091.0 1685.5,1088.6 1685.0,1086.1 1684.5,1083.7 1684.1,1081.2 1683.6,1078.8 1683.1,1076.3 1682.6,1073.9 1682.1,1071.4 1681.7,1068.9 1681.2,1066.5 1680.7,1064.0 1680.2,1061.6 1679.8,1059.1 1679.3,1056.7 1678.8,1054.2 1678.3,1051.8 1677.8,1049.3 1677.4,1046.9 1676.9,1044.4 1676.4,1042.0 1675.9,1039.5 1675.3,1037.1 1674.8,1034.6 1674.3,1032.2 1673.8,1029.7 1673.2,1027.3 1672.7,1024.9 1672.1,1022.4 1671.5,1020.0 1671.0,1017.5 1670.4,1015.1 1669.8,1012.7 1669.3,1010.2 1668.7,1007.8 1668.2,1005.4 1667.6,1002.9 1667.1,1000.5 1666.6,998.0 1666.1,995.6 1665.5,993.1 1665.0,990.7 1664.5,988.3 1664.0,985.8 1663.5,983.4 1663.0,980.9 1662.5,978.5 1662.0,976.0 1661.5,973.6 1661.0,971.1 1660.5,968.7 1660.0,966.2 1659.5,963.8 1659.0,961.3 1658.5,958.9 1658.0,956.4 1657.4,954.0 1656.9,951.5 1656.4,949.1 1655.9,946.6 1655.4,944.2 1654.9,941.7 1654.4,939.3 1653.9,936.8 1653.3,934.4 1652.8,931.9 1652.3,929.5 1651.8,927.1 1651.3,924.6 1650.7,922.2 1650.2,919.7 1649.6,917.3 1649.1,914.8 1648.6,912.4 1648.0,910.0 1647.4,907.5 1646.9,905.1 1646.3,902.7 1645.7,900.2 1645.1,897.8 1644.5,895.4 1643.9,893.0 1643.2,890.6 1642.6,888.1 1642.0,885.7 1641.3,883.3 1640.7,880.9 1640.0,878.5 1639.4,876.1 1638.7,873.7 1638.0,871.2 1637.4,868.8 1636.7,866.4 1636.0,864.0 1635.4,861.6 1634.7,859.2 1634.1,856.8 1633.4,854.4 1632.7,852.0 1632.1,849.5 1631.4,847.1 1630.8,844.7 1630.2,842.3 1629.5,839.9 1628.9,837.4 1628.3,835.0 1627.6,832.6 1627.0,830.2 1626.4,827.8 1625.8,825.3 1625.1,822.9 1624.5,820.5 1623.9,818.1 1623.2,815.7 1622.6,813.2 1622.0,810.8 1621.3,808.4 1620.7,806.0 1620.0,803.6 1619.3,801.2 1618.7,798.8 1618.0,796.4 1617.3,794.0 1616.6,791.6 1615.9,789.2 1615.2,786.8 1614.5,784.4 1613.8,782.0 1613.1,779.6 1612.4,777.2 1611.7,774.8 1611.0,772.4 1610.2,770.0 1609.5,767.6 1608.7,765.2 1608.0,762.8 1607.2,760.4 1606.5,758.0 1605.7,755.7 1604.9,753.3 1604.2,750.9 1603.4,748.5 1602.6,746.2 1601.8,743.8 1601.0,741.4 1600.1,739.1 1599.3,736.7 1598.5,734.4 1597.6,732.0 1596.7,729.7 1595.7,727.4 1594.8,725.1 1593.8,722.8 1592.9,720.5 1591.9,718.2 1590.9,715.9 1589.9,713.5 1589.0,711.2 1588.0,708.9 1587.1,706.6 1586.2,704.3 1585.3,701.9 1584.5,699.6 1583.6,697.2 1582.9,694.9 1582.1,692.5 1581.3,690.1 1580.6,687.7 1579.8,685.3 1578.9,683.0 1578.0,680.7 1577.1,678.3 1576.2,676.0 1575.3,673.7 1574.3,671.4 1573.4,669.1 1572.4,666.7 1571.5,664.4 1570.5,662.1 1569.6,659.8 1568.7,657.5 1567.8,655.1 1566.9,652.8 1566.0,650.4 1565.1,648.1 1564.2,645.8 1563.3,643.5 1562.3,641.2 1561.3,638.9 1560.3,636.6 1559.2,634.4 1558.0,632.1 1556.9,629.9 1555.7,627.7 1554.5,625.5 1553.3,623.3 1552.1,621.1 1550.9,618.9 1549.7,616.7 1548.5,614.5 1547.4,612.3 1546.3,610.1 1545.2,607.8 1544.0,605.6 1542.9,603.4 1541.8,601.1 1540.7,598.9 1539.6,596.6 1538.5,594.4 1537.4,592.2 1536.3,589.9 1535.2,587.7 1534.1,585.4 1533.0,583.2 1531.9,580.9 1530.8,578.6 1529.8,576.4 1528.7,574.2 1527.5,571.9 1526.4,569.7 1525.3,567.5 1524.1,565.3 1522.9,563.1 1521.7,560.9 1520.5,558.7 1519.3,556.5 1518.1,554.3 1516.9,552.1 1515.7,549.9 1514.5,547.7 1513.3,545.5 1512.1,543.3 1510.9,541.1 1509.7,538.9 1508.5,536.7 1507.3,534.5 1506.2,532.3 1505.0,530.0 1504.0,527.8 1502.9,525.5 1501.9,523.3 1501.0,521.0 1500.1,518.6 1499.2,516.3 1498.4,513.9 1497.5,511.6 1496.7,509.2 1495.9,506.8 1495.1,504.5 1494.3,502.1 1493.4,499.7 1492.5,497.4 1491.6,495.1 1490.7,492.8 1489.8,490.4 1488.8,488.1 1487.9,485.8 1487.0,483.4 1486.2,481.1 1485.3,478.8 1484.4,476.4 1483.6,474.1 1482.7,471.7 1481.9,469.4 1481.0,467.0 1480.2,464.7 1479.4,462.3 1478.6,459.9 1477.8,457.6 1477.0,455.2 1476.2,452.8 1475.4,450.4 1474.6,448.1 1473.9,445.7 1473.1,443.3 1472.4,440.9 1471.7,438.5 1471.0,436.1 1470.4,433.7 1469.8,431.2 1469.2,428.8 1468.7,426.4 1468.1,423.9 1467.6,421.5 1467.0,419.1 1466.5,416.6 1466.0,414.2 1465.4,411.7 1464.8,409.3 1464.3,406.9 1463.7,404.4 1463.1,402.0 1462.5,399.6 1462.0,397.1 1461.4,394.7 1460.8,392.3 1460.2,389.8 1459.6,387.4 1459.0,385.0 1458.4,382.6 1457.8,380.1 1457.2,377.7 1456.6,375.3 1455.9,372.9 1455.3,370.4 1454.7,368.0 1454.1,365.6 1453.5,363.2 1452.8,360.7 1452.2,358.3 1451.6,355.9 1450.9,353.5 1450.3,351.1 1449.6,348.7 1448.9,346.3 1448.1,343.9 1447.4,341.5 1446.6,339.1 1445.8,336.8 1444.9,334.4 1444.0,332.1 1443.0,329.8 1442.1,327.5 1441.2,325.1 1440.5,322.8 1439.7,320.4 1439.0,318.0 1438.4,315.6 1437.7,313.1 1437.0,310.7 1436.3,308.3 1435.6,305.9 1434.8,303.6 1434.1,301.2 1433.2,298.8 1432.4,296.5 1431.5,294.1 1430.6,291.8 1429.7,289.5 1428.8,287.1 1427.9,284.8 1427.0,282.5 1426.0,280.2 1425.1,277.8 1424.2,275.5 1423.2,273.2 1422.3,270.9 1421.3,268.6 1420.3,266.3 1419.3,264.0 1418.3,261.7 1417.3,259.4 1416.3,257.1 1415.3,254.9 1414.2,252.6 1413.2,250.3 1412.2,248.0 1411.1,245.8 1410.0,243.5 1408.9,241.2 1407.8,239.0 1406.7,236.8 1405.6,234.5 1404.5,232.3 1403.3,230.1 1402.2,227.9 1401.0,225.6 1399.9,223.4 1398.7,221.2 1397.4,219.0 1396.2,216.9 1395.0,214.7 1393.7,212.5 1392.4,210.4 1391.1,208.3 1389.8,206.1 1388.4,204.0 1387.1,201.8 1385.7,199.7 1384.3,197.6 1382.8,195.5 1381.3,193.5 1379.8,191.6 1378.2,189.7 1376.5,187.9 1378.3,189.7 1376.5,188.1 1374.5,186.6 1372.5,185.0 1370.5,183.6 1368.3,182.1 1366.2,180.7 1364.1,179.4 1361.9,178.1 1359.8,176.8 1357.6,175.6 1355.5,174.3 1353.3,173.1 1351.0,171.9 1348.8,170.7 1346.6,169.6 1344.3,168.6 1342.0,167.5 1339.7,166.6 1337.4,165.7 1335.0,164.9 1332.7,164.1 1330.3,163.4 1327.9,162.7 1325.5,162.1 1323.1,161.4 1320.6,160.8 1318.2,160.2 1315.8,159.6 1313.3,158.9 1310.9,158.3 1308.5,157.6 1306.1,156.9 1303.7,156.2 1301.3,155.5 1298.9,154.8 1296.5,154.1 1294.1,153.5 1291.6,152.9 1289.2,152.4 1286.8,151.8 1284.3,151.3 1281.9,150.8 1279.4,150.3 1276.9,149.9 1274.5,149.4 1272.0,149.0 1269.6,148.5 1267.1,148.1 1264.6,147.8 1262.1,147.3 1259.7,146.9 1257.2,146.5 1254.8,146.0 1252.4,145.4 1250.0,144.7 1247.5,144.0 1245.2,143.3 1242.8,142.6 1240.4,141.9 1237.9,141.2 1235.5,140.5 1233.1,139.8 1230.7,139.2 1228.3,138.5 1225.9,137.9 1223.4,137.4 1221.0,136.9 1218.5,136.4 1216.1,136.0 1213.6,135.6 1211.1,135.2 1208.7,134.8 1206.2,134.4 1203.7,134.0 1201.2,133.7 1198.8,133.3 1196.3,133.0 1193.8,132.6 1191.3,132.3 1188.9,131.9 1186.4,131.6 1183.9,131.2 1181.4,130.9 1179.0,130.5 1176.5,130.2 1174.0,129.9 1171.5,129.5 1169.0,129.2 1166.6,128.8 1164.1,128.5 1161.6,128.2 1159.1,127.9 1156.6,127.6 1154.2,127.2 1151.7,126.9 1149.2,126.6 1146.7,126.3 1144.2,126.0 1141.7,125.7 1139.2,125.5 1136.8,125.2 1134.3,124.9 1131.8,124.6 1129.3,124.4 1126.8,124.1 1124.3,123.9 1121.8,123.7 1119.3,123.4 1116.8,123.2 1114.4,123.0 1111.9,122.8 1109.4,122.6 1106.9,122.4 1104.4,122.3 1101.9,122.1 1099.4,122.0 1096.9,121.8 1094.4,121.7 1091.9,121.5 1089.4,121.4 1087.0,121.2 1084.5,121.1 1082.0,121.0 1079.5,120.8 1077.0,120.7 1074.5,120.6 1072.0,120.4 1069.5,120.3 1067.0,120.2 1064.5,120.1 1062.0,119.9 1059.5,119.8 1057.0,119.7 1054.5,119.6 1052.0,119.5 1049.5,119.4 1047.0,119.3 1044.5,119.2 1042.0,119.1 1039.5,119.0 1037.0,118.9 1034.5,118.8 1032.0,118.7 1029.5,118.7 1027.0,118.6 1024.5,118.5 1022.0,118.4 1019.5,118.4 1017.0,118.3 1014.5,118.2 1012.0,118.2 1009.5,118.1 1007.0,118.1 1004.5,118.1 1002.0,118.0 999.5,118.0 997.0,118.0 994.5,117.9 992.0,117.9 989.5,117.9 987.0,117.8 984.5,117.8 982.0,117.8 979.5,117.8 977.0,117.7 974.5,117.7 972.0,117.7 969.5,117.7 967.0,117.6 964.5,117.6 962.0,117.6 959.5,117.6 957.0,117.5 954.5,117.5 952.0,117.5 949.5,117.5 947.0,117.4 944.5,117.4 942.0,117.4 939.5,117.4 937.0,117.4 934.5,117.3 932.0,117.3 929.5,117.3 927.0,117.3 924.5,117.3 922.0,117.3 919.5,117.2 917.0,117.2 914.5,117.2 912.0,117.2 909.5,117.2 907.0,117.2 904.5,117.1 902.0,117.1 899.5,117.1 897.0,117.1 894.5,117.1 892.0,117.1 889.5,117.1 887.0,117.1 884.5,117.1 882.0,117.1 879.5,117.0 877.0,117.0 874.5,117.0 872.0,117.0 869.5,117.0 867.0,117.0 864.5,117.0 862.0,117.0 859.5,117.0 857.0,117.0 854.5,117.0 852.0,117.0 849.5,117.0 847.0,117.0 844.5,117.0 842.0,117.0 839.5,117.0 837.0,117.0 834.5,117.0 832.0,117.0 829.5,117.0 827.0,117.0 824.5,117.0 822.0,117.0 819.5,117.0 817.0,117.0 814.5,117.0 812.0,117.0 809.5,117.0 807.0,117.0 804.5,117.0 802.0,117.0 799.5,117.0 797.0,117.0 794.5,117.0 792.0,117.0 789.5,117.0 787.0,117.0 784.5,117.0 782.0,117.0 779.5,117.0 777.0,117.0 774.5,117.0 772.0,117.0 769.5,117.0 767.0,117.0 764.5,117.0 762.0,117.0 759.5,117.0 757.0,117.0 754.5,117.0 752.0,117.0 749.5,117.0 747.0,117.0 744.5,117.0 742.0,117.0 739.5,117.0 737.0,117.0 734.5,117.0 732.0,117.0 729.5,117.0 727.0,117.0 724.5,117.0 722.0,117.0 719.5,117.0 717.0,117.0 714.5,117.0 712.0,117.0 709.5,117.0 707.0,117.0 704.5,117.0 702.0,117.0 699.5,117.0 697.0,117.0 694.5,117.0 692.0,117.0 689.5,117.0 687.0,117.0 684.5,117.0 682.0,117.0 679.5,117.0 677.0,117.0 674.5,117.0 672.0,117.0 669.5,117.0 667.0,117.0 664.5,117.0 662.0,117.0 659.5,117.0 657.0,117.0 654.5,117.0 652.0,117.0 649.5,117.0 647.0,117.0 644.5,117.0 642.0,117.0 639.5,117.0 637.0,117.0 634.5,117.0 632.0,117.0 629.5,117.0 627.0,117.0 624.5,117.0 622.0,117.0 619.5,117.0 617.0,117.0 614.5,117.0 612.0,117.0 609.5,117.0 607.0,117.0 604.5,117.0 602.0,117.0 599.5,117.0 597.0,117.0 594.5,117.0 592.0,117.0 589.5,117.0 587.0,117.0 584.5,117.0 582.0,117.0 579.5,117.0 577.0,117.0 574.5,117.0 572.0,117.0 569.5,117.0 567.0,117.0 564.5,117.0 562.0,117.0 559.5,117.0 557.0,117.0 554.5,117.0 552.0,117.0 549.5,117.0 547.0,117.0 544.5,117.0 542.0,117.0 539.5,117.0 537.0,117.0 534.5,117.0 532.0,117.0 529.5,117.0 527.0,117.0 524.5,117.0 522.0,117.0 519.5,117.0 517.0,117.0 514.5,117.0 512.0,117.0 509.5,117.0 507.0,117.0 504.5,117.0 502.0,117.0 499.5,117.0 497.0,117.0 494.5,117.0 492.0,117.0 489.5,117.0 487.0,117.0 484.5,117.0 482.0,117.0 479.5,117.0 477.0,117.0 474.5,117.0 472.0,117.0 469.5,117.0 467.0,117.0 464.5,117.0 462.0,117.0 459.5,117.0 457.0,117.0 454.5,117.0 452.0,117.0 449.5,117.0 447.0,117.0 444.5,117.0 442.0,117.0 439.5,117.0 437.0,117.0 434.5,117.0 432.0,117.0 429.5,117.0 427.0,117.0 424.5,117.0 422.0,117.0 419.5,117.0 417.0,117.0 414.5,117.0 412.0,117.0 409.5,117.0 407.0,117.0 404.5,117.0 402.0,117.0 399.5,117.0 397.0,117.0 394.5,117.0z"/>
</g>
<g shape-rendering="crispEdges">
<path fill="#000000" d="M389,108h17v17h-17zM405,109h17v17h-17zM420,109h17v17h-17zM436,109h17v17h-17zM451,110h17v17h-17zM467,110h17v17h-17zM482,110h17v17h-17zM497,111h17v17h-17zM513,111h17v17h-17zM528,111h17v17h-17zM544,112h17v17h-17zM559,112h17v17h-17zM575,113h17v17h-17zM590,113h17v17h-17zM605,113h17v17h-17zM621,114h17v17h-17zM636,114h17v17h-17zM652,114h17v17h-17zM667,114h17v17h-17zM683,115h17v17h-17zM698,115h17v17h-17zM713,115h17v17h-17zM729,115h17v17h-17zM744,116h17v17h-17zM760,116h17v17h-17zM775,117h17v17h-17zM791,117h17v17h-17zM806,117h17v17h-17zM822,118h17v17h-17zM836,118h17v17h-17zM854,119h17v17h-17zM860,120h17v17h-17zM876,120h17v17h-17zM891,122h17v17h-17zM907,124h17v17h-17zM922,127h17v17h-17zM938,131h17v17h-17zM953,136h17v17h-17zM969,141h17v17h-17zM984,147h17v17h-17zM999,155h17v17h-17zM1015,163h17v17h-17zM1031,173h17v17h-17zM1046,186h17v17h-17zM1061,200h17v17h-17zM1077,217h17v17h-17zM1092,237h17v17h-17zM1107,261h17v17h-17zM1123,290h17v17h-17zM1139,324h17v17h-17zM1154,364h17v17h-17zM1169,411h17v17h-17zM1184,467h17v17h-17zM1200,533h17v17h-17zM1215,611h17v17h-17zM1230,702h17v17h-17zM1247,809h17v17h-17zM1262,935h17v17h-17zM1277,1071h17v17h-17zM1293,1146h17v17h-17zM1308,1235h17v17h-17zM1323,1331h17v17h-17zM1338,1427h17v17h-17zM1355,1489h17v17h-17zM1370,1497h17v17h-17zM1385,1501h17v17h-17zM1402,1501h17v17h-17zM1417,1501h17v17h-17zM1432,1501h17v17h-17zM1448,1501h17v17h-17zM1463,1501h17v17h-17zM1479,1501h17v17h-17zM1494,1501h17v17h-17zM1509,1501h17v17h-17zM1525,1501h17v17h-17zM1540,1501h17v17h-17zM1556,1501h17v17h-17zM1571,1501h17v17h-17zM1586,1501h17v17h-17zM1602,1501h17v17h-17zM1617,1501h17v17h-17zM1633,1501h17v17h-17zM1648,1501h17v17h-17zM1663,1501h17v17h-17zM1679,1501h17v17h-17zM1694,1501h17v17h-17zM1710,1501h17v17h-17zM1725,1501h17v17h-17zM1740,1501h17v17h-17zM1756,1501h17v17h-17zM1771,1501h17v17h-17zM1787,1501h17v17h-17zM1802,1501h17v17h-17zM1817,1501h17v17h-17zM1833,1501h17v17h-17zM1848,1501h17v17h-17zM1864,1501h17v17h-17zM1879,1501h17v17h-17zM1894,1501h17v17h-17zM1910,1501h17v17h-17zM1925,1501h17v17h-17zM1941,1501h17v17h-17zM1956,1501h17v17h-17zM1972,1501h17v17h-17zM1987,1501h17v17h-17zM2002,1501h17v17h-17zM2018,1501h17v17h-17zM2033,1501h17v17h-17zM2049,1501h17v17h-17zM2064,1501h17v17h-17zM2079,1501h17v17h-17zM2095,1501h17v17h-17zM2110,1501h17v17h-17zM2126,1501h17v17h-17zM2141,1501h17v17h-17z"/>
<path fill="#ff0000" d="M384,105h17v17h-17zM399,105h17v17h-17zM415,105h17v17h-17zM430,105h17v17h-17zM445,105h17v17h-17zM461,105h17v17h-17zM476,105h17v17h-17zM492,105h17v17h-17zM507,105h17v17h-17zM523,105h17v17h-17zM538,105h17v17h-17zM553,105h17v17h-17zM569,105h17v17h-17zM584,105h17v17h-17zM600,105h17v17h-17zM615,105h17v17h-17zM631,105h17v17h-17zM646,105h17v17h-17zM661,105h17v17h-17zM677,105h17v17h-17zM692,105h17v17h-17zM708,105h17v17h-17zM723,105h17v17h-17zM739,105h17v17h-17zM754,106h17v17h-17zM769,107h17v17h-17zM785,107h17v17h-17zM800,107h17v17h-17zM816,108h17v17h-17zM831,108h17v17h-17zM847,109h17v17h-17zM862,109h17v17h-17zM877,110h17v17h-17zM893,111h17v17h-17zM908,111h17v17h-17zM924,112h17v17h-17zM939,113h17v17h-17zM955,114h17v17h-17zM970,116h17v17h-17zM984,118h17v17h-17zM999,121h17v17h-17zM1014,123h17v17h-17zM1029,126h17v17h-17zM1044,130h17v17h-17zM1060,135h17v17h-17zM1076,140h17v17h-17zM1091,147h17v17h-17zM1107,155h17v17h-17zM1122,163h17v17h-17zM1138,174h17v17h-17zM1153,186h17v17h-17zM1168,200h17v17h-17zM1183,218h17v17h-17zM1199,238h17v17h-17zM1215,262h17v17h-17zM1230,290h17v17h-17zM1246,323h17v17h-17zM1261,362h17v17h-17zM1276,408h17v17h-17zM1292,461h17v17h-17zM1307,523h17v17h-17zM1323,595h17v17h-17zM1338,679h17v17h-17zM1354,733h17v17h-17zM1369,783h17v17h-17zM1384,848h17v17h-17zM1400,926h17v17h-17zM1415,1021h17v17h-17zM1430,1129h17v17h-17zM1446,1244h17v17h-17zM1462,1354h17v17h-17zM1477,1438h17v17h-17zM1492,1478h17v17h-17zM1508,1492h17v17h-17zM1523,1498h17v17h-17zM1538,1500h17v17h-17zM1552,1500h17v17h-17zM1567,1500h17v17h-17zM1582,1500h17v17h-17zM1598,1500h17v17h-17zM1613,1500h17v17h-17zM1629,1500h17v17h-17zM1644,1500h17v17h-17zM1660,1500h17v17h-17zM1675,1500h17v17h-17zM1691,1500h17v17h-17zM1706,1500h17v17h-17zM1722,1500h17v17h-17zM1737,1500h17v17h-17zM1753,1500h17v17h-17zM1768,1500h17v17h-17zM1784,1500h17v17h-17zM1799,1500h17v17h-17zM1815,1500h17v17h-17zM1830,1500h17v17h-17zM1846,1500h17v17h-17zM1861,1500h17v17h-17zM1877,1500h17v17h-17zM1892,1500h17v17h-17zM1908,1500h17v17h-17zM1923,1500h17v17h-17zM1939,1500h17v17h-17zM1954,1500h17v17h-17zM1970,1500h17v17h-17zM1985,1500h17v17h-17zM2001,1500h17v17h-17zM2016,1500h17v17h-17zM2032,1500h17v17h-17zM2047,1500h17v17h-17zM2063,1500h17v17h-17zM2078,1500h17v17h-17zM2094,1500h17v17h-17zM2109,1500h17v17h-17zM2125,1500h17v17h-17zM2140,1500h17v17h-17z"/>
<path fill="#0000ff" d="M381,105h17v17h-17zM396,105h17v17h-17zM412,105h17v17h-17zM427,105h17v17h-17zM443,105h17v17h-17zM458,105h17v17h-17zM474,105h17v17h-17zM489,105h17v17h-17zM504,105h17v17h-17zM520,105h17v17h-17zM535,105h17v17h-17zM551,105h17v17h-17zM566,105h17v17h-17zM582,105h17v17h-17zM597,105h17v17h-17zM612,105h17v17h-17zM628,106h17v17h-17zM643,106h17v17h-17zM659,106h17v17h-17zM674,106h17v17h-17zM690,106h17v17h-17zM705,106h17v17h-17zM721,106h17v17h-17zM736,106h17v17h-17zM751,106h17v17h-17zM767,106h17v17h-17zM782,106h17v17h-17zM798,106h17v17h-17zM813,106h17v17h-17zM829,106h17v17h-17zM844,107h17v17h-17zM859,107h17v17h-17zM875,108h17v17h-17zM890,108h17v17h-17zM906,108h17v17h-17zM921,108h17v17h-17zM937,109h17v17h-17zM952,109h17v17h-17zM967,109h17v17h-17zM983,110h17v17h-17zM998,111h17v17h-17zM1014,112h17v17h-17zM1029,113h17v17h-17zM1044,114h17v17h-17zM1060,116h17v17h-17zM1076,118h17v17h-17zM1092,119h17v17h-17zM1107,122h17v17h-17zM1122,125h17v17h-17zM1137,128h17v17h-17zM1152,132h17v17h-17zM1168,137h17v17h-17zM1184,142h17v17h-17zM1198,149h17v17h-17zM1214,157h17v17h-17zM1230,166h17v17h-17zM1245,176h17v17h-17zM1260,189h17v17h-17zM1276,204h17v17h-17zM1291,220h17v17h-17zM1307,240h17v17h-17zM1322,262h17v17h-17zM1338,289h17v17h-17zM1353,319h17v17h-17zM1368,355h17v17h-17zM1384,396h17v17h-17zM1399,443h17v17h-17zM1415,497h17v17h-17zM1430,558h17v17h-17zM1446,593h17v17h-17zM1461,620h17v17h-17zM1476,655h17v17h-17zM1491,699h17v17h-17zM1507,754h17v17h-17zM1523,823h17v17h-17zM1538,907h17v17h-17zM1554,1006h17v17h-17zM1569,1118h17v17h-17zM1584,1235h17v17h-17zM1599,1341h17v17h-17zM1615,1423h17v17h-17zM1630,1463h17v17h-17zM1646,1481h17v17h-17zM1661,1493h17v17h-17zM1676,1500h17v17h-17zM1692,1504h17v17h-17zM1708,1505h17v17h-17zM1723,1506h17v17h-17zM1739,1506h17v17h-17zM1754,1506h17v17h-17zM1770,1506h17v17h-17zM1785,1506h17v17h-17zM1801,1506h17v17h-17zM1816,1506h17v17h-17zM1831,1506h17v17h-17zM1847,1506h17v17h-17zM1862,1506h17v17h-17zM1878,1506h17v17h-17zM1893,1506h17v17h-17zM1909,1506h17v17h-17zM1924,1506h17v17h-17zM1939,1506h17v17h-17zM1955,1506h17v17h-17zM1970,1506h17v17h-17zM1986,1506h17v17h-17zM2001,1506h17v17h-17zM2017,1506h17v17h-17zM2032,1506h17v17h-17zM2048,1506h17v17h-17zM2063,1506h17v17h-17zM2078,1506h17v17h-17zM2094,1506h17v17h-17zM2109,1506h17v17h-17zM2125,1506h17v17h-17zM2140,1506h17v17h-17z"/>
<path fill="#ff00ff" d="M382,105h17v17h-17zM398,105h17v17h-17zM413,105h17v17h-17zM429,105h17v17h-17zM444,105h17v17h-17zM460,105h17v17h-17zM475,105h17v17h-17zM490,105h17v17h-17zM506,105h17v17h-17zM521,105h17v17h-17zM537,105h17v17h-17zM552,105h17v17h-17zM568,105h17v17h-17zM583,105h17v17h-17zM598,105h17v17h-17zM614,105h17v17h-17zM629,105h17v17h-17zM645,105h17v17h-17zM660,105h17v17h-17zM676,105h17v17h-17zM691,105h17v17h-17zM706,105h17v17h-17zM722,105h17v17h-17zM737,105h17v17h-17zM753,105h17v17h-17zM768,105h17v17h-17zM784,105h17v17h-17zM799,105h17v17h-17zM814,105h17v17h-17zM830,105h17v17h-17zM845,105h17v17h-17zM861,106h17v17h-17zM876,106h17v17h-17zM892,106h17v17h-17zM907,106h17v17h-17zM922,106h17v17h-17zM938,106h17v17h-17zM953,106h17v17h-17zM969,106h17v17h-17zM984,106h17v17h-17zM1000,107h17v17h-17zM1015,108h17v17h-17zM1030,108h17v17h-17zM1046,109h17v17h-17zM1061,110h17v17h-17zM1076,110h17v17h-17zM1090,111h17v17h-17zM1107,112h17v17h-17zM1122,114h17v17h-17zM1138,115h17v17h-17zM1153,117h17v17h-17zM1168,119h17v17h-17zM1183,122h17v17h-17zM1199,125h17v17h-17zM1215,129h17v17h-17zM1230,133h17v17h-17zM1246,138h17v17h-17zM1261,143h17v17h-17zM1276,150h17v17h-17zM1292,159h17v17h-17zM1307,167h17v17h-17zM1323,178h17v17h-17zM1338,191h17v17h-17zM1354,205h17v17h-17zM1369,221h17v17h-17zM1384,241h17v17h-17zM1400,262h17v17h-17zM1415,287h17v17h-17zM1430,316h17v17h-17zM1446,349h17v17h-17zM1462,386h17v17h-17zM1477,428h17v17h-17zM1492,477h17v17h-17zM1508,528h17v17h-17zM1523,543h17v17h-17zM1538,562h17v17h-17zM1554,585h17v17h-17zM1570,613h17v17h-17zM1585,648h17v17h-17zM1600,691h17v17h-17zM1616,744h17v17h-17zM1631,809h17v17h-17zM1646,887h17v17h-17zM1662,978h17v17h-17zM1678,1080h17v17h-17zM1693,1186h17v17h-17zM1708,1286h17v17h-17zM1723,1366h17v17h-17zM1739,1415h17v17h-17zM1754,1446h17v17h-17zM1770,1466h17v17h-17zM1786,1478h17v17h-17zM1801,1486h17v17h-17zM1816,1491h17v17h-17zM1832,1493h17v17h-17zM1848,1495h17v17h-17zM1863,1495h17v17h-17zM1879,1495h17v17h-17zM1894,1495h17v17h-17zM1909,1495h17v17h-17zM1925,1495h17v17h-17zM1940,1495h17v17h-17zM1955,1495h17v17h-17zM1971,1495h17v17h-17zM1986,1495h17v17h-17zM2002,1495h17v17h-17zM2017,1495h17v17h-17zM2032,1495h17v17h-17zM2048,1495h17v17h-17zM2063,1495h17v17h-17zM2078,1495h17v17h-17zM2094,1495h17v17h-17zM2109,1495h17v17h-17zM2125,1495h17v17h-17zM2140,1495h17v17h-17z"/>
</g>
</g>
<path fill="#000" fill-rule="evenodd" shape-rendering="crispEdges" d="M464,652H1086V1390H464zM466,655V1388H1084V655z"/>
<g stroke-width="7" stroke-linecap="round">
<line x1="474.4" y1="703.5" x2="639.5" y2="703.5" stroke="#000000"/>
<line x1="474.4" y1="794.1" x2="639.5" y2="794.1" stroke="#ff0000"/>
<line x1="474.4" y1="884.7" x2="639.5" y2="884.7" stroke="#0000ff"/>
<line x1="474.4" y1="975.3" x2="639.5" y2="975.3" stroke="#ff00ff"/>
</g>
<g shape-rendering="crispEdges">
<rect x="548" y="1057" width="17" height="17" fill="#000000"/>
<rect x="548" y="1148" width="17" height="17" fill="#ff0000"/>
<rect x="548" y="1239" width="17" height="17" fill="#0000ff"/>
<rect x="548" y="1329" width="17" height="17" fill="#ff00ff"/>
</g>
<text transform="translate(659.6 728.8) scale(1 1.027)" font-size="74" text-anchor="start">1 K/min</text>
<text transform="translate(659.6 819.4) scale(1 1.027)" font-size="74" text-anchor="start">2 K/min</text>
<text transform="translate(659.6 910.0) scale(1 1.027)" font-size="74" text-anchor="start">5 K/min</text>
<text transform="translate(659.6 1000.6) scale(1 1.027)" font-size="74" text-anchor="start">10 K/min</text>
<text transform="translate(681.5 1091.2) scale(1 1.027)" font-size="74" text-anchor="start">1 K/min_Fit</text>
<text transform="translate(681.5 1181.8) scale(1 1.027)" font-size="74" text-anchor="start">2 K/min_Fit</text>
<text transform="translate(681.5 1272.4) scale(1 1.027)" font-size="74" text-anchor="start">5 K/min_Fit</text>
<text transform="translate(660.9 1363.0) scale(1 1.027)" font-size="74" text-anchor="start">10 K/min_Fit</text>
</svg></body></html>
